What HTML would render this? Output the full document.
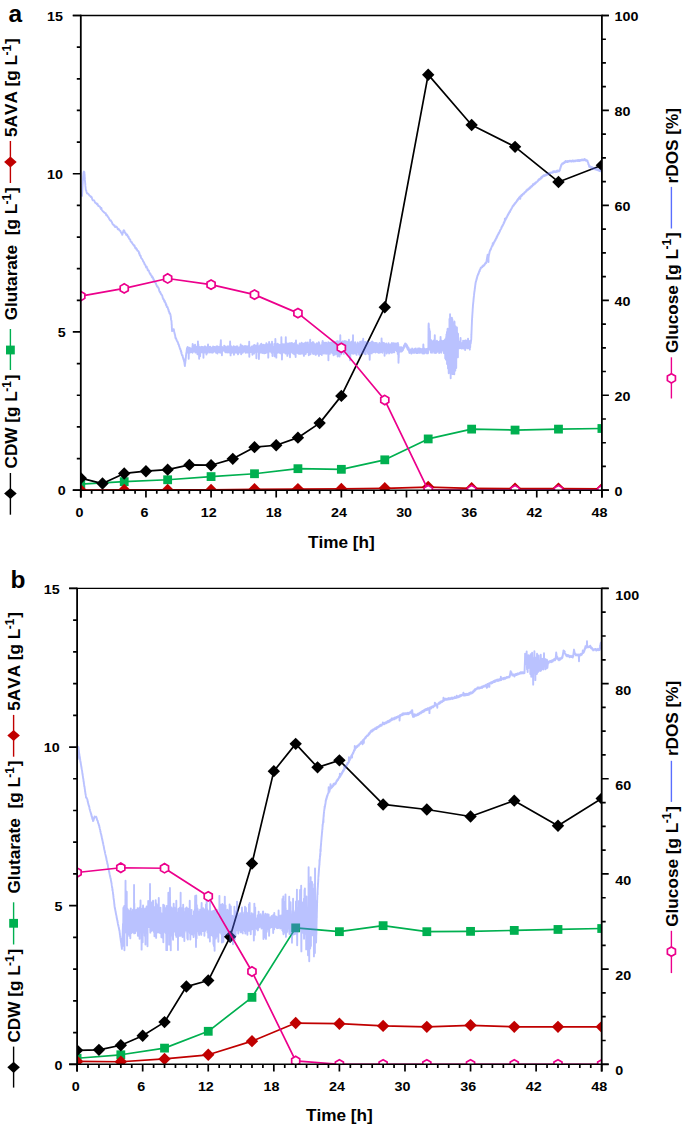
<!DOCTYPE html><html><head><meta charset="utf-8"><style>html,body{margin:0;padding:0;background:#fff;}svg{display:block;}text{font-kerning:none;font-feature-settings:"kern" 0;}</style></head><body>
<svg width="685" height="1128" viewBox="0 0 685 1128">
<rect width="685" height="1128" fill="#fff"/>
<defs>
<clipPath id="ca"><rect x="80.8" y="15.5" width="521.1" height="474.7"/></clipPath>
<clipPath id="cb"><rect x="77.1" y="588.4" width="524.6" height="475.9"/></clipPath>
</defs>
<g clip-path="url(#ca)"><polyline points="80.8,484.19 124.22,481.66 167.65,479.76 211.07,476.59 254.5,473.74 297.93,468.68 341.35,469.31 384.78,459.82 428.2,438.93 471.63,429.12 515.05,430.07 558.48,429.12 601.9,428.49" fill="none" stroke="#00B050" stroke-width="1.7" stroke-linejoin="round"/><rect x="76.4" y="479.79" width="8.8" height="8.8" fill="#00B050"/><rect x="119.82" y="477.26" width="8.8" height="8.8" fill="#00B050"/><rect x="163.25" y="475.36" width="8.8" height="8.8" fill="#00B050"/><rect x="206.67" y="472.19" width="8.8" height="8.8" fill="#00B050"/><rect x="250.1" y="469.34" width="8.8" height="8.8" fill="#00B050"/><rect x="293.53" y="464.28" width="8.8" height="8.8" fill="#00B050"/><rect x="336.95" y="464.91" width="8.8" height="8.8" fill="#00B050"/><rect x="380.38" y="455.42" width="8.8" height="8.8" fill="#00B050"/><rect x="423.8" y="434.53" width="8.8" height="8.8" fill="#00B050"/><rect x="467.23" y="424.72" width="8.8" height="8.8" fill="#00B050"/><rect x="510.65" y="425.67" width="8.8" height="8.8" fill="#00B050"/><rect x="554.08" y="424.72" width="8.8" height="8.8" fill="#00B050"/><rect x="597.5" y="424.09" width="8.8" height="8.8" fill="#00B050"/></g>
<g clip-path="url(#ca)"><polyline points="80.8,490.2 124.22,489.88 167.65,489.88 211.07,489.88 254.5,489.25 297.93,489.09 341.35,488.93 384.78,488.3 428.2,487.04 471.63,488.3 515.05,488.62 558.48,488.62 601.9,488.93" fill="none" stroke="#C00000" stroke-width="1.7" stroke-linejoin="round"/><path d="M80.8 484L87 490.2L80.8 496.4L74.6 490.2Z" fill="#C00000"/><path d="M124.22 483.68L130.42 489.88L124.22 496.08L118.02 489.88Z" fill="#C00000"/><path d="M167.65 483.68L173.85 489.88L167.65 496.08L161.45 489.88Z" fill="#C00000"/><path d="M211.07 483.68L217.27 489.88L211.07 496.08L204.88 489.88Z" fill="#C00000"/><path d="M254.5 483.05L260.7 489.25L254.5 495.45L248.3 489.25Z" fill="#C00000"/><path d="M297.93 482.89L304.12 489.09L297.93 495.29L291.73 489.09Z" fill="#C00000"/><path d="M341.35 482.73L347.55 488.93L341.35 495.13L335.15 488.93Z" fill="#C00000"/><path d="M384.78 482.1L390.98 488.3L384.78 494.5L378.58 488.3Z" fill="#C00000"/><path d="M428.2 480.84L434.4 487.04L428.2 493.24L422 487.04Z" fill="#C00000"/><path d="M471.63 482.1L477.83 488.3L471.63 494.5L465.43 488.3Z" fill="#C00000"/><path d="M515.05 482.42L521.25 488.62L515.05 494.82L508.85 488.62Z" fill="#C00000"/><path d="M558.48 482.42L564.68 488.62L558.48 494.82L552.27 488.62Z" fill="#C00000"/><path d="M601.9 482.73L608.1 488.93L601.9 495.13L595.7 488.93Z" fill="#C00000"/></g>
<g clip-path="url(#ca)"><polyline points="80.8,478.17 102.51,483.55 124.22,473.43 145.94,471.21 167.65,469.63 189.36,464.88 211.07,465.2 232.79,458.87 254.5,447.16 276.21,445.26 297.93,437.67 319.64,423.11 341.35,395.89 384.78,307.28 428.2,74.68 471.63,125 515.05,146.83 558.48,181.96 601.9,165.19" fill="none" stroke="#000" stroke-width="1.7" stroke-linejoin="round"/><path d="M80.8 471.97L87 478.17L80.8 484.37L74.6 478.17Z" fill="#000"/><path d="M102.51 477.35L108.71 483.55L102.51 489.75L96.31 483.55Z" fill="#000"/><path d="M124.22 467.23L130.42 473.43L124.22 479.63L118.02 473.43Z" fill="#000"/><path d="M145.94 465.01L152.14 471.21L145.94 477.41L139.74 471.21Z" fill="#000"/><path d="M167.65 463.43L173.85 469.63L167.65 475.83L161.45 469.63Z" fill="#000"/><path d="M189.36 458.68L195.56 464.88L189.36 471.08L183.16 464.88Z" fill="#000"/><path d="M211.07 459L217.27 465.2L211.07 471.4L204.88 465.2Z" fill="#000"/><path d="M232.79 452.67L238.99 458.87L232.79 465.07L226.59 458.87Z" fill="#000"/><path d="M254.5 440.96L260.7 447.16L254.5 453.36L248.3 447.16Z" fill="#000"/><path d="M276.21 439.06L282.41 445.26L276.21 451.46L270.01 445.26Z" fill="#000"/><path d="M297.93 431.47L304.12 437.67L297.93 443.87L291.73 437.67Z" fill="#000"/><path d="M319.64 416.91L325.84 423.11L319.64 429.31L313.44 423.11Z" fill="#000"/><path d="M341.35 389.69L347.55 395.89L341.35 402.09L335.15 395.89Z" fill="#000"/><path d="M384.78 301.08L390.98 307.28L384.78 313.48L378.58 307.28Z" fill="#000"/><path d="M428.2 68.48L434.4 74.68L428.2 80.88L422 74.68Z" fill="#000"/><path d="M471.63 118.8L477.83 125L471.63 131.2L465.43 125Z" fill="#000"/><path d="M515.05 140.63L521.25 146.83L515.05 153.03L508.85 146.83Z" fill="#000"/><path d="M558.48 175.76L564.68 181.96L558.48 188.16L552.27 181.96Z" fill="#000"/><path d="M601.9 158.99L608.1 165.19L601.9 171.39L595.7 165.19Z" fill="#000"/></g>
<g clip-path="url(#ca)"><g opacity="0.42"><polyline points="82,195.38 82.04,195.86 82.08,194.98 82.12,193.38 82.16,193.06 82.2,192.25 82.24,191.86 82.28,191.36 82.32,189.44 82.36,188.6 82.4,189.24 82.44,187.82 82.48,187.65 82.52,185.62 82.56,185.64 82.6,185.38 82.65,183.81 82.71,184.29 82.76,183.48 82.81,181.27 82.87,180.53 82.92,180.67 82.97,180.61 83.03,178.93 83.08,177.92 83.13,177.53 83.19,176.13 83.24,175.73 83.29,175.36 83.35,174.73 83.4,173.55 83.57,172.74 83.73,171.92 83.9,171.53 84.15,171.94 84.4,172.19 84.46,174.3 84.51,174.55 84.57,175.43 84.63,175.38 84.69,177.48 84.74,177.98 84.8,177.46 84.86,178.53 84.91,179.9 84.97,180.6 85.03,181.69 85.08,181.53 85.14,182.94 85.19,183.38 85.25,183.47 85.31,184.66 85.36,185.88 85.42,186.53 85.47,186.66 85.53,187.51 85.59,187.28 85.64,188.35 85.7,190.01 85.96,190.05 86.22,190.34 86.48,191.68 86.74,192.65 87,193.3 87.65,193.34 88.3,194 88.95,194.66 89.6,195.67 90.04,195.84 90.47,196.22 90.91,196.98 91.35,196.8 91.79,197.42 92.22,199.15 92.66,200.22 93.1,200.16 93.63,200.35 94.16,200.5 94.69,201.59 95.22,202.94 95.75,203.11 96.28,203.25 96.81,204.32 97.34,203.78 97.87,204.79 98.4,206.07 98.89,206.01 99.38,206.39 99.87,206.64 100.36,207.69 100.84,208.97 101.33,207.93 101.82,209.83 102.31,210.47 102.8,211.16 103.29,211.5 103.78,212.2 104.27,212.3 104.76,212.96 105.24,213.32 105.73,213.28 106.22,215.25 106.71,215.33 107.2,215.29 107.59,216.4 107.98,216.95 108.37,217.32 108.76,217.89 109.14,218.81 109.53,219.54 109.92,220.11 110.31,220.44 110.7,220.3 111.18,221.22 111.66,221.71 112.13,222.98 112.61,224.02 113.09,224.5 113.57,225.07 114.04,225.68 114.52,225.31 115,226.88 115.55,227.09 116.1,226.59 116.65,226.98 117.2,227.47 117.75,229.23 118.3,228.87 118.85,229.14 119.4,230.51 119.81,230.64 120.23,230.77 120.64,231.52 121.06,232.75 121.47,232.74 121.89,233.51 122.3,234.86 122.55,233.72 122.8,232.8 123.05,232.36 123.3,230.89 123.55,230.81 123.8,230.17 124.14,230.41 124.48,230.91 124.82,232.9 125.16,232.88 125.5,233.01 125.95,234.23 126.4,235.14 126.85,234.34 127.3,234.88 127.75,235.65 128.2,237.17 128.6,236.86 129,238.42 129.4,239.01 129.8,239.42 130.2,239.51 130.6,241.43 131,241.76 131.4,241.92 131.8,242.06 132.2,243.42 132.6,243.62 133.03,244.49 133.47,244.61 133.9,245.7 134.33,245.28 134.77,246.25 135.2,247.95 135.63,248.35 136.07,247.94 136.5,249.43 136.93,249.06 137.37,250.69 137.8,250.91 138.11,250.99 138.43,251.35 138.74,251.56 139.06,253.68 139.37,252.88 139.69,254.84 140,255.72 140.31,255.69 140.63,255.64 140.94,257.46 141.26,258.27 141.57,258.45 141.89,258.75 142.2,259.16 142.51,259.74 142.83,260.13 143.14,261.56 143.46,261.79 143.77,262.01 144.09,262.49 144.4,264.08 144.77,264.07 145.14,265.03 145.52,265.35 145.89,266.9 146.26,267.56 146.63,266.68 147.01,267.61 147.38,268.44 147.75,270.18 148.12,270.45 148.49,270.31 148.87,270.71 149.24,272.11 149.61,273.01 149.98,273.78 150.36,273.4 150.73,274.93 151.1,275.22 151.44,275.5 151.79,276.98 152.13,276.32 152.47,277.78 152.82,277.32 153.16,278.09 153.51,279.97 153.85,279.41 154.19,280.97 154.54,281.32 154.88,282.35 155.22,282.18 155.57,282.75 155.91,283.3 156.26,284.9 156.6,285.08 156.92,286.33 157.25,286.86 157.57,286.24 157.89,287.6 158.22,287.49 158.54,288.03 158.86,288.75 159.19,290.75 159.51,291.27 159.84,291.99 160.16,291.81 160.48,292.93 160.81,293.87 161.13,293.83 161.45,294.81 161.78,294.88 162.1,295.29 162.39,296.25 162.69,297.95 162.98,298.04 163.28,299.29 163.57,299.14 163.87,299.47 164.16,300.98 164.46,301.69 164.75,300.95 165.05,302.71 165.34,302.37 165.64,303.05 165.93,305 166.23,304.21 166.52,305.19 166.82,307.1 167.11,306.78 167.41,306.9 167.7,307.63 167.97,308.42 168.24,309.93 168.51,309.5 168.78,311.54 169.05,311.29 169.32,312.96 169.59,313.52 169.86,313.13 170.13,313.72 170.4,314.76 170.51,314.83 170.62,316.48 170.73,316.14 170.84,316.8 170.95,319.17 171.05,318.71 171.16,319.93 171.27,320.39 171.38,320.86 171.49,321.15 171.6,323.3 171.64,324.13 171.68,324.87 171.72,324.14 171.77,325.05 171.81,326.47 171.85,327.82 171.89,327.81 171.93,328.79 171.97,329.48 172.02,329.52 172.06,330.74 172.1,331.07 172.67,330.34 173.23,329.42 173.8,329.13 173.96,331.07 174.12,330.91 174.28,332.01 174.44,332.74 174.6,334 174.76,333.81 174.92,334.42 175.08,335.21 175.24,335.94 175.4,337.59 175.66,338.32 175.93,337.97 176.19,338.68 176.46,339.69 176.72,340.4 176.99,341.08 177.25,341.14 177.52,341.41 177.78,342.44 178.05,342.8 178.31,344.27 178.58,344.11 178.84,344.77 179.11,346.37 179.37,346.44 179.64,347.94 179.9,348.09 180.12,349.38 180.34,348.84 180.56,350.1 180.78,351.26 181,350.71 181.22,352.85 181.44,352.2 181.66,353.89 181.88,354.91 182.1,355.3 182.32,355.11 182.54,355.41 182.76,356.77 182.98,358.12 183.2,357.72 183.42,359.41 183.64,358.8 183.86,360.77 184.08,359.94 184.3,361.09 184.4,362.82 184.5,363.38 184.6,364.29 184.7,364.91 184.8,365.49 184.9,366.12 184.98,364.54 185.06,364.26 185.14,363.08 185.21,363.31 185.29,362.51 185.37,361.09 185.45,360.06 185.53,360.87 185.61,359.9 185.69,358.74 185.76,358.01 185.84,357.83 185.92,356.43 186,355.62 186.1,354.83 186.2,353.99 186.3,352.89 186.4,353.25 186.5,352.16 186.6,351.72 186.7,350.16 186.8,349.95 186.9,348.89 187,348.16 187.1,348.1 187.5,352.53 187.62,346.95 187.74,351.78 187.86,350.75 187.98,350.35 188.1,350.2 188.22,349.26 188.34,351.08 188.46,352.49 188.58,349.35 188.7,358.78 188.82,352.23 188.94,352.08 189.06,347.68 189.18,347.68 189.3,349.75 189.42,349.77 189.54,352.77 189.66,349.15 189.78,352.23 189.9,350.27 190.02,351.92 190.14,352.52 190.26,351.17 190.38,348.12 190.5,349.67 190.62,351.53 190.74,349.4 190.86,348.75 190.98,350.04 191.1,350.67 191.22,351.64 191.34,352.03 191.46,351.38 191.58,348.44 191.7,351.74 191.82,349.72 191.94,349.09 192.06,349.6 192.18,350.82 192.3,351.45 192.42,346.59 192.54,352.78 192.66,343.9 192.78,352.27 192.9,347.39 193.02,351.7 193.14,346.91 193.26,351.29 193.38,348.79 193.5,346.67 193.62,345.45 193.74,347.32 193.86,351.13 193.98,346.53 194.1,351.51 194.22,345.74 194.34,349.59 194.46,349.98 194.58,346.8 194.7,349.04 194.82,347.47 194.94,347.09 195.06,344.82 195.18,351.42 195.3,348.57 195.42,348.65 195.54,352.62 195.66,350.91 195.78,350.72 195.9,347.32 196.02,349.35 196.14,352.27 196.26,346.69 196.38,350.99 196.5,346.99 196.62,351.48 196.74,348.76 196.86,348.24 196.98,347.43 197.1,347.49 197.22,347.03 197.34,346.6 197.46,354.19 197.58,349.86 197.7,350.8 197.82,347.8 197.94,341.56 198.06,352.35 198.18,352.3 198.3,344.29 198.42,348.3 198.54,353.05 198.66,348.4 198.78,352.94 198.9,350.5 199.02,352.1 199.14,358.78 199.26,346.94 199.38,347.67 199.5,348.94 199.62,351.23 199.74,347.22 199.86,346.95 199.98,350.52 200.1,356.25 200.22,351.04 200.34,348.71 200.46,351.52 200.58,349.78 200.7,352.51 200.82,352.37 200.94,348.32 201.06,349.54 201.18,349.15 201.3,352.28 201.42,351.64 201.54,348.69 201.66,347.35 201.78,346.84 201.9,352.13 202.02,350.55 202.14,348.31 202.26,350.7 202.38,349.21 202.5,347.12 202.62,352.48 202.74,347.02 202.86,350.98 202.98,352.13 203.1,350.9 203.22,352.77 203.34,350.07 203.46,357.71 203.58,347.55 203.7,349.48 203.82,350.94 203.94,350.91 204.06,352.56 204.18,351.17 204.3,351.27 204.42,347.83 204.54,348.97 204.66,352.65 204.78,346.45 204.9,350.95 205.02,350.55 205.14,346.48 205.26,351.06 205.38,352.19 205.5,347.02 205.62,351.3 205.74,351.15 205.86,347.6 205.98,347.25 206.1,349.16 206.22,350.01 206.34,347.68 206.46,354.55 206.58,350.67 206.7,350.17 206.82,352.3 206.94,352.01 207.06,352.72 207.18,348.59 207.3,352.4 207.42,347.99 207.54,351.72 207.66,346.69 207.78,352.75 207.9,347.35 208.02,344.56 208.14,348.81 208.26,351.96 208.38,350.53 208.5,349.82 208.62,346.83 208.74,348.3 208.86,351.48 208.98,348.87 209.1,346.93 209.22,348.86 209.34,351.83 209.46,350.39 209.58,347.83 209.7,347.82 209.82,352.53 209.94,351.62 210.06,348.68 210.18,346.81 210.3,347.39 210.42,348.2 210.54,352.29 210.66,350.46 210.78,348.42 210.9,347.85 211.02,350.71 211.14,348.61 211.26,347.81 211.38,350.41 211.5,351.65 211.62,352.01 211.74,349.56 211.86,352.47 211.98,351.18 212.1,352.38 212.22,352.66 212.34,350.34 212.46,348.68 212.58,347.42 212.7,348.59 212.82,352.11 212.94,352.54 213.06,346.46 213.18,348.62 213.3,352.04 213.42,349.12 213.54,347.81 213.66,348.81 213.78,350.43 213.91,348.33 214.03,346.88 214.15,347.6 214.27,349.01 214.39,348.5 214.51,347.83 214.63,348.46 214.75,351.28 214.87,347.19 214.99,349.06 215.11,347.12 215.23,351.79 215.35,351.28 215.47,348.83 215.59,348.81 215.71,350.3 215.83,351.73 215.95,350.1 216.07,352.7 216.19,351.75 216.31,348.94 216.43,346.53 216.55,352.77 216.67,352.39 216.79,352.24 216.91,348.23 217.03,346.28 217.15,348.53 217.27,347.19 217.39,346.82 217.51,353.44 217.63,349.39 217.75,347.13 217.87,346.61 217.99,352.26 218.11,349.65 218.23,351.98 218.35,349.45 218.47,346.97 218.59,347.6 218.71,347.62 218.83,350.31 218.95,352.17 219.07,349.54 219.19,347.27 219.31,351.6 219.43,347.58 219.55,348.16 219.67,349.02 219.79,351.46 219.91,349.91 220.03,348.07 220.15,352.71 220.27,350.83 220.39,345.63 220.51,343.92 220.63,351.09 220.75,342.02 220.87,340.19 220.99,347.1 221.11,352.25 221.23,346.78 221.35,351.93 221.47,352.55 221.59,348.32 221.71,351.8 221.83,346.61 221.95,355.28 222.07,346.97 222.19,347.96 222.31,347.58 222.43,349.73 222.55,349.64 222.67,347.49 222.79,350.76 222.91,349.13 223.03,348.45 223.15,347.84 223.27,349.31 223.39,349.27 223.51,348.2 223.63,350.17 223.75,347.62 223.87,350.52 223.99,350.68 224.11,347.51 224.23,345.62 224.35,348.22 224.47,347.83 224.59,348.41 224.71,348.92 224.83,346.24 224.95,347 225.07,350.17 225.19,346.55 225.31,352.23 225.43,349.43 225.55,352.24 225.67,348.11 225.79,352.3 225.91,350.82 226.03,350.06 226.15,349.61 226.27,347.53 226.39,350.56 226.51,350.26 226.63,349.02 226.75,348.72 226.87,348.64 226.99,347.6 227.11,351.58 227.23,352.44 227.35,346.45 227.47,348.78 227.59,346.76 227.71,349.58 227.83,349.99 227.95,351.02 228.07,346.25 228.19,346.95 228.31,348.24 228.43,350.22 228.55,352.41 228.67,349.83 228.79,350.58 228.91,347.01 229.03,350.51 229.15,352.43 229.27,348.36 229.39,350.15 229.51,351.35 229.63,352.45 229.75,351.48 229.87,349.49 229.99,346.23 230.11,341.5 230.23,346.57 230.35,350.17 230.47,348.88 230.59,355.37 230.71,348.04 230.83,346.32 230.95,351.37 231.07,348.76 231.19,346.79 231.31,346.5 231.43,352.99 231.55,351.8 231.67,347.53 231.79,352.77 231.91,348.92 232.03,347.08 232.15,351.01 232.27,352.52 232.39,351.57 232.51,350.08 232.63,351.91 232.75,349.38 232.87,351.8 232.99,347.72 233.11,347.04 233.23,350.29 233.35,349.2 233.47,348.97 233.59,348.41 233.71,346.22 233.83,351.68 233.95,354.74 234.07,350.67 234.19,350.84 234.31,351.76 234.43,350.51 234.55,349.63 234.67,352.47 234.79,348.85 234.91,352.1 235.03,350.44 235.15,346.79 235.27,350.24 235.39,352.55 235.51,348.65 235.63,351.2 235.75,348.46 235.87,348.36 235.99,350.51 236.11,348.76 236.23,352.72 236.35,348.75 236.47,349.87 236.59,350.39 236.71,352.09 236.83,350.53 236.95,346.24 237.07,346.75 237.19,348.44 237.31,350.98 237.43,351.66 237.55,346.51 237.67,348.71 237.79,349 237.91,353.15 238.03,354.3 238.15,352.1 238.27,351.94 238.39,349.89 238.51,350.14 238.63,348.02 238.75,349.84 238.87,349.13 238.99,349.4 239.11,347.6 239.23,352.67 239.35,347.6 239.47,350.89 239.59,349.96 239.71,351.86 239.83,349.44 239.95,348.72 240.07,348.41 240.19,347.29 240.31,352.28 240.43,350.15 240.55,346.84 240.67,344.52 240.79,350.31 240.91,347.8 241.03,346.06 241.15,354.27 241.27,346.75 241.39,347.12 241.51,351.97 241.63,352.53 241.75,346.92 241.87,346.42 241.99,349.53 242.11,345.71 242.23,352.19 242.35,348.02 242.47,351.81 242.59,349.07 242.71,352.68 242.83,348.32 242.95,350.72 243.07,347.2 243.19,347.42 243.31,347.77 243.43,346.38 243.55,351.77 243.67,350.85 243.79,346.79 243.91,351.02 244.03,351.15 244.15,348.23 244.27,346.38 244.39,346.2 244.51,349.29 244.63,348.35 244.75,347.93 244.87,346.91 244.99,345.91 245.11,346.85 245.23,350.8 245.35,351.25 245.47,352.26 245.59,352.75 245.71,350.9 245.83,351.45 245.95,351.93 246.07,347.31 246.19,346.11 246.31,348.83 246.43,349.74 246.55,349.51 246.67,351.85 246.79,352.46 246.91,351.17 247.03,350.25 247.15,350.72 247.27,349.42 247.39,350.15 247.51,352.66 247.63,346.33 247.75,346.73 247.87,350.55 247.99,349.01 248.11,346.16 248.23,345.95 248.35,351.48 248.47,347.5 248.59,346.12 248.71,346.73 248.83,352.38 248.95,352.75 249.07,351.15 249.19,341.68 249.31,356.73 249.43,351.73 249.55,351.77 249.67,349.79 249.79,352.43 249.91,349.74 250.03,351.85 250.15,347.85 250.27,350.37 250.39,351.34 250.51,348.76 250.63,349.56 250.75,347.55 250.87,349.86 250.99,352.06 251.11,349.56 251.23,347.68 251.35,348.33 251.47,347.27 251.59,346.57 251.71,347.03 251.83,351.5 251.95,347.86 252.07,351.08 252.19,348.33 252.31,352.13 252.43,354.69 252.55,347.79 252.67,350.89 252.79,352.12 252.91,349.77 253.03,349.23 253.15,347.58 253.27,345.72 253.39,348.47 253.51,345.89 253.63,346.94 253.75,347.66 253.87,350.28 253.99,353.6 254.11,351.01 254.23,349.21 254.35,344.97 254.47,350.61 254.59,348.59 254.71,345.96 254.83,351.16 254.95,352.18 255.07,349.4 255.19,345.6 255.31,350.53 255.43,349.45 255.55,350.45 255.67,350.59 255.79,351.75 255.91,345.49 256.03,352.66 256.15,349.34 256.27,347.55 256.39,358.26 256.51,346.08 256.63,350.45 256.75,348.43 256.87,352.12 256.99,350.8 257.11,345.46 257.23,347.07 257.35,346.88 257.47,350.51 257.59,343.16 257.71,350.24 257.83,350.6 257.95,346.76 258.07,351.36 258.19,345.95 258.31,346.59 258.43,347.35 258.55,351.61 258.67,350.29 258.79,351.27 258.91,359.05 259.03,353.04 259.15,346.16 259.27,347.34 259.39,348.42 259.51,352.18 259.63,352.7 259.75,349.89 259.87,350.13 259.99,345.63 260.11,345.2 260.23,348.86 260.35,346.04 260.47,345.78 260.59,348.5 260.71,347.03 260.83,352.5 260.95,344.09 261.07,351.39 261.19,351.14 261.31,343.73 261.43,348.3 261.55,348.36 261.67,345.03 261.79,345.04 261.91,352.11 262.03,346.69 262.15,347.13 262.27,352.41 262.39,353.01 262.51,349.78 262.63,349.88 262.75,352.92 262.87,350.38 262.99,351.51 263.11,344.86 263.23,344.72 263.35,346.62 263.47,350.41 263.59,350.6 263.71,353 263.83,352.88 263.95,353.15 264.07,348.89 264.19,349.75 264.31,347.4 264.43,353.19 264.55,348.83 264.67,347.98 264.79,350.77 264.91,344.92 265.03,352.82 265.15,350.57 265.27,349.35 265.39,351.09 265.51,351.35 265.63,352.98 265.75,348.45 265.87,352.83 265.99,346.58 266.11,351.66 266.23,352.23 266.35,343.3 266.47,348.26 266.59,350.42 266.72,350.11 266.84,346.24 266.96,352.53 267.08,351.21 267.2,348.82 267.32,345.11 267.44,349.3 267.56,345.26 267.68,344.36 267.8,346.72 267.92,352.78 268.04,348.66 268.16,348.73 268.28,357.64 268.4,349.93 268.52,346.23 268.64,348.39 268.76,350.25 268.88,346.96 269,350.77 269.12,342.03 269.24,349.78 269.36,347.83 269.48,349.66 269.6,344.79 269.72,349.57 269.84,350.65 269.96,351.62 270.08,349.65 270.2,344.69 270.32,348.63 270.44,350.66 270.56,347.97 270.68,349.03 270.8,346.52 270.92,347.26 271.04,350.42 271.16,351.42 271.28,344.06 271.4,351.08 271.52,352.69 271.64,348.03 271.76,352.24 271.88,351.17 272,341.81 272.12,347.28 272.24,351.76 272.36,349.19 272.48,356.06 272.6,346.78 272.72,351.78 272.84,348.6 272.96,351.31 273.08,349.32 273.2,349.53 273.32,348.03 273.44,347.66 273.56,348.89 273.68,347.64 273.8,350.43 273.92,347.82 274.04,352.02 274.16,352.71 274.28,343.97 274.4,348.97 274.52,352.44 274.64,356.42 274.76,346.6 274.88,344.05 275,346.79 275.12,351.83 275.24,348.69 275.36,339.06 275.48,342.77 275.6,346.42 275.72,350.39 275.84,347.51 275.96,344.12 276.08,350.18 276.2,345 276.32,357.64 276.44,347 276.56,353.07 276.68,349.99 276.8,348.37 276.92,349.79 277.04,348.18 277.16,351.87 277.28,345.63 277.4,352.72 277.52,343.79 277.64,352.72 277.76,349.31 277.88,347.72 278,351.99 278.12,345.2 278.24,348.88 278.36,351.2 278.48,344.48 278.6,348.06 278.72,344.91 278.84,344.61 278.96,351.19 279.08,350.52 279.2,346.27 279.32,347.95 279.44,351.44 279.56,352.85 279.68,346.66 279.8,347.93 279.92,347.1 280.04,352.56 280.16,344.96 280.28,351.78 280.4,352.67 280.52,345.54 280.64,346.82 280.76,346.1 280.88,350.44 281,353.47 281.12,344.04 281.24,350.52 281.36,337.27 281.48,343.96 281.6,345.02 281.72,349.45 281.84,347.58 281.96,359.47 282.08,352.73 282.2,351 282.32,345.81 282.44,345.43 282.56,346.42 282.68,347.77 282.8,344.19 282.92,345.25 283.04,345.79 283.16,350.06 283.28,352.09 283.4,352.58 283.52,346.95 283.64,351.75 283.76,347.89 283.88,346.09 284,344.11 284.12,344.72 284.24,345.64 284.36,351.26 284.48,346.2 284.6,350.15 284.72,350.14 284.84,344.62 284.96,348.64 285.08,353.01 285.2,350.52 285.32,347.08 285.44,353.47 285.56,353.53 285.68,344.07 285.8,337.12 285.92,350.99 286.04,352.01 286.16,349.47 286.28,351.13 286.4,347.98 286.52,347.58 286.64,352.86 286.76,344.65 286.88,345.34 287,343.54 287.12,347.36 287.24,344.89 287.36,355.9 287.48,345.04 287.6,351.34 287.72,345.05 287.84,345.13 287.96,351.45 288.08,348.45 288.2,350.24 288.32,353.61 288.44,346.08 288.56,345.57 288.68,352.28 288.8,343.53 288.92,346.27 289.04,353.15 289.16,349.17 289.28,343.31 289.4,343.18 289.52,345.43 289.64,350.52 289.76,347.99 289.88,349.51 290,357.35 290.12,346.38 290.24,347.81 290.36,349.64 290.48,352.97 290.6,346.28 290.72,343.18 290.84,347.54 290.96,343.44 291.08,345.16 291.2,346.81 291.32,346.69 291.44,344.44 291.56,344.23 291.68,349.05 291.8,342.96 291.92,346.03 292.04,343.22 292.16,343.82 292.28,347.9 292.4,352.57 292.52,351.2 292.64,350.79 292.76,351.37 292.88,353.29 293,343.73 293.12,346.21 293.24,345.13 293.36,348.49 293.48,350.26 293.6,346.82 293.72,348.51 293.84,349.27 293.96,348.84 294.08,345.6 294.2,354.18 294.32,347.07 294.44,353.65 294.56,346.67 294.68,353.5 294.8,343.18 294.92,343.54 295.04,352.82 295.16,350.84 295.28,351.92 295.4,347.31 295.52,353.24 295.64,356.99 295.76,343.1 295.88,342.87 296,340.4 296.12,348.59 296.24,351.46 296.36,351.71 296.48,348.67 296.6,345.16 296.72,348.13 296.84,344.4 296.96,345.52 297.08,352.69 297.2,348.55 297.32,348.31 297.44,352.41 297.56,350.25 297.68,345.52 297.8,347.22 297.92,348.39 298.04,351.32 298.16,350.44 298.28,353.35 298.4,347.63 298.52,345.99 298.64,346.3 298.76,348.8 298.88,346.08 299,353.89 299.12,350.65 299.24,348.84 299.36,344.53 299.48,350.33 299.6,347.21 299.72,343.35 299.84,353.87 299.96,347.88 300.08,348.71 300.2,350.51 300.32,345.64 300.44,353.59 300.56,352.66 300.68,352.82 300.8,350.83 300.92,353.41 301.04,353.65 301.16,344.91 301.28,347.75 301.4,350.41 301.52,353.55 301.64,342.64 301.76,350.04 301.88,351.01 302,352.86 302.12,353.41 302.24,350.8 302.36,352.6 302.48,344.23 302.6,344.35 302.72,352.41 302.84,351.31 302.96,349.74 303.08,343.71 303.2,351 303.32,354.03 303.44,352.1 303.56,350.65 303.68,346.95 303.8,347.38 303.92,355.89 304.04,352.33 304.16,344.5 304.28,347.88 304.4,353.18 304.52,343.27 304.64,346.18 304.76,349.66 304.88,343.41 305,354.2 305.12,349.62 305.24,349.19 305.36,353.2 305.48,347.23 305.6,348.93 305.72,353.9 305.84,342.56 305.96,348.79 306.08,348.39 306.2,347.29 306.32,352.5 306.44,346.94 306.56,351.89 306.68,346.96 306.8,351.98 306.92,348.45 307.04,346.36 307.16,343.31 307.28,342.88 307.4,351.95 307.52,349.15 307.64,347.46 307.76,343.66 307.88,342.33 308,350.94 308.12,344.6 308.24,347.57 308.36,344.52 308.48,351.48 308.6,350.62 308.72,353.74 308.84,355.27 308.96,353.87 309.08,352.06 309.2,351.39 309.32,344.79 309.44,353.85 309.56,347.51 309.68,352.33 309.8,343.88 309.92,349.88 310.04,342.57 310.16,339.69 310.28,349.41 310.4,342.48 310.52,354.26 310.64,347.83 310.76,344.89 310.88,350.74 311,349.57 311.12,350.56 311.24,347.33 311.36,351.43 311.48,351.67 311.6,348.08 311.72,344.25 311.84,346.82 311.96,351.72 312.08,347.09 312.2,342.58 312.32,347.99 312.44,343.92 312.56,342.87 312.68,342.25 312.8,353.62 312.92,345.58 313.04,342.45 313.16,348.42 313.28,347.9 313.4,347.26 313.52,342.53 313.64,352.08 313.76,353.78 313.88,354.02 314,345.8 314.12,343.89 314.24,352.09 314.36,351.28 314.48,352.44 314.6,346.09 314.72,353.11 314.84,345.44 314.96,345.05 315.08,344.24 315.2,351.55 315.32,354.04 315.44,345.92 315.56,350.7 315.68,354.88 315.8,354.84 315.92,352.67 316.04,353.24 316.16,350.27 316.28,353.9 316.4,353.45 316.52,345.84 316.64,346.5 316.76,345.97 316.88,343.12 317,353.31 317.12,343.86 317.24,352.3 317.36,347.74 317.48,348.49 317.6,353.23 317.72,353.69 317.84,347.55 317.96,344.88 318.08,353.07 318.2,352.45 318.32,349.82 318.44,344.95 318.56,351.72 318.68,349.25 318.8,342.11 318.92,355.91 319.04,346.36 319.16,342.93 319.28,353.79 319.41,344.11 319.53,344.54 319.65,348.14 319.77,347.34 319.89,350.95 320.01,346.12 320.13,352.28 320.25,345.92 320.37,354.03 320.49,349.34 320.61,350.49 320.73,345.61 320.85,346.12 320.97,349.04 321.09,349.25 321.21,348.4 321.33,347.59 321.45,347.86 321.57,349.28 321.69,345.99 321.81,355.07 321.93,351.58 322.05,344.37 322.17,352.73 322.29,342.26 322.41,344.08 322.53,353 322.65,340.87 322.77,352.65 322.89,353.15 323.01,344.88 323.13,343.01 323.25,352.54 323.37,343.71 323.49,351.08 323.61,342.42 323.73,346.16 323.85,349.43 323.97,353.66 324.09,344.92 324.21,349.66 324.33,347.76 324.45,345.95 324.57,344.54 324.69,352.46 324.81,343.77 324.93,347.49 325.05,345.09 325.17,344.42 325.29,342.69 325.41,343.74 325.53,346.61 325.65,352.37 325.77,347.91 325.89,346.92 326.01,353.75 326.13,350.55 326.25,342.81 326.37,348.92 326.49,352.12 326.61,353.29 326.73,346.87 326.85,353.58 326.97,351.29 327.09,347.4 327.21,346.73 327.33,347.38 327.45,345.52 327.57,346.77 327.69,344.05 327.81,352.15 327.93,352.55 328.05,348.33 328.17,350.18 328.29,342.23 328.41,360.24 328.53,346.19 328.65,345.94 328.77,353.19 328.89,348.56 329.01,345.9 329.13,351.8 329.25,351.92 329.37,353.43 329.49,345.72 329.61,342.85 329.73,353.6 329.85,353.87 329.97,344.75 330.09,342.77 330.21,351.26 330.33,350.96 330.45,351.13 330.57,348.89 330.69,344.4 330.81,348.06 330.93,352.3 331.05,342.63 331.17,348.52 331.29,349.59 331.41,342.51 331.53,342.98 331.65,349.49 331.77,347.1 331.89,349.68 332.01,352.4 332.13,350.33 332.25,345.08 332.37,345.65 332.49,353.41 332.61,348.7 332.73,346.75 332.85,350.18 332.97,344.09 333.09,341.7 333.21,348.4 333.33,347.88 333.45,347.63 333.57,355.25 333.69,346.91 333.81,346.91 333.93,341.65 334.05,342.34 334.17,349.23 334.29,347.53 334.41,347.47 334.53,352.33 334.65,350.51 334.77,345.99 334.89,349.7 335.01,354.54 335.13,345.1 335.25,351.07 335.37,342.01 335.49,342.57 335.61,344.65 335.73,345.9 335.85,342.63 335.97,351.6 336.09,346.83 336.21,343.4 336.33,352.17 336.45,347.45 336.57,346.42 336.69,344.26 336.81,350.77 336.93,354.29 337.05,341.3 337.17,352.63 337.29,347.07 337.41,341.1 337.53,350.54 337.65,356.6 337.77,344.84 337.89,342.51 338.01,344.47 338.13,354.3 338.25,351.51 338.37,342.1 338.49,348.85 338.61,344.96 338.73,348.34 338.85,349.19 338.97,341.46 339.09,351.36 339.21,347.87 339.33,349.84 339.45,343.05 339.57,356.61 339.69,344.4 339.81,344.99 339.93,343.15 340.05,342.8 340.17,351.16 340.29,335.22 340.41,346.68 340.53,344.19 340.65,351.83 340.77,352.08 340.89,346.24 341.01,353.4 341.13,354.27 341.25,347.79 341.37,342.18 341.49,342.37 341.61,342.71 341.73,348.3 341.85,352 341.97,351.68 342.09,351.91 342.21,352.14 342.33,350.04 342.45,341.4 342.57,347.63 342.69,344.29 342.81,348.54 342.93,341.32 343.05,343.33 343.17,342.43 343.29,351.26 343.41,350.88 343.53,349.36 343.65,352.31 343.77,353.92 343.89,346.62 344.01,349.41 344.13,345.32 344.25,346.72 344.37,342.84 344.49,347.86 344.61,341.65 344.73,342.93 344.85,340.87 344.97,351.66 345.09,341.72 345.21,347.82 345.33,346.64 345.45,347.95 345.57,348.31 345.69,349.12 345.81,342.16 345.93,344.35 346.05,341.5 346.17,348.89 346.29,348.53 346.41,350.82 346.53,349.71 346.65,343.58 346.77,343.76 346.89,349.63 347.01,341.63 347.13,343.45 347.25,354.6 347.37,342.79 347.49,346.14 347.61,343.29 347.73,353.85 347.85,354.59 347.97,342.27 348.09,346.97 348.21,344.49 348.33,349.93 348.45,350.74 348.57,347 348.69,350.68 348.81,353.57 348.93,339.58 349.05,351.04 349.17,351.72 349.29,344.11 349.41,349.42 349.53,348.98 349.65,346.24 349.77,346.05 349.89,354.13 350.01,360.3 350.13,354.85 350.25,359.68 350.37,350.75 350.49,348.74 350.61,344.33 350.73,342.43 350.85,351.4 350.97,351.35 351.09,352.29 351.21,341.83 351.33,349.94 351.45,341.59 351.57,350.45 351.69,343.36 351.81,341.62 351.93,345.65 352.05,346.12 352.17,353.47 352.29,343.39 352.41,345.44 352.53,352.31 352.65,349.55 352.77,351.03 352.89,349.43 353.01,335.32 353.13,344.26 353.25,342.7 353.37,353.56 353.49,343.75 353.61,343.32 353.73,353.73 353.85,347.96 353.97,349.85 354.09,345.72 354.21,353.07 354.33,353.27 354.45,347.2 354.57,342.85 354.69,350.48 354.81,348.61 354.93,348.91 355.05,349.35 355.17,342.11 355.29,344.6 355.41,352.43 355.53,351.21 355.65,346.89 355.77,352.51 355.89,353.53 356.01,346.94 356.13,351.7 356.25,348.24 356.37,348.79 356.49,344.39 356.61,354.9 356.73,351.85 356.85,351.22 356.97,345.27 357.09,344.65 357.21,351.85 357.33,352.49 357.45,347.31 357.57,344.91 357.69,342.44 357.81,344.5 357.93,343.12 358.05,345.62 358.17,345.7 358.29,347.49 358.41,347.98 358.53,348.4 358.65,345.97 358.77,346.91 358.89,346.46 359.01,354.13 359.13,350.97 359.25,350.19 359.37,343.39 359.49,351.95 359.61,346.67 359.73,355.59 359.85,346.13 359.97,348.1 360.09,343.09 360.21,341.61 360.33,342.58 360.45,344.44 360.57,351.62 360.69,342.1 360.81,345.97 360.93,347.51 361.05,346.95 361.17,343.67 361.29,352.44 361.41,351.6 361.53,351.73 361.65,344.83 361.77,344.1 361.89,344.74 362.01,350.65 362.13,341.14 362.25,353.54 362.37,352.04 362.49,342.38 362.61,347.62 362.73,344.09 362.85,347.7 362.97,352.74 363.09,343.87 363.21,338.73 363.33,347.42 363.45,349.6 363.57,342.46 363.69,341.95 363.81,347.1 363.93,344.23 364.05,342.01 364.17,350.37 364.29,351.96 364.41,346.51 364.53,353.83 364.65,346.29 364.77,342.32 364.89,353.08 365.01,353.14 365.13,346.14 365.25,351 365.37,342.38 365.49,353.45 365.61,341.99 365.73,354.25 365.85,343.63 365.97,350.45 366.09,344.95 366.21,350.21 366.33,349.02 366.45,350.99 366.57,346.07 366.69,349.08 366.81,347.63 366.93,344.46 367.05,346.58 367.17,342.18 367.29,348.62 367.41,345.68 367.53,348.23 367.65,344 367.77,342.04 367.89,352.88 368.01,353.32 368.13,346.01 368.25,351.65 368.37,353.99 368.49,347.23 368.61,348.25 368.73,344.95 368.85,345.22 368.97,344.62 369.09,344.14 369.21,343.03 369.33,345.34 369.45,348.54 369.57,350.59 369.69,359.69 369.81,354.61 369.93,352.05 370.05,345.33 370.17,342.84 370.29,346.56 370.41,344.05 370.53,352.17 370.65,343.34 370.77,343.28 370.89,345.3 371.01,345.64 371.13,342.99 371.25,349.25 371.37,347.54 371.49,343.86 371.61,341.66 371.73,353.4 371.85,343.64 371.97,348.16 372.09,343.61 372.22,341.4 372.34,345.71 372.46,345.02 372.58,342.93 372.7,350.2 372.82,352.36 372.94,345.34 373.06,346.97 373.18,342.6 373.3,342.55 373.42,344.58 373.54,352.13 373.66,349.63 373.78,349.28 373.9,350.57 374.02,351.06 374.14,348.65 374.26,351.44 374.38,347.14 374.5,349.99 374.62,345.65 374.74,351.73 374.86,342.99 374.98,346.41 375.1,347.5 375.22,345.73 375.34,350.43 375.46,352.46 375.58,343.05 375.7,342.92 375.82,346.36 375.94,343.82 376.06,343.32 376.18,349.53 376.3,351.79 376.42,348.41 376.54,348.74 376.66,351.1 376.78,343.07 376.9,345.97 377.02,344.15 377.14,351.07 377.26,348.05 377.38,346.84 377.5,352.26 377.62,347.57 377.74,351.58 377.86,349.58 377.98,352.15 378.1,349.42 378.22,351.39 378.34,344.51 378.46,346.39 378.58,349.86 378.7,350.78 378.82,352.88 378.94,350.84 379.06,349.36 379.18,352.22 379.3,346.88 379.42,342.91 379.54,343.6 379.66,344.45 379.78,344.78 379.9,345.39 380.02,343.78 380.14,352.49 380.26,351.77 380.38,343.86 380.5,349.69 380.62,347.13 380.74,349.54 380.86,352.1 380.98,351 381.1,343.57 381.22,346.11 381.34,348.84 381.46,345.78 381.58,338.41 381.7,346.94 381.82,348.82 381.94,347.27 382.06,351.1 382.18,343.1 382.3,349.93 382.42,352.78 382.54,347.68 382.66,342.7 382.78,350.13 382.9,343.36 383.02,350.84 383.14,348.77 383.26,344.54 383.38,344.17 383.5,347.57 383.62,347.12 383.74,347.2 383.86,350.7 383.98,342.83 384.1,344.23 384.22,346.18 384.34,345.06 384.46,345.82 384.58,355.82 384.7,345.6 384.82,350.72 384.94,348.27 385.06,347.83 385.18,346.84 385.3,346.89 385.42,350.66 385.54,350.19 385.66,348.51 385.78,343.97 385.9,347.81 386.02,343.86 386.14,346.93 386.26,343.41 386.38,343.92 386.5,347.74 386.62,353.53 386.74,347.08 386.86,350.8 386.98,352.61 387.1,346.56 387.22,349.67 387.34,347.77 387.46,345.24 387.58,351.32 387.7,345.5 387.82,347.73 387.94,352.32 388.06,345.19 388.18,345.33 388.3,344.74 388.42,352.3 388.54,343.31 388.66,351.03 388.78,346.3 388.9,349.33 389.02,350.44 389.14,353.43 389.26,352.53 389.38,351.73 389.5,352.25 389.62,350.59 389.74,344.81 389.86,347.9 389.98,348.03 390.1,348.62 390.22,350.49 390.34,346.37 390.46,352.39 390.58,345.06 390.7,347.98 390.82,349.23 390.94,344.88 391.06,349.57 391.18,343.99 391.3,351.52 391.42,352.77 391.54,344.66 391.66,347.37 391.78,348.12 391.9,342.97 392.02,343.63 392.14,343.5 392.26,344.08 392.38,349.5 392.5,350.23 392.62,344.68 392.74,352.53 392.86,351.08 392.98,345.92 393.1,343.35 393.22,350.44 393.34,343.36 393.46,345.91 393.58,343.24 393.7,347.69 393.82,345.59 393.94,348.53 394.06,347.34 394.18,348.8 394.3,352.18 394.42,344.14 394.54,348.52 394.66,345.43 394.78,346.76 394.9,343.57 395.02,350.34 395.14,344.38 395.26,350.1 395.38,349.86 395.5,345.4 395.62,348.69 395.74,344.75 395.86,347.03 395.98,344.04 396.1,343.42 396.22,345.45 396.34,346.61 396.46,346.34 396.58,347.47 396.7,344.77 396.82,351.29 396.94,345.27 397.06,346.25 397.18,343.44 397.3,346.99 397.42,351.65 397.54,351.2 397.66,345.08 397.78,353.99 397.9,342.89 398.02,345.86 398.14,344.11 398.26,344.37 398.38,351.33 398.5,362.72 398.63,357.33 398.77,357.5 398.9,346.86 399.02,351.13 399.14,350.82 399.26,350.18 399.38,349.01 399.5,351.14 399.62,349.08 399.74,351.73 399.86,349 399.98,351.07 400.1,350.89 400.22,348.8 400.34,350.31 400.46,347.13 400.58,348.51 400.7,349.7 400.82,348.24 400.94,348.16 401.06,350.12 401.18,350.46 401.3,351.61 401.42,347.56 401.54,348.84 401.66,347.11 401.78,350.97 401.9,348.27 402.02,351.25 402.14,350.89 402.26,349.72 402.38,347.8 402.5,348.17 402.62,349.89 402.74,348.13 402.86,350.33 402.98,349.81 403.1,349.36 403.22,348.38 403.34,349.25 403.47,348.04 403.59,348.41 403.71,347.13 403.83,348.11 403.95,345.61 404.07,346.1 404.19,346.23 404.31,347.14 404.43,344.85 404.55,344.84 404.67,345.76 404.79,344.41 404.91,343.9 405.03,344.15 405.16,343.57 405.28,344.89 405.4,345.53 405.52,343.99 405.64,343.66 405.76,344.36 405.88,345.51 406,345.42 406.12,344.55 406.24,344.07 406.36,346.59 406.48,346.96 406.6,345.77 406.72,345.33 406.84,346.29 406.97,347.79 407.09,345.25 407.21,345.78 407.33,347.79 407.45,348.79 407.57,348.99 407.69,347.5 407.81,347.43 407.93,347.7 408.05,347.09 408.17,350.02 408.29,348.1 408.41,348.79 408.53,349.36 408.66,348.05 408.78,349.72 408.9,349.17 409.02,350.34 409.14,351.84 409.26,349.63 409.38,351.44 409.5,352.95 409.62,352.04 409.74,351.16 409.86,349.98 409.98,349.62 410.1,351.49 410.22,351.13 410.34,352.06 410.46,351.32 410.58,349.36 410.7,350.23 410.82,351.96 410.94,352.97 411.06,352.54 411.19,350.74 411.31,353.58 411.43,352.19 411.55,351.87 411.67,350.82 411.79,352.09 411.91,350.63 412.03,352.4 412.15,348.51 412.27,348.72 412.39,350.85 412.51,351.74 412.63,349.69 412.75,351.59 412.87,352.53 412.99,351.14 413.11,352.88 413.23,351.69 413.35,351.07 413.47,352.24 413.59,350.68 413.71,352.88 413.83,349.45 413.95,350.23 414.07,350.84 414.19,350.67 414.32,350.33 414.44,350.82 414.56,348.89 414.68,350.21 414.8,352.69 414.92,351.17 415.04,348.68 415.16,349.07 415.28,352.19 415.4,352.28 415.52,348.96 415.64,350.98 415.76,348.47 415.88,352.26 416,349.99 416.12,349.65 416.24,352.67 416.36,350.91 416.48,349.92 416.6,350.09 416.72,351.59 416.84,353.07 416.96,350.11 417.08,352.99 417.2,351.72 417.32,349.28 417.45,350.62 417.57,351.55 417.69,353.02 417.81,350.41 417.93,352.52 418.05,348.52 418.17,351.38 418.29,352.75 418.41,351.29 418.53,351.78 418.65,349.93 418.77,350.99 418.89,351.79 419.01,348.55 419.13,349.17 419.25,351.13 419.37,351.84 419.49,351.57 419.61,352.91 419.73,348.5 419.85,350.09 419.97,350.65 420.09,352.15 420.21,352.07 420.33,349.02 420.45,351.85 420.58,352.59 420.7,348.93 420.82,351.5 420.94,349.86 421.06,351.56 421.18,351.7 421.3,352.1 421.42,350.42 421.54,349.33 421.66,350.25 421.78,350.63 421.9,350.28 422.02,350.01 422.14,352.13 422.26,353.27 422.38,348.75 422.5,350.76 422.62,352.42 422.74,353.43 422.86,350.85 422.98,349.67 423.1,348.59 423.22,348.99 423.34,344.5 423.46,348.82 423.58,349.91 423.71,353.58 423.83,351.74 423.95,348.73 424.07,348.93 424.19,351.93 424.31,351.33 424.43,350.91 424.55,353.31 424.67,348.63 424.79,350.96 424.91,348.88 425.03,352.18 425.15,352.72 425.27,350.2 425.39,349.11 425.51,351.39 425.63,352.51 425.75,350.87 425.87,349.72 425.99,352.33 426.11,349.62 426.23,349.75 426.35,349.57 426.47,349.13 426.59,348.89 426.71,351.64 426.84,353.01 426.96,353.32 427.08,352.35 427.2,349.04 427.32,353.04 427.44,348.68 427.56,350.99 427.68,352.56 427.8,349.9 427.92,352.47 428.04,353.19 428.16,350.02 428.28,348.6 428.4,349.72 428.53,326.03 428.67,323.56 428.8,324.41 428.93,338.27 429.05,333.61 429.18,339.44 429.31,328.78 429.43,331.84 429.56,347.16 429.68,341.62 429.81,333.17 429.94,331.19 430.06,344.21 430.19,345.11 430.32,350.56 430.44,348.87 430.57,339.68 430.69,342.44 430.82,352.57 430.95,339.93 431.07,351.13 431.2,351.65 431.32,345.36 431.44,350.55 431.56,345.1 431.68,340.91 431.8,348.01 431.92,345.17 432.04,352.78 432.16,351.32 432.28,342.08 432.4,352.05 432.52,343.21 432.64,351.67 432.76,350.62 432.88,341.86 433,348.91 433.12,345.26 433.24,343 433.36,349.67 433.48,340.88 433.6,344.52 433.72,340.77 433.84,340.51 433.96,340.74 434.08,347.7 434.2,343.03 434.32,352.91 434.44,341.99 434.56,342.08 434.68,349.18 434.8,335.3 434.92,345.75 435.04,346.43 435.16,344.39 435.28,352.57 435.4,351.7 435.52,341.13 435.64,351.46 435.76,350.72 435.88,352.99 436,350.59 436.12,350.77 436.24,348.93 436.36,343.74 436.48,352.43 436.6,350.39 436.72,347.23 436.84,348.13 436.96,340.8 437.08,351.89 437.2,342.73 437.32,349.38 437.44,341.69 437.56,343.24 437.68,350.79 437.8,347.86 437.92,347.79 438.04,348.01 438.16,344.28 438.28,345.87 438.4,341.96 438.52,343.3 438.64,343.6 438.76,347.8 438.88,347.29 439,348.69 439.12,353.04 439.24,347.69 439.36,351.96 439.48,342.33 439.6,342.94 439.72,349.89 439.84,345.04 439.96,344.24 440.08,340.8 440.2,347.21 440.32,341.37 440.44,347.5 440.56,336.85 440.68,345.5 440.8,343.24 440.92,340.8 441.04,341.9 441.16,352.79 441.28,344.76 441.4,341.73 441.52,340.61 441.64,343.88 441.76,343.18 441.88,349.61 442,350.22 442.12,350.7 442.24,341.67 442.36,342.02 442.48,346.23 442.6,350.48 442.72,342.74 442.84,347.5 442.96,348.46 443.08,349.58 443.2,340.92 443.32,341.14 443.44,344.45 443.56,345.42 443.68,344.33 443.8,353.07 443.92,347.03 444.04,342.06 444.16,353.01 444.28,340.53 444.4,353.33 444.52,340.6 444.64,342.46 444.76,352.05 444.88,349.19 445,339.45 445.12,346.54 445.24,358.27 445.36,343.14 445.48,349.28 445.6,340.09 445.72,342.02 445.84,359.61 445.96,348.77 446.08,339.28 446.21,336.72 446.33,358.52 446.45,334.36 446.57,355.35 446.69,340.54 446.81,360.47 446.93,331.97 447.05,364 447.17,354.12 447.29,353.92 447.41,341.38 447.53,328.9 447.65,334.14 447.77,328.69 447.89,349.04 448.01,368.39 448.13,339.99 448.25,360.19 448.38,355.55 448.5,334.59 448.62,364.35 448.74,373.28 448.86,350.45 448.98,345.64 449.1,367.58 449.22,359.5 449.34,362.28 449.46,318.96 449.58,362.24 449.7,362.45 449.82,355.21 449.94,348.93 450.06,314.16 450.18,357.31 450.3,344.37 450.42,366.46 450.54,333.01 450.67,378.23 450.79,325.02 450.91,373.36 451.03,340.74 451.15,326.66 451.27,343.95 451.39,363.05 451.51,372.85 451.63,335.22 451.75,372.8 451.87,317.82 451.99,330.06 452.11,341.79 452.23,351 452.35,319.32 452.47,364.48 452.59,374.14 452.71,364.08 452.83,349.04 452.96,329.29 453.08,336.67 453.2,357.51 453.32,324.58 453.44,371.07 453.56,371.3 453.68,322.89 453.8,346.42 453.92,322.96 454.04,365.07 454.16,344.28 454.28,374.27 454.4,321.49 454.52,322.25 454.64,344.21 454.76,350.28 454.88,329.96 455,356.93 455.12,346.49 455.25,370.67 455.37,344.38 455.49,335.12 455.61,326.49 455.73,366.97 455.85,360.34 455.97,350.56 456.09,330.44 456.21,368.06 456.33,353.64 456.45,345.55 456.57,351.04 456.69,335.06 456.81,343.72 456.93,327.5 457.05,346.51 457.17,332.81 457.29,356.91 457.42,355.9 457.54,353.24 457.66,333.56 457.78,351.63 457.9,357.33 458.02,333.69 458.14,347.4 458.26,339.91 458.38,345.08 458.5,348.51 458.62,347.33 458.74,342.39 458.86,346.11 458.98,341.63 459.1,343.84 459.22,342.21 459.34,344.88 459.46,348.29 459.59,341.74 459.71,342.74 459.83,342.37 459.95,341.95 460.07,347.73 460.19,348.11 460.31,341.36 460.43,346.87 460.55,338.02 460.67,347.07 460.79,346.94 460.91,342.78 461.03,344.57 461.15,346.77 461.27,344.63 461.39,342.89 461.51,348.47 461.64,345.86 461.76,343.22 461.88,345.36 462,344.49 462.12,346.53 462.24,346.21 462.36,343.48 462.48,345.66 462.6,343.44 462.72,343.5 462.84,342.76 462.96,348.36 463.08,340.74 463.2,341.87 463.32,348.48 463.44,342.52 463.56,345.55 463.69,347.83 463.81,342.02 463.93,343.86 464.05,341.04 464.17,342.64 464.29,342.99 464.41,344.69 464.53,347.76 464.65,341.15 464.77,345.92 464.89,347.81 465.01,346.3 465.13,349.98 465.25,340.47 465.37,343.03 465.49,340.87 465.61,346.21 465.74,344.98 465.86,340.4 465.98,344.46 466.1,343.41 466.22,345.76 466.34,341.56 466.46,340.59 466.58,343.94 466.7,347.84 466.82,343.74 466.94,347.99 467.06,341.41 467.18,346.09 467.3,348.41 467.42,345.17 467.54,346.03 467.66,345.62 467.79,344.12 467.91,346.34 468.03,338.69 468.15,340.81 468.27,345.82 468.39,341.54 468.51,346.55 468.63,342.85 468.75,344.93 468.87,342.64 468.99,348.25 469.11,347.31 469.23,345.5 469.35,347.37 469.47,348.56 469.59,343.34 469.71,346.99 469.84,349.6 469.96,340.85 470.08,342.22 470.2,347.19 470.32,342.59 470.44,341.74 470.56,343.32 470.68,343.7 471.2,339.69 471.21,339.64 471.22,339.75 471.22,338.82 471.23,338.91 471.24,339.59 471.25,339.2 471.26,338.77 471.26,338.56 471.27,338.23 471.28,338.21 471.29,338.11 471.3,337.36 471.3,337.84 471.31,337.46 471.32,337.26 471.33,336.67 471.34,336.53 471.34,336.85 471.35,335.76 471.36,336.56 471.37,335.95 471.38,335.61 471.38,335.22 471.39,335.3 471.4,335.22 471.41,335.23 471.42,334.81 471.42,334.83 471.43,334.69 471.44,334.26 471.45,334.2 471.46,333.34 471.46,333.82 471.47,332.71 471.48,332.89 471.49,332.55 471.5,333.05 471.5,332.54 471.51,332.46 471.52,332.46 471.53,331.81 471.54,331.37 471.54,331.52 471.55,330.84 471.56,331.13 471.57,330.25 471.58,330.38 471.58,330.88 471.59,330.15 471.6,330.17 471.61,329.87 471.62,330.13 471.62,329.32 471.63,328.89 471.64,329.57 471.65,328.86 471.66,328.5 471.66,327.82 471.67,328.36 471.68,328.15 471.69,328.02 471.7,327.85 471.7,326.83 471.71,327.41 471.72,326.7 471.73,326.91 471.74,326.44 471.74,326.24 471.75,325.96 471.76,326.33 471.77,325.88 471.78,325.37 471.78,325.76 471.79,324.82 471.8,325.24 471.81,324.59 471.82,325 471.82,324.83 471.83,324 471.84,324.46 471.85,323.47 471.86,323.64 471.86,323.77 471.87,322.82 471.88,323.37 471.89,323.17 471.9,322.16 471.9,322.75 471.91,322.02 471.92,321.9 471.93,322.3 471.94,321.01 471.94,321.86 471.95,321.12 471.96,321.51 471.97,321.09 471.98,320.8 471.98,320.15 471.99,319.87 472,320.11 472.01,320.17 472.03,320.08 472.04,319.91 472.05,319.68 472.07,318.42 472.08,318.41 472.09,318.8 472.11,318.3 472.12,318.33 472.13,317.7 472.15,317.77 472.16,317.42 472.17,317.44 472.19,316.81 472.2,317.51 472.21,317.85 472.23,316.33 472.24,316.43 472.25,316.17 472.27,315.4 472.28,315.35 472.29,315.08 472.31,315.83 472.32,315.2 472.33,314.78 472.35,314.98 472.36,314.43 472.37,314.19 472.39,314.27 472.4,313.86 472.41,313.41 472.43,313.73 472.44,313.26 472.45,313.35 472.47,312.85 472.48,313.04 472.49,312.83 472.51,312.09 472.52,312.43 472.53,311.91 472.55,312.26 472.56,311.45 472.57,311.75 472.59,311.16 472.6,311.38 472.61,311.26 472.63,310.8 472.64,310.48 472.65,309.38 472.67,309.87 472.68,309.88 472.69,309.45 472.71,309.21 472.72,308.63 472.73,308.98 472.75,308.54 472.76,308.11 472.77,308.48 472.79,307.89 472.8,307.52 472.81,307.86 472.83,307.22 472.84,308 472.85,307.14 472.87,307.53 472.88,306.92 472.89,306.67 472.91,306.25 472.92,306.72 472.93,306.56 472.95,305.88 472.96,306.11 472.97,304.99 472.99,305.67 473,305 473.02,305.04 473.04,304.7 473.06,303.96 473.08,303.77 473.1,304.51 473.12,303.84 473.14,303.79 473.17,303.5 473.19,303.76 473.21,302.75 473.23,303.15 473.25,302.66 473.27,302.36 473.29,302.08 473.31,302.22 473.33,301.87 473.35,301.75 473.37,301.96 473.39,301.7 473.41,301.42 473.43,301.26 473.46,300.74 473.48,299.84 473.5,299.86 473.52,300.29 473.54,299.9 473.56,299 473.58,298.96 473.6,298.77 473.62,299.31 473.64,298.46 473.66,297.99 473.68,298.62 473.7,297.58 473.72,297.8 473.74,297.91 473.77,297.52 473.79,297.12 473.81,296.62 473.83,296.86 473.85,296.43 473.87,296.77 473.89,296.17 473.91,296.32 473.93,296.46 473.95,295.25 473.97,295.33 473.99,295.35 474.01,295.13 474.03,294.67 474.06,295 474.08,294.79 474.1,294.15 474.12,294.05 474.14,293.98 474.16,293.88 474.18,293.41 474.2,292.92 474.23,293.44 474.25,292.42 474.28,292.76 474.31,292.36 474.34,292.02 474.36,291.65 474.39,291.61 474.42,291.7 474.45,292.02 474.47,291.65 474.5,291.08 474.53,290.46 474.56,290.89 474.58,290.96 474.61,290.51 474.64,290.27 474.67,290.45 474.69,289.79 474.72,289.82 474.75,288.87 474.78,289.5 474.8,288.61 474.83,288.59 474.86,288.83 474.89,288.74 474.91,288.05 474.94,288.1 474.97,287.85 475,287.07 475.02,286.77 475.05,286.72 475.08,286.99 475.11,286.97 475.13,286.81 475.16,286.77 475.19,285.77 475.22,285.41 475.24,285.13 475.27,284.85 475.3,285.23 475.33,284.44 475.35,284.61 475.38,284.85 475.41,284.82 475.44,283.65 475.46,284.6 475.49,283.45 475.52,283.25 475.55,283.07 475.57,283.55 475.6,283.41 475.65,282.68 475.7,282.09 475.75,282.07 475.81,281.65 475.86,282.26 475.91,281.78 475.96,281.35 476.01,281.38 476.06,281.13 476.11,281.42 476.16,280.7 476.22,280.71 476.27,279.9 476.32,280.28 476.37,279.65 476.42,279.82 476.47,280.1 476.52,279.28 476.58,279.56 476.63,278.56 476.68,279.4 476.73,278.41 476.78,278.15 476.83,277.87 476.88,278.25 476.94,277.69 476.99,278.28 477.04,278.11 477.09,277.43 477.14,276.97 477.19,276.75 477.24,276.7 477.29,276.72 477.35,276.6 477.4,276.19 477.45,275.62 477.5,275.6 477.58,275.92 477.66,275.4 477.74,275.43 477.82,275.35 477.9,274.73 477.98,274.29 478.06,274.49 478.14,274.34 478.22,273.99 478.3,274.36 478.39,274.26 478.47,273.17 478.55,273.28 478.63,273.41 478.71,273.37 478.79,273.1 478.87,272.84 478.95,271.87 479.03,272.53 479.11,271.55 479.19,272.05 479.27,271.79 479.35,270.95 479.43,270.75 479.51,271.55 479.59,270.3 479.67,271.28 479.75,270.62 479.83,269.85 479.91,269.85 480,269.56 480.08,269.89 480.16,269.28 480.24,269.08 480.32,269.13 480.4,269.16 480.48,268.89 480.56,268.28 480.64,268.87 480.72,267.72 480.8,267.74 480.95,267.46 481.1,267.48 481.25,267.81 481.4,267.84 481.55,267.19 481.7,267.17 481.85,267.49 482,267.32 482.15,266.85 482.3,266.93 482.45,266.33 482.6,265.85 482.75,266.5 482.9,266.26 483.05,265.59 483.2,266.38 483.35,265.56 483.5,265.16 483.64,265.87 483.78,265.66 483.92,265.2 484.06,264.96 484.2,265.31 484.34,265.17 484.48,264.81 484.62,264.94 484.76,263.95 484.9,263.67 485.04,264.17 485.18,263.78 485.32,263.06 485.46,263.2 485.6,263.14 485.74,263.48 485.88,262.56 486.02,262.78 486.16,262.33 486.3,262.84 486.33,262.98 486.37,262.05 486.4,261.77 486.44,261.83 486.47,261.43 486.51,261.14 486.54,261.66 486.57,260.76 486.61,261.17 486.64,260.16 486.68,260.44 486.71,259.66 486.74,260.32 486.78,260.38 486.81,260.18 486.85,259.02 486.88,259.12 486.92,258.46 486.95,258.31 486.98,258.3 487.02,258.3 487.05,257.65 487.09,258.15 487.12,258.3 487.16,257.3 487.19,257.71 487.22,257.21 487.26,257.06 487.29,256.4 487.33,256.77 487.36,256.89 487.39,256.4 487.43,256.38 487.46,255.7 487.5,255.2 487.53,255.62 487.57,255.26 487.6,254.82 487.64,255.56 487.67,255.95 487.71,255.38 487.74,255.69 487.78,256.39 487.81,256.33 487.85,256.49 487.88,256.59 487.92,257.05 487.95,256.52 487.99,257.05 488.02,257.87 488.06,257.77 488.09,258.3 488.12,257.86 488.16,257.98 488.19,258.94 488.23,258.38 488.26,258.54 488.3,258.7 488.34,258.3 488.37,258.25 488.41,258.44 488.44,258.62 488.48,261.99 488.51,258.05 488.55,258.2 488.58,257.17 488.62,256.83 488.65,256.63 488.69,257.08 488.72,256.59 488.76,255.85 488.79,255.85 488.83,255.81 488.86,255.4 488.9,255.67 488.93,255.11 488.97,255.17 489,254.49 489.04,254.39 489.07,254.52 489.11,254.59 489.14,253.67 489.18,253.64 489.21,253.35 489.25,254.15 489.28,253.89 489.32,253.57 489.35,253.51 489.39,252.77 489.42,252.45 489.46,252.44 489.49,252.6 489.53,252.39 489.56,251.66 489.6,252.25 489.69,251.92 489.77,251.45 489.86,251.28 489.94,251.05 490.03,250.32 490.11,250.67 490.2,250.64 490.29,250.17 490.37,249.82 490.46,249.51 490.54,249.73 490.63,249.58 490.71,249.61 490.8,248.91 490.89,248.72 490.97,248.49 491.06,248.67 491.14,248.95 491.23,247.87 491.31,247.71 491.4,247.6 491.49,247.23 491.57,247.45 491.66,246.7 491.74,247.12 491.83,246.62 491.91,246.54 492,245.99 492.09,245.79 492.19,245.68 492.28,245.82 492.38,245.19 492.47,245.44 492.56,245.9 492.66,244.76 492.75,243.09 492.84,244.44 492.94,244.47 493.03,243.94 493.12,244.83 493.22,244.43 493.31,244.37 493.41,243.71 493.5,243.14 493.59,243.27 493.69,243.71 493.78,242.68 493.88,242.99 493.97,242.13 494.06,241.92 494.16,241.95 494.25,242.02 494.34,241.89 494.44,241.98 494.53,241.12 494.62,241.65 494.72,241.17 494.81,241.65 494.91,240.29 495,240.61 495.09,240.91 495.18,240.25 495.27,240.62 495.36,239.86 495.45,239.98 495.54,240.15 495.63,239.54 495.72,238.95 495.81,239.52 495.9,238.65 495.99,238.93 496.08,238.2 496.17,238.86 496.26,238.24 496.35,237.85 496.44,238.33 496.53,237.95 496.62,236.96 496.71,237.08 496.8,237.57 496.89,237.33 496.98,236.31 497.07,236.47 497.16,236.04 497.25,236.23 497.34,236.48 497.43,235.34 497.52,235.56 497.61,235.22 497.7,235.57 497.8,234.69 497.89,234.91 497.98,234.5 498.07,234.28 498.16,234.58 498.25,234.57 498.34,234.14 498.43,234.06 498.52,233.2 498.61,233.98 498.7,233.47 498.79,233.67 498.88,232.68 498.97,233.42 499.06,233.25 499.15,232.09 499.24,232.11 499.33,232.22 499.42,231.98 499.51,231.74 499.6,232.02 499.69,231.4 499.78,231.62 499.87,230.56 499.96,230.94 500.05,231.16 500.14,230.56 500.23,230.74 500.32,229.91 500.41,230.19 500.5,229.62 500.59,229.7 500.68,229.68 500.77,229.12 500.86,229.14 500.95,229.17 501.03,228.59 501.12,228.42 501.21,227.88 501.3,228.15 501.39,228 501.48,227.33 501.57,228.14 501.66,227.47 501.75,226.75 501.84,226.86 501.92,226.45 502.01,226.7 502.1,226.26 502.19,225.99 502.28,226.2 502.37,225.67 502.46,226.17 502.55,226.12 502.64,225.7 502.73,224.95 502.82,225.67 502.9,225.23 502.99,224.94 503.08,224.57 503.17,224.82 503.26,224.2 503.35,223.93 503.44,223.54 503.53,223.75 503.62,222.93 503.71,223.46 503.79,223.42 503.88,223.47 503.97,223.02 504.06,222.02 504.15,222.68 504.24,221.85 504.33,222.6 504.42,221.83 504.51,221.24 504.6,221.68 504.68,220.89 504.77,221.27 504.86,218.72 504.95,220.78 505.04,220.64 505.13,220.33 505.22,220.61 505.31,220.25 505.4,219.26 505.49,219.95 505.58,219.33 505.66,218.97 505.75,219.17 505.84,219.22 505.93,218.7 506.02,218 506.11,218 506.2,218.1 506.29,217.58 506.38,217.56 506.47,217.57 506.55,217.17 506.64,217.34 506.73,217.73 506.82,217.44 506.91,216.88 507,216.96 507.1,216.37 507.2,215.99 507.3,216.6 507.4,215.92 507.5,215.75 507.6,215.58 507.7,214.86 507.8,215.56 507.9,215.35 508,214.28 508.1,214.14 508.2,214.48 508.3,214.14 508.4,214.53 508.5,214.31 508.6,213.57 508.7,213.51 508.8,212.99 508.9,212.96 509,212.97 509.1,213.19 509.2,212.35 509.3,212.34 509.4,212.41 509.5,212.06 509.6,211.55 509.7,211.67 509.8,211.62 509.9,212.05 510,211.33 510.1,211.52 510.2,210.65 510.3,210.54 510.4,210.55 510.5,210.74 510.6,210.5 510.7,209.58 510.8,209.81 510.9,209.96 511,209.54 511.1,209.33 511.2,209.1 511.3,208.91 511.4,208.77 511.5,208.59 511.6,208.12 511.7,208.69 511.8,208.1 511.9,208.15 512,207.82 512.1,207.75 512.2,207.47 512.3,207.4 512.4,206.58 512.5,207.2 512.6,206.32 512.72,206.51 512.84,206.01 512.96,205.97 513.08,206.21 513.2,205.89 513.32,205.41 513.44,205.81 513.56,205.65 513.68,204.77 513.8,205.28 513.92,205.07 514.04,204.39 514.16,204.33 514.29,204.94 514.41,204.16 514.53,203.7 514.65,204.36 514.77,203.52 514.89,203.11 515.01,203.92 515.13,202.95 515.25,203.32 515.37,202.86 515.49,202.7 515.61,202.37 515.73,202.9 515.85,202.1 515.97,202.11 516.09,202.47 516.21,201.85 516.33,201.57 516.45,201.49 516.57,201.68 516.69,201.59 516.81,201.39 516.93,200.48 517.05,200.55 517.17,200.28 517.29,200.78 517.41,199.76 517.54,200.19 517.66,199.89 517.78,200.39 517.9,199.03 518.02,199.31 518.14,199.04 518.26,198.78 518.38,198.95 518.5,199.09 518.62,198.45 518.74,198.53 518.86,197.81 518.98,197.84 519.1,198.19 519.24,198.14 519.39,197.49 519.53,196.98 519.67,197.23 519.82,197.43 519.96,196.75 520.1,197.01 520.25,198.81 520.39,197.18 520.53,196.08 520.68,195.95 520.82,196.7 520.97,196.36 521.11,195.67 521.25,195.33 521.4,196.26 521.54,195.84 521.68,195.6 521.83,195.55 521.97,194.8 522.11,195.6 522.26,195 522.4,195.17 522.54,194.64 522.69,194.03 522.83,194.69 522.97,193.92 523.12,193.64 523.26,193.83 523.4,193.79 523.55,193.4 523.69,193.8 523.83,193.09 523.98,193.71 524.12,193.17 524.27,193.46 524.41,192.43 524.55,192.45 524.7,192.33 524.84,192.53 524.98,192.4 525.13,192.21 525.27,191.95 525.41,192.18 525.56,191.98 525.7,191.92 525.85,191.35 526,191.49 526.15,190.82 526.3,191.04 526.45,190.24 526.6,190.34 526.75,190.52 526.9,190.19 527.05,190.68 527.2,189.57 527.35,190.03 527.5,190.25 527.65,189.53 527.8,189.74 527.95,189.94 528.1,189.19 528.25,189.31 528.4,189.15 528.55,188.39 528.7,188.43 528.85,189.13 529,188.27 529.15,188.61 529.3,188.62 529.45,188.78 529.6,187.79 529.75,188.35 529.9,187.88 530.05,187.56 530.2,186.99 530.35,187.79 530.5,187.49 530.65,187.69 530.8,186.75 530.95,186.47 531.1,186.23 531.25,186.46 531.4,186.77 531.55,186.74 531.7,185.91 531.85,185.97 532,186.38 532.15,186.31 532.3,185.49 532.45,185.82 532.6,185.24 532.75,185.4 532.9,184.19 533.05,184.63 533.2,184.83 533.35,185.19 533.5,185.04 533.65,184.06 533.8,184.73 533.95,184.51 534.1,183.71 534.25,183.59 534.4,183.89 534.55,183.5 534.7,184.02 534.86,183.26 535.01,183.19 535.16,183.16 535.31,183.58 535.46,183.18 535.61,182.37 535.77,182.99 535.92,182.13 536.07,182.37 536.22,182.31 536.37,182.25 536.52,182.52 536.68,181.89 536.83,181.86 536.98,181.97 537.13,181.76 537.28,181.38 537.43,181.29 537.59,181.04 537.74,181.4 537.89,180.71 538.04,180.48 538.19,180.07 538.34,180.67 538.5,179.72 538.65,179.5 538.8,179.94 538.95,179.72 539.1,179.83 539.26,179.93 539.41,179.9 539.56,178.78 539.71,178.64 539.86,179.35 540.01,178.94 540.17,178.86 540.32,178.93 540.47,178.58 540.62,178.14 540.77,178.81 540.92,177.49 541.08,177.63 541.23,177.47 541.38,178.01 541.53,178.13 541.68,177.91 541.83,176.94 541.99,177.06 542.14,176.48 542.29,176.97 542.44,177.16 542.59,176.56 542.74,176.32 542.9,176.37 543.05,175.92 543.2,175.83 543.39,175.49 543.57,176.09 543.76,175.69 543.95,175.39 544.14,175.14 544.32,175.97 544.51,175.98 544.7,175.54 544.89,175.63 545.07,175.22 545.26,174.74 545.45,175.11 545.63,175.64 545.82,175.29 546.01,174.59 546.2,175.39 546.38,174.31 546.57,175.15 546.76,174.49 546.94,174.06 547.13,174.35 547.32,173.87 547.51,173.73 547.69,173.89 547.88,174.51 548.07,174.02 548.26,173.72 548.44,173.43 548.63,173.93 548.82,174.27 549,173.14 549.19,173.01 549.38,173.75 549.57,173.58 549.75,173.73 549.94,173.13 550.13,172.77 550.31,172.75 550.5,172.81 550.69,173.01 550.88,172.46 551.06,173.02 551.25,172.92 551.44,172.5 551.63,172.69 551.81,172.51 552,172.62 552.2,172.38 552.4,172.27 552.6,172.76 552.8,172.6 553,172.42 553.2,171.21 553.4,172.03 553.6,171.94 553.8,172.29 554,171.71 554.2,171.76 554.4,171.36 554.6,171.96 554.8,171.3 555,171.59 555.2,171.93 555.4,172.24 555.6,171.68 555.8,171.53 556,171.61 556.2,171.11 556.4,170.84 556.6,171.95 556.8,171.08 557,171.75 557.2,170.69 557.4,171.06 557.6,171.58 557.8,170.52 558,170.91 558.2,170.95 558.4,171.37 558.6,171.1 558.8,170.96 559,171.33 559.2,171.07 559.4,170.17 559.6,170.16 559.66,170.24 559.72,169.71 559.77,170.37 559.83,170.37 559.89,169.13 559.95,169.31 560.01,169.3 560.07,168.99 560.12,168.88 560.18,168.81 560.24,168.24 560.3,168.35 560.36,168.59 560.42,167.38 560.48,167.54 560.53,167.02 560.59,166.86 560.65,167.36 560.71,166.84 560.77,167.18 560.83,167.13 560.88,166.46 560.94,166.68 561,165.5 561.08,165.63 561.16,166.17 561.24,165.2 561.32,164.99 561.4,164.53 561.48,164.35 561.56,164.36 561.64,164.65 561.72,164.86 561.8,164.44 561.97,164.23 562.15,163.5 562.32,163.54 562.49,163.32 562.67,163.13 562.84,163.1 563.02,163.06 563.19,163.77 563.36,163.1 563.54,163.03 563.71,163.31 563.88,162.52 564.06,162.83 564.23,163 564.41,162.3 564.58,162.48 564.75,162.5 564.93,161.56 565.1,161.52 565.3,161.33 565.51,160.94 565.71,162.29 565.92,161.72 566.12,161.33 566.33,161.56 566.53,161.36 566.73,161.45 566.94,161.13 567.14,162.03 567.35,161.29 567.55,161.08 567.75,160.94 567.96,161.92 568.16,161.21 568.37,160.93 568.57,161.6 568.77,161.41 568.98,161.47 569.18,161.26 569.39,161.44 569.59,160.73 569.8,161.08 570,160.93 570.2,160.89 570.4,161 570.6,160.65 570.8,160.81 571,161.03 571.2,161.67 571.4,161.43 571.6,160.89 571.8,160.79 572,160.72 572.2,161.35 572.4,160.97 572.6,161.16 572.8,160.44 573,160.96 573.2,161.54 573.4,160.79 573.6,160.88 573.8,160.8 574,161.03 574.2,161.23 574.4,160.66 574.6,160.83 574.8,160.62 575,160.78 575.2,161.38 575.4,160.43 575.6,160.47 575.8,160.98 576,160.79 576.2,160.97 576.4,160.63 576.6,160.45 576.8,160.86 577,160.69 577.2,160.27 577.4,161.01 577.6,160.23 577.8,160.6 578,160.37 578.2,160.18 578.4,160.62 578.6,160.58 578.8,161.02 579,159.98 579.2,160.21 579.4,160.83 579.6,160.69 579.8,160.9 580,160.51 580.2,160.71 580.4,160.02 580.6,160.28 580.8,160.02 581,160.59 581.2,160.19 581.4,159.76 581.6,159.65 581.8,160.23 582,159.68 582.2,159.98 582.4,159.52 582.6,159.89 582.8,160.24 583,159.86 583.2,159.86 583.4,159.58 583.6,159.39 583.8,160.24 584,159.84 584.2,160.04 584.4,159.03 584.6,159.88 584.8,160 584.99,159.92 585.19,160.28 585.38,159.62 585.57,160.6 585.76,159.79 585.96,160.81 586.15,160.68 586.34,160.16 586.54,160.29 586.73,160.64 586.92,160.27 587.11,161.05 587.31,160.36 587.5,160.71 587.56,161.49 587.63,161.69 587.69,161.45 587.75,162.21 587.81,162.37 587.88,162.49 587.94,162.29 588,162.35 588.07,162.49 588.13,162.69 588.19,162.67 588.26,163.37 588.32,164.08 588.38,163.45 588.44,164.46 588.51,164.33 588.57,163.74 588.63,164.33 588.7,164.61 588.76,164.69 588.82,164.82 588.89,165.27 588.95,165.34 589.01,165.56 589.07,166.32 589.14,166.47 589.2,166.74 589.38,166.42 589.57,165.97 589.75,166.99 589.94,166.65 590.12,166.26 590.31,167.41 590.49,167.02 590.68,167.16 590.86,166.75 591.05,167.66 591.23,167.11 591.42,167.69 591.6,167.71 591.78,169.4 591.97,167.02 592.15,167.44 592.34,168.02 592.52,167.93 592.71,167.73 592.89,167.92 593.08,168.28 593.26,167.78 593.45,168.55 593.63,168.33 593.82,168.17 594,168.55 594.19,168.09 594.38,168.49 594.57,169.03 594.76,168.43 594.95,169.42 595.14,169.01 595.33,169.32 595.52,169.45 595.72,169.51 595.91,168.35 596.1,169.79 596.29,169.48 596.48,169.49 596.67,169.21 596.86,169.17 597.05,169 597.24,170.04 597.43,169.87 597.62,170.17 597.81,170.23 598,169.39 598.19,170.25 598.38,170.31 598.58,169.6 598.77,170.31 598.96,169.78 599.15,170.65 599.34,170.98 599.53,170.02 599.72,170.29 599.91,171.04 600.1,170.36 600.31,170.61 600.52,170.94 600.73,170.73 600.94,170.5 601.16,171.41 601.37,171.31 601.58,170.88 601.79,171.34 602,171" fill="none" stroke="#5A6EFF" stroke-width="1.9" stroke-linejoin="round" stroke-linejoin="miter"/></g></g>
<g clip-path="url(#ca)"><polyline points="80.8,296.05 124.22,288.45 167.65,278.48 211.07,284.65 254.5,294.62 297.93,313.14 341.35,347.79 384.78,400.01 428.2,490.2 471.63,490.2 515.05,490.2 558.48,490.2 601.9,490.2" fill="none" stroke="#EC008C" stroke-width="1.7" stroke-linejoin="round"/><polygon points="80.8,291.4 76.77,293.72 76.77,298.37 80.8,300.7 84.83,298.37 84.83,293.72" fill="#fff" stroke="#EC008C" stroke-width="1.7"/><polygon points="124.22,283.8 120.2,286.13 120.2,290.78 124.22,293.1 128.25,290.78 128.25,286.13" fill="#fff" stroke="#EC008C" stroke-width="1.7"/><polygon points="167.65,273.83 163.62,276.16 163.62,280.81 167.65,283.13 171.68,280.81 171.68,276.16" fill="#fff" stroke="#EC008C" stroke-width="1.7"/><polygon points="211.07,280 207.05,282.33 207.05,286.98 211.07,289.3 215.1,286.98 215.1,282.33" fill="#fff" stroke="#EC008C" stroke-width="1.7"/><polygon points="254.5,289.97 250.47,292.3 250.47,296.95 254.5,299.27 258.53,296.95 258.53,292.3" fill="#fff" stroke="#EC008C" stroke-width="1.7"/><polygon points="297.93,308.49 293.9,310.81 293.9,315.46 297.93,317.79 301.95,315.46 301.95,310.81" fill="#fff" stroke="#EC008C" stroke-width="1.7"/><polygon points="341.35,343.14 337.32,345.46 337.32,350.11 341.35,352.44 345.38,350.11 345.38,345.46" fill="#fff" stroke="#EC008C" stroke-width="1.7"/><polygon points="384.78,395.36 380.75,397.68 380.75,402.33 384.78,404.66 388.8,402.33 388.8,397.68" fill="#fff" stroke="#EC008C" stroke-width="1.7"/><polygon points="428.2,485.55 424.17,487.88 424.17,492.52 428.2,494.85 432.23,492.52 432.23,487.88" fill="#fff" stroke="#EC008C" stroke-width="1.7"/><polygon points="471.63,485.55 467.6,487.88 467.6,492.52 471.63,494.85 475.65,492.52 475.65,487.88" fill="#fff" stroke="#EC008C" stroke-width="1.7"/><polygon points="515.05,485.55 511.02,487.88 511.02,492.52 515.05,494.85 519.08,492.52 519.08,487.88" fill="#fff" stroke="#EC008C" stroke-width="1.7"/><polygon points="558.48,485.55 554.45,487.88 554.45,492.52 558.48,494.85 562.5,492.52 562.5,487.88" fill="#fff" stroke="#EC008C" stroke-width="1.7"/><polygon points="601.9,485.55 597.87,487.88 597.87,492.52 601.9,494.85 605.93,492.52 605.93,487.88" fill="#fff" stroke="#EC008C" stroke-width="1.7"/></g>
<line x1="72.8" y1="15.5" x2="608.9" y2="15.5" stroke="#000" stroke-width="1.4"/>
<line x1="72.8" y1="490.2" x2="608.9" y2="490.2" stroke="#000" stroke-width="1.4"/>
<line x1="80.8" y1="14.8" x2="80.8" y2="497.5" stroke="#000" stroke-width="1.8"/>
<line x1="601.9" y1="14.8" x2="601.9" y2="497.5" stroke="#000" stroke-width="1.8"/>
<path d="M72.8 490.2H80.8M76.8 458.55H80.8M76.8 426.91H80.8M76.8 395.26H80.8M76.8 363.61H80.8M72.8 331.97H80.8M76.8 300.32H80.8M76.8 268.67H80.8M76.8 237.03H80.8M76.8 205.38H80.8M72.8 173.73H80.8M76.8 142.09H80.8M76.8 110.44H80.8M76.8 78.79H80.8M76.8 47.15H80.8M72.8 15.5H80.8M601.9 490.2H608.9M601.9 466.46H605.9M601.9 442.73H605.9M601.9 419H605.9M601.9 395.26H608.9M601.9 371.52H605.9M601.9 347.79H605.9M601.9 324.05H605.9M601.9 300.32H608.9M601.9 276.58H605.9M601.9 252.85H605.9M601.9 229.12H605.9M601.9 205.38H608.9M601.9 181.64H605.9M601.9 157.91H605.9M601.9 134.18H605.9M601.9 110.44H608.9M601.9 86.7H605.9M601.9 62.97H605.9M601.9 39.24H605.9M601.9 15.5H608.9M80.8 490.2V497.5M91.66 490.2V493.8M102.51 490.2V493.8M113.37 490.2V493.8M124.22 490.2V493.8M135.08 490.2V493.8M145.94 490.2V497.5M156.79 490.2V493.8M167.65 490.2V493.8M178.51 490.2V493.8M189.36 490.2V493.8M200.22 490.2V493.8M211.07 490.2V497.5M221.93 490.2V493.8M232.79 490.2V493.8M243.64 490.2V493.8M254.5 490.2V493.8M265.36 490.2V493.8M276.21 490.2V497.5M287.07 490.2V493.8M297.93 490.2V493.8M308.78 490.2V493.8M319.64 490.2V493.8M330.49 490.2V493.8M341.35 490.2V497.5M352.21 490.2V493.8M363.06 490.2V493.8M373.92 490.2V493.8M384.78 490.2V493.8M395.63 490.2V493.8M406.49 490.2V497.5M417.34 490.2V493.8M428.2 490.2V493.8M439.06 490.2V493.8M449.91 490.2V493.8M460.77 490.2V493.8M471.63 490.2V497.5M482.48 490.2V493.8M493.34 490.2V493.8M504.19 490.2V493.8M515.05 490.2V493.8M525.91 490.2V493.8M536.76 490.2V497.5M547.62 490.2V493.8M558.48 490.2V493.8M569.33 490.2V493.8M580.19 490.2V493.8M591.04 490.2V493.8M601.9 490.2V497.5" stroke="#000" stroke-width="1.7" fill="none"/>
<g font-family='"Liberation Sans", sans-serif' font-weight="bold" font-size="13.4" fill="#000">
<text transform="translate(65.7 495.4) scale(1.07 1)" text-anchor="end">0</text>
<text transform="translate(65.7 337.17) scale(1.07 1)" text-anchor="end">5</text>
<text transform="translate(62.9 178.93) scale(1.07 1)" text-anchor="end">10</text>
<text transform="translate(62.9 20.7) scale(1.07 1)" text-anchor="end">15</text>
<text transform="translate(614.5 495.5) scale(1.07 1)">0</text>
<text transform="translate(614.5 400.56) scale(1.07 1)">20</text>
<text transform="translate(614.5 305.62) scale(1.07 1)">40</text>
<text transform="translate(614.5 210.68) scale(1.07 1)">60</text>
<text transform="translate(614.5 115.74) scale(1.07 1)">80</text>
<text transform="translate(614.5 20.8) scale(1.07 1)">100</text>
<text transform="translate(79.4 517.2) scale(1.07 1)" text-anchor="middle">0</text>
<text transform="translate(144.54 517.2) scale(1.07 1)" text-anchor="middle">6</text>
<text transform="translate(208.67 517.2) scale(1.07 1)" text-anchor="middle">12</text>
<text transform="translate(273.81 517.2) scale(1.07 1)" text-anchor="middle">18</text>
<text transform="translate(338.95 517.2) scale(1.07 1)" text-anchor="middle">24</text>
<text transform="translate(404.09 517.2) scale(1.07 1)" text-anchor="middle">30</text>
<text transform="translate(469.23 517.2) scale(1.07 1)" text-anchor="middle">36</text>
<text transform="translate(534.36 517.2) scale(1.07 1)" text-anchor="middle">42</text>
<text transform="translate(599.5 517.2) scale(1.07 1)" text-anchor="middle">48</text>
</g>
<text x="341.35" y="547.8" text-anchor="middle" font-family='"Liberation Sans", sans-serif' font-weight="bold" font-size="17.2">Time [h]</text>
<g clip-path="url(#cb)"><polyline points="77.1,1058.27 120.82,1054.78 164.53,1048.12 208.25,1031.3 251.97,997.36 295.68,927.88 339.4,931.68 383.12,925.65 426.83,931.68 470.55,931.37 514.27,930.41 557.98,929.46 601.7,928.51" fill="none" stroke="#00B050" stroke-width="1.7" stroke-linejoin="round"/><rect x="72.7" y="1053.87" width="8.8" height="8.8" fill="#00B050"/><rect x="116.42" y="1050.38" width="8.8" height="8.8" fill="#00B050"/><rect x="160.13" y="1043.72" width="8.8" height="8.8" fill="#00B050"/><rect x="203.85" y="1026.9" width="8.8" height="8.8" fill="#00B050"/><rect x="247.57" y="992.96" width="8.8" height="8.8" fill="#00B050"/><rect x="291.28" y="923.48" width="8.8" height="8.8" fill="#00B050"/><rect x="335" y="927.28" width="8.8" height="8.8" fill="#00B050"/><rect x="378.72" y="921.25" width="8.8" height="8.8" fill="#00B050"/><rect x="422.43" y="927.28" width="8.8" height="8.8" fill="#00B050"/><rect x="466.15" y="926.97" width="8.8" height="8.8" fill="#00B050"/><rect x="509.87" y="926.01" width="8.8" height="8.8" fill="#00B050"/><rect x="553.58" y="925.06" width="8.8" height="8.8" fill="#00B050"/><rect x="597.3" y="924.11" width="8.8" height="8.8" fill="#00B050"/></g>
<g clip-path="url(#cb)"><polyline points="77.1,1061.44 120.82,1061.76 164.53,1058.91 208.25,1054.78 251.97,1041.14 295.68,1023.06 339.4,1023.69 383.12,1025.91 426.83,1026.86 470.55,1025.28 514.27,1026.86 557.98,1026.86 601.7,1026.86" fill="none" stroke="#C00000" stroke-width="1.7" stroke-linejoin="round"/><path d="M77.1 1055.24L83.3 1061.44L77.1 1067.64L70.9 1061.44Z" fill="#C00000"/><path d="M120.82 1055.56L127.02 1061.76L120.82 1067.96L114.62 1061.76Z" fill="#C00000"/><path d="M164.53 1052.71L170.73 1058.91L164.53 1065.11L158.33 1058.91Z" fill="#C00000"/><path d="M208.25 1048.58L214.45 1054.78L208.25 1060.98L202.05 1054.78Z" fill="#C00000"/><path d="M251.97 1034.94L258.17 1041.14L251.97 1047.34L245.77 1041.14Z" fill="#C00000"/><path d="M295.68 1016.86L301.88 1023.06L295.68 1029.26L289.48 1023.06Z" fill="#C00000"/><path d="M339.4 1017.49L345.6 1023.69L339.4 1029.89L333.2 1023.69Z" fill="#C00000"/><path d="M383.12 1019.71L389.32 1025.91L383.12 1032.11L376.92 1025.91Z" fill="#C00000"/><path d="M426.83 1020.66L433.03 1026.86L426.83 1033.06L420.63 1026.86Z" fill="#C00000"/><path d="M470.55 1019.08L476.75 1025.28L470.55 1031.48L464.35 1025.28Z" fill="#C00000"/><path d="M514.27 1020.66L520.47 1026.86L514.27 1033.06L508.07 1026.86Z" fill="#C00000"/><path d="M557.98 1020.66L564.18 1026.86L557.98 1033.06L551.78 1026.86Z" fill="#C00000"/><path d="M601.7 1020.66L607.9 1026.86L601.7 1033.06L595.5 1026.86Z" fill="#C00000"/></g>
<g clip-path="url(#cb)"><polyline points="77.1,1050.34 98.96,1049.86 120.82,1045.26 142.68,1035.75 164.53,1022.1 186.39,986.57 208.25,980.54 230.11,936.76 251.97,863.47 273.83,771.15 295.68,743.86 317.54,767.34 339.4,760.36 383.12,804.46 426.83,809.53 470.55,816.51 514.27,800.65 557.98,825.72 601.7,798.43" fill="none" stroke="#000" stroke-width="1.7" stroke-linejoin="round"/><path d="M77.1 1044.14L83.3 1050.34L77.1 1056.54L70.9 1050.34Z" fill="#000"/><path d="M98.96 1043.66L105.16 1049.86L98.96 1056.06L92.76 1049.86Z" fill="#000"/><path d="M120.82 1039.06L127.02 1045.26L120.82 1051.46L114.62 1045.26Z" fill="#000"/><path d="M142.68 1029.55L148.88 1035.75L142.68 1041.95L136.48 1035.75Z" fill="#000"/><path d="M164.53 1015.9L170.73 1022.1L164.53 1028.3L158.33 1022.1Z" fill="#000"/><path d="M186.39 980.37L192.59 986.57L186.39 992.77L180.19 986.57Z" fill="#000"/><path d="M208.25 974.34L214.45 980.54L208.25 986.74L202.05 980.54Z" fill="#000"/><path d="M230.11 930.56L236.31 936.76L230.11 942.96L223.91 936.76Z" fill="#000"/><path d="M251.97 857.27L258.17 863.47L251.97 869.67L245.77 863.47Z" fill="#000"/><path d="M273.83 764.95L280.03 771.15L273.83 777.35L267.63 771.15Z" fill="#000"/><path d="M295.68 737.66L301.88 743.86L295.68 750.06L289.48 743.86Z" fill="#000"/><path d="M317.54 761.14L323.74 767.34L317.54 773.54L311.34 767.34Z" fill="#000"/><path d="M339.4 754.16L345.6 760.36L339.4 766.56L333.2 760.36Z" fill="#000"/><path d="M383.12 798.26L389.32 804.46L383.12 810.66L376.92 804.46Z" fill="#000"/><path d="M426.83 803.33L433.03 809.53L426.83 815.73L420.63 809.53Z" fill="#000"/><path d="M470.55 810.31L476.75 816.51L470.55 822.71L464.35 816.51Z" fill="#000"/><path d="M514.27 794.45L520.47 800.65L514.27 806.85L508.07 800.65Z" fill="#000"/><path d="M557.98 819.52L564.18 825.72L557.98 831.92L551.78 825.72Z" fill="#000"/><path d="M601.7 792.23L607.9 798.43L601.7 804.63L595.5 798.43Z" fill="#000"/></g>
<g clip-path="url(#cb)"><g opacity="0.42"><polyline points="77.8,759.68 77.82,759.02 77.84,758.86 77.86,758.06 77.88,757.45 77.9,757.34 77.92,757.46 77.93,756.81 77.95,756.26 77.97,755.1 77.99,754.97 78.01,754.15 78.03,753.51 78.05,752.93 78.07,752.55 78.09,752.9 78.11,752.27 78.13,751.74 78.15,751.22 78.17,749.99 78.18,749.62 78.2,749.49 78.22,749.11 78.24,748.75 78.26,748.27 78.28,746.81 78.3,746.93 78.37,747.53 78.44,747.85 78.51,747.97 78.58,748.85 78.65,748.91 78.72,750.44 78.79,750.88 78.86,751.02 78.93,751.24 79,752.49 79.08,752.6 79.15,753.49 79.23,753.96 79.31,754.07 79.38,754.47 79.46,755.21 79.54,755.52 79.62,755.72 79.69,756.4 79.77,757.53 79.85,757.12 79.92,757.64 80,758.85 80.09,758.95 80.17,759.76 80.26,760.2 80.34,760.55 80.43,761.85 80.51,761.4 80.6,762.17 80.69,762.43 80.77,763.46 80.86,763.54 80.94,764.14 81.03,765.12 81.11,765.12 81.2,765.92 81.29,766.85 81.37,766.39 81.46,766.86 81.54,767.57 81.63,768.72 81.71,769.05 81.8,769.11 81.89,769.73 81.97,770.06 82.06,770.91 82.14,770.92 82.23,772.22 82.31,772.96 82.4,773.55 82.47,773.78 82.55,774.55 82.62,773.92 82.69,774.75 82.76,776.06 82.84,776.33 82.91,776.39 82.98,777.53 83.05,777.64 83.13,778.38 83.2,778.25 83.27,778.63 83.35,779.43 83.42,779.56 83.49,780.36 83.56,781.55 83.64,781.3 83.71,781.41 83.78,781.95 83.85,782.6 83.93,783.84 84,783.84 84.08,784.25 84.15,784.52 84.23,786.08 84.31,785.91 84.38,786.15 84.46,786.47 84.54,786.97 84.62,787.6 84.69,788.71 84.77,788.58 84.85,788.95 84.92,789.99 85,790.2 85.08,791.6 85.15,791.05 85.23,792.04 85.31,792.83 85.38,792.89 85.46,794.09 85.54,793.97 85.62,794.19 85.69,794.89 85.77,794.94 85.85,795.91 85.92,796.2 86,797.47 86.24,797.88 86.48,797.96 86.72,797.88 86.96,798.63 87.2,799.09 87.33,799.55 87.47,800.09 87.6,801.36 87.73,800.99 87.87,801.39 88,802.94 88.13,803.01 88.27,804.03 88.4,803.83 88.53,804.93 88.67,805.14 88.8,805.81 88.93,806.26 89.07,806.46 89.2,806.48 89.33,807.13 89.47,808.43 89.6,808.97 89.73,809.5 89.87,809.3 90,810.19 90.14,810.86 90.28,811.17 90.42,811.88 90.56,812.03 90.7,812.69 90.85,813.22 90.99,813.22 91.13,814.51 91.27,815.05 91.41,814.49 91.55,816.07 91.69,816.55 91.83,816.7 91.97,816.45 92.11,817.98 92.25,817.55 92.4,819.06 92.54,819.2 92.68,818.97 92.82,819.6 92.96,820.66 93.1,821.08 93.29,820.8 93.47,820.51 93.66,819.16 93.85,818.4 94.04,819.01 94.22,817.42 94.41,817.95 94.6,816.54 95.07,817.11 95.53,816.81 96,816.65 96.16,816.76 96.33,817.65 96.49,817.34 96.65,818.41 96.82,818.5 96.98,819.67 97.14,820.03 97.31,820.17 97.47,820.73 97.63,820.63 97.79,821.14 97.96,822.31 98.12,822.69 98.28,823.64 98.45,823.83 98.61,823.77 98.77,824.54 98.94,825.52 99.1,825.73 99.21,825.6 99.33,827.09 99.44,827.56 99.56,827.16 99.67,828.2 99.79,828.5 99.9,829.48 100.01,829.4 100.13,829.79 100.24,830.59 100.36,831.65 100.47,831.1 100.59,831.61 100.7,832.71 100.81,833.52 100.93,833.56 101.04,833.96 101.16,834.96 101.27,835.35 101.39,834.99 101.5,836.46 101.6,836.13 101.71,836.75 101.81,837.88 101.92,837.87 102.02,838.81 102.13,838.55 102.23,839.89 102.33,839.54 102.44,840 102.54,840.91 102.65,841.21 102.75,841.95 102.86,842.87 102.96,843.13 103.07,842.78 103.17,843.64 103.27,844.41 103.38,844.83 103.48,845.59 103.59,845.81 103.69,845.81 103.8,846.5 103.9,847.72 104.01,847.62 104.11,848.6 104.22,849.36 104.32,849.42 104.43,849.97 104.54,850.38 104.64,850.51 104.75,851.72 104.85,851.68 104.96,852.71 105.06,852.47 105.17,853.64 105.28,854.03 105.38,854.31 105.49,854.6 105.59,854.73 105.7,855.98 105.81,855.98 105.91,856.83 106.02,856.68 106.12,857.11 106.23,857.68 106.34,858.97 106.44,858.7 106.55,860.06 106.65,859.92 106.76,860.65 106.86,860.87 106.97,861.69 107.08,861.55 107.18,862.41 107.29,863.54 107.39,863.12 107.5,864.19 107.61,864.29 107.71,864.75 107.82,864.91 107.92,865.4 108.03,867.01 108.14,867.36 108.24,867.82 108.35,868.32 108.45,868.99 108.56,868.53 108.66,869.54 108.77,869.92 108.88,870.51 108.98,871.44 109.09,871.72 109.19,872.47 109.3,871.94 109.41,873.08 109.51,873.6 109.62,874.18 109.72,874.52 109.83,875.27 109.94,875.13 110.04,876.37 110.15,876.24 110.25,876.97 110.36,877.82 110.46,878.08 110.57,878.1 110.68,878.5 110.78,879.11 110.89,879.96 110.99,880.9 111.1,881.28 111.18,881.19 111.26,881.7 111.34,882.71 111.42,882.57 111.5,883.24 111.57,883.27 111.65,883.98 111.73,884.91 111.81,885.61 111.89,886.02 111.97,886.23 112.05,887.44 112.13,887.56 112.21,887.5 112.29,887.91 112.37,889.5 112.45,890.03 112.53,890.45 112.6,890.58 112.68,890.74 112.76,890.98 112.84,891.69 112.92,892.16 113,893.51 113.06,893.97 113.12,894.34 113.18,894.09 113.24,894.7 113.3,895.28 113.36,896.56 113.42,896.12 113.49,897.38 113.55,897.75 113.61,898.09 113.67,899.09 113.73,898.76 113.79,899.58 113.85,899.64 113.91,900.07 113.97,900.5 114.03,901.34 114.09,901.61 114.15,902.04 114.21,903.66 114.28,903.32 114.34,904.55 114.4,904.82 114.46,905.36 114.52,905.78 114.58,906.64 114.64,907.05 114.7,907.36 114.8,907.67 114.89,908.32 114.99,908.86 115.08,909.15 115.18,909.58 115.28,909.66 115.37,910.98 115.47,911.05 115.56,911.04 115.66,911.66 115.75,913 115.85,912.76 115.95,913.42 116.04,914.26 116.14,914.97 116.23,914.83 116.33,915.39 116.42,915.93 116.52,915.95 116.62,917.47 116.71,916.94 116.81,918.56 116.9,918.09 117,918.59 117.1,919.92 117.21,920.39 117.31,920.18 117.42,921.06 117.52,921.47 117.62,922.26 117.73,922.12 117.83,923.39 117.94,924.1 118.04,924.25 118.15,925.01 118.25,925.52 118.35,925.36 118.46,926.42 118.56,926.9 118.67,927.1 118.77,927.03 118.88,928.14 118.98,928.99 119.08,928.77 119.19,929.68 119.29,930.48 119.4,930.62 119.5,930.44 119.57,931.66 119.64,931.71 119.7,932.93 119.77,933.19 119.84,933.27 119.91,934.47 119.98,934.65 120.05,934.81 120.11,935.9 120.18,936.47 120.25,936.97 120.32,937.46 120.39,937.69 120.45,938.24 120.52,938.63 120.59,939.03 120.66,940.08 120.73,939.82 120.8,940 120.86,941.26 120.93,941.5 121,942.05 121.07,942.62 121.14,942.7 121.21,943.14 121.28,943.49 121.35,944.84 121.42,945.49 121.48,945.74 121.55,945.54 121.62,947.07 121.69,947.39 121.76,947.51 121.83,947.4 121.9,948.91 121.93,948.15 121.95,947.65 121.98,946.42 122,946.78 122.03,945.44 122.06,945.47 122.08,944.57 122.11,944.33 122.13,944.47 122.16,943.8 122.19,943.38 122.21,942.26 122.24,941.87 122.26,941.63 122.29,940.44 122.31,940.39 122.34,940.57 122.37,939.8 122.39,939.44 122.42,938.26 122.44,938.23 122.47,937.85 122.5,937.25 122.52,936.42 122.55,935.61 122.57,934.92 122.6,935 123,923.74 123.12,928.3 123.24,926.84 123.36,908.07 123.48,932.21 123.6,945.88 123.72,907.23 123.84,913.04 123.96,931.51 124.08,911.53 124.2,910.99 124.32,905.92 124.44,950.2 124.56,930.36 124.68,932.72 124.8,925.23 124.92,932.18 125.04,932.86 125.16,915.23 125.28,911.73 125.4,909.07 125.52,880.8 125.64,916.73 125.76,925.74 125.88,919.83 126,914.12 126.12,932.42 126.24,918.04 126.36,918.42 126.48,929.58 126.6,926.05 126.72,891.77 126.84,932.24 126.96,916.74 127.08,945.56 127.2,908.35 127.32,909.79 127.44,923.51 127.56,916.36 127.68,921.78 127.8,915.76 127.92,909.46 128.04,925.59 128.16,933.99 128.28,926.95 128.4,914.01 128.52,911.25 128.64,924.26 128.76,916.23 128.88,933.32 129,910.92 129.12,918.34 129.24,935.92 129.36,919.39 129.48,929.93 129.6,919.4 129.72,926.69 129.84,915.12 129.96,911.3 130.08,933.53 130.2,923.99 130.32,938.19 130.44,921.91 130.56,909.11 130.68,916.84 130.8,908.36 130.92,922.22 131.04,929.51 131.16,933.36 131.28,932.72 131.4,912.18 131.52,919.99 131.64,916.07 131.76,915.1 131.88,925.26 132,914.71 132.12,932.23 132.24,931.83 132.36,930.37 132.48,917.1 132.6,911.23 132.72,912.73 132.84,930.03 132.97,909.58 133.09,918.5 133.21,932.22 133.33,932.22 133.45,922.11 133.57,914.65 133.69,912.67 133.81,923.99 133.93,927.55 134.05,885 134.17,933.38 134.29,903.57 134.41,922 134.53,916.79 134.65,909.43 134.77,926.48 134.89,916.79 135.01,930.13 135.13,925.72 135.25,933 135.37,915.5 135.49,921.08 135.61,915.29 135.73,910.96 135.85,922.44 135.97,919.89 136.09,917.66 136.21,912.82 136.33,909.96 136.45,925.03 136.57,916.17 136.69,921.81 136.81,930.71 136.93,918.9 137.05,920.6 137.17,926.28 137.29,930.15 137.41,923.26 137.53,915.52 137.65,908.1 137.77,915.71 137.89,935.68 138.01,908.65 138.13,917.95 138.25,922.39 138.37,935.87 138.49,911.69 138.61,915.34 138.73,920.14 138.85,923.55 138.97,910.73 139.09,915.55 139.21,916.49 139.33,921.61 139.45,917.15 139.57,938.86 139.69,907.54 139.81,928.18 139.93,922.83 140.05,924.32 140.17,931.7 140.29,917.98 140.41,912.83 140.53,900.52 140.65,919.07 140.77,928.26 140.89,911.42 141.01,922.15 141.13,916.38 141.25,923.12 141.37,909.46 141.49,929.3 141.61,949.66 141.73,934.02 141.85,908.96 141.97,913.46 142.09,932.81 142.21,911.23 142.33,931.91 142.45,923.8 142.57,911.94 142.69,942.29 142.81,915.07 142.93,910.81 143.05,905.42 143.17,923.54 143.29,932.47 143.41,909.17 143.53,911.69 143.65,921.06 143.77,922.35 143.89,914.66 144.01,914.42 144.13,921.36 144.25,913.9 144.37,927.17 144.49,926.55 144.61,909.97 144.73,935.76 144.85,930.88 144.97,916.26 145.09,908.51 145.21,909.15 145.33,932.87 145.45,944.45 145.57,911.43 145.69,917.1 145.81,916.54 145.93,916.95 146.05,911.35 146.17,924.86 146.29,919.2 146.41,921.42 146.53,922.89 146.65,906.52 146.77,912.93 146.89,932.51 147.01,916.97 147.13,915.7 147.25,932.11 147.37,919.97 147.49,946.37 147.61,920.18 147.73,910.69 147.85,927.59 147.97,908.66 148.09,916.88 148.21,901.07 148.33,920.25 148.45,910.91 148.57,915.48 148.69,927.05 148.81,901.39 148.93,924.11 149.05,926.46 149.17,912.68 149.29,909.58 149.41,920.17 149.53,912.45 149.65,908.98 149.77,927 149.89,920.02 150.01,884 150.13,908.71 150.25,929.93 150.37,932.64 150.49,914.09 150.61,910.27 150.73,925.87 150.85,920.97 150.97,909.11 151.09,919.62 151.21,930.95 151.33,912.99 151.45,924.76 151.57,914.03 151.69,902.39 151.81,930.48 151.93,908.32 152.05,920.71 152.17,917.81 152.29,927.03 152.41,915.99 152.53,929.69 152.65,910.93 152.77,910.19 152.9,929.52 153.02,900.72 153.14,928.98 153.26,925.48 153.38,920.9 153.5,926.47 153.62,931.2 153.74,909.8 153.86,917.93 153.98,907.91 154.1,932.73 154.22,908.66 154.34,926.06 154.46,936.18 154.58,929.35 154.7,907.03 154.82,921.06 154.94,908.82 155.06,907.61 155.18,911.36 155.3,930.63 155.42,924.09 155.54,919.26 155.66,900.15 155.78,910.45 155.9,912.46 156.02,919.72 156.14,937.89 156.26,913.97 156.38,903.39 156.5,933.55 156.62,910.69 156.74,907.76 156.86,923.19 156.98,931.24 157.1,913.66 157.22,913.28 157.34,917.39 157.46,914.35 157.58,914.53 157.7,930.16 157.82,924.3 157.94,911.76 158.06,904.95 158.18,927.88 158.3,932.3 158.42,927.92 158.54,920.4 158.66,910.4 158.78,897.93 158.9,908.59 159.02,924.11 159.14,921.24 159.26,926.24 159.38,928.8 159.5,932.69 159.62,909.63 159.74,919.02 159.86,908.55 159.98,913.48 160.1,908.74 160.22,924.15 160.34,932.87 160.46,907.58 160.58,927.92 160.7,933.3 160.82,926.19 160.94,927.54 161.06,913.55 161.18,931.7 161.3,933.78 161.42,937.3 161.54,927.87 161.66,913.52 161.78,916.54 161.9,930.32 162.02,926.23 162.14,936.65 162.26,915.13 162.38,931.75 162.5,924.78 162.62,937.71 162.74,919.3 162.86,931.96 162.98,915.49 163.1,933.6 163.22,904.67 163.34,942.32 163.46,909.71 163.58,930.12 163.7,916.5 163.82,925.13 163.94,914.14 164.06,930.29 164.18,910.76 164.3,905.35 164.42,928.18 164.54,919.76 164.66,928.43 164.78,931.71 164.9,923.44 165.02,931.1 165.14,929.62 165.26,916.68 165.38,931.65 165.5,928.33 165.62,932.98 165.74,908.28 165.86,933.53 165.98,908.22 166.1,917.18 166.22,921.1 166.34,950.14 166.46,927.97 166.58,917.22 166.7,932.06 166.82,906.05 166.94,917.05 167.06,950.16 167.18,915.32 167.3,912.01 167.42,922.77 167.54,912.92 167.66,930.75 167.78,908.14 167.9,928.39 168.02,908.61 168.14,920.28 168.26,906.89 168.38,892.58 168.5,923.98 168.62,905.2 168.74,928.74 168.86,923.86 168.98,925.23 169.1,944.64 169.22,929.94 169.34,894.86 169.46,912.12 169.58,919.35 169.7,934.46 169.82,919.34 169.94,888 170.06,899.7 170.18,910.25 170.3,909.17 170.42,912.17 170.54,927.96 170.66,916.61 170.78,950.23 170.9,909.05 171.02,919.56 171.14,928.14 171.26,928.71 171.38,921.93 171.5,907.57 171.62,918.79 171.74,932.18 171.86,919.96 171.98,933.73 172.1,935.52 172.22,920.96 172.34,908.48 172.46,919.32 172.58,924.38 172.7,909.75 172.83,909.28 172.95,938.15 173.07,939.72 173.19,915.55 173.31,923.97 173.43,918.26 173.55,923.88 173.67,903.77 173.79,918.55 173.91,916.19 174.03,930.2 174.15,917.56 174.27,923.24 174.39,907.56 174.51,931.67 174.63,917.3 174.75,921.08 174.87,911.59 174.99,908.97 175.11,912.7 175.23,926.85 175.35,931.43 175.47,930.4 175.59,923.26 175.71,934.99 175.83,930.08 175.95,935.48 176.07,927.37 176.19,924.49 176.31,900.72 176.43,936.91 176.55,922.19 176.67,930.5 176.79,926.29 176.91,919.05 177.03,920.32 177.15,931.56 177.27,925.72 177.39,918.41 177.51,933.27 177.63,924.51 177.75,912.33 177.87,925.26 177.99,950 178.11,913.57 178.23,912.86 178.35,933.07 178.47,908.83 178.59,923.25 178.71,933.49 178.83,914.72 178.95,922.97 179.07,916.67 179.19,913.57 179.31,930.73 179.43,921.25 179.55,910.68 179.67,907.75 179.79,925.09 179.91,935.94 180.03,917.25 180.15,911.05 180.27,931.71 180.39,916.14 180.51,934.79 180.63,892.82 180.75,929.3 180.87,935.27 180.99,919.56 181.11,922.72 181.23,926.43 181.35,935.49 181.47,907.91 181.59,934.5 181.71,919.99 181.83,922.99 181.95,919.74 182.07,922.04 182.19,918.53 182.31,932.71 182.43,929.87 182.55,937.06 182.67,923.06 182.79,925.24 182.91,912.85 183.03,920.53 183.15,904.81 183.27,933.56 183.39,920.23 183.51,915.07 183.63,927.47 183.75,920.73 183.87,929.66 183.99,916.35 184.11,925.06 184.23,922.82 184.35,941.01 184.47,921.4 184.59,932.77 184.71,917.31 184.83,912.01 184.95,919.45 185.07,911.89 185.19,928.5 185.31,908.54 185.43,916.76 185.55,925.98 185.67,930.64 185.79,917.5 185.91,921.86 186.03,924.75 186.15,912.74 186.27,908.56 186.39,928.9 186.51,909.68 186.63,907.43 186.75,913.05 186.87,926.12 186.99,911.25 187.11,931.34 187.23,932.84 187.35,938.38 187.47,916.65 187.59,918.4 187.71,928.56 187.83,939.5 187.95,908.64 188.07,920.81 188.19,913.58 188.31,932.05 188.43,920.97 188.55,910.55 188.67,927.04 188.79,920.86 188.91,924.54 189.03,931.07 189.15,925.79 189.27,921.85 189.39,926.98 189.51,922.7 189.63,913.14 189.75,900.77 189.87,918.87 189.99,933.77 190.11,926.8 190.23,919.24 190.35,939.48 190.47,913.93 190.59,930.75 190.71,911.05 190.83,919.78 190.95,930.38 191.07,923.43 191.19,928.04 191.31,913.98 191.43,927.54 191.55,909.85 191.67,934.24 191.79,925.36 191.91,920.07 192.03,925.21 192.15,923.01 192.27,933.68 192.39,927.16 192.51,930.53 192.63,927.83 192.76,921.54 192.88,934.75 193,918.42 193.12,915.65 193.24,932.06 193.36,934.26 193.48,919.05 193.6,937.17 193.72,936.57 193.84,926.24 193.96,911.17 194.08,919.44 194.2,931.3 194.32,916.86 194.44,911.95 194.56,910.87 194.68,932.88 194.8,909.77 194.92,921.1 195.04,912.69 195.16,895.93 195.28,930.66 195.4,910.63 195.52,919.63 195.64,925.24 195.76,934.81 195.88,935.74 196,947 196.12,926.84 196.24,895.51 196.36,916.9 196.48,932.21 196.6,938.33 196.72,913.92 196.84,905.27 196.96,931.94 197.08,918.38 197.2,924.33 197.32,920.52 197.44,908.33 197.56,910.9 197.68,916.27 197.8,909.66 197.92,913.03 198.04,927.07 198.16,931.29 198.28,925.12 198.4,913.45 198.52,917.21 198.64,911.71 198.76,918.56 198.88,933.67 199,919.08 199.12,935.1 199.24,928.52 199.36,920.87 199.48,913.37 199.6,933.39 199.72,915.54 199.84,920.34 199.96,920.8 200.08,909.74 200.2,926.2 200.32,922 200.44,922.11 200.56,929.37 200.68,917.78 200.8,913.14 200.92,910.07 201.04,916.08 201.16,910.09 201.28,934.92 201.4,914.72 201.52,908.23 201.64,902.89 201.76,929.22 201.88,924.29 202,918.17 202.12,919.74 202.24,917.01 202.36,915.3 202.48,930.97 202.6,921.31 202.72,910.45 202.84,928.82 202.96,914.74 203.08,911.57 203.2,908.28 203.32,911.16 203.44,918.69 203.56,921.8 203.68,928.53 203.8,917.51 203.92,917.38 204.04,931.43 204.16,916.82 204.28,909.36 204.4,935.78 204.52,915.32 204.64,926.01 204.76,931.09 204.88,928.96 205,924.96 205.12,931 205.24,914.97 205.36,917.17 205.48,924.74 205.6,930.04 205.72,926.81 205.84,923.99 205.96,904.33 206.08,924.98 206.2,917.37 206.32,921.48 206.44,926.01 206.56,920.87 206.68,894.63 206.8,914 206.92,914.47 207.04,916.51 207.16,916.35 207.28,909.23 207.4,915.28 207.52,932.51 207.64,916.04 207.76,921.93 207.88,926.63 208,921.73 208.12,929.31 208.24,937.64 208.36,927.09 208.48,925.34 208.6,926.73 208.72,927.7 208.84,927.61 208.96,925.3 209.08,911.06 209.2,915.34 209.32,922.98 209.44,929.2 209.56,933.68 209.68,924.1 209.8,917.86 209.92,941.57 210.04,900 210.16,931.65 210.28,922.07 210.4,927.52 210.52,930.19 210.64,911.26 210.76,933.02 210.88,928.99 211,929.35 211.12,926.73 211.24,931.8 211.36,934.49 211.48,922.29 211.6,935.3 211.72,934.97 211.84,923.71 211.96,934.53 212.08,926.81 212.2,911.43 212.32,933.22 212.44,920.31 212.57,920.88 212.69,929.93 212.81,917.08 212.93,933.07 213.05,937 213.17,923.33 213.29,910.92 213.41,943.97 213.53,923.63 213.65,917.9 213.77,910.95 213.89,946.05 214.01,923.21 214.13,937.46 214.25,921.7 214.37,932.92 214.49,934.94 214.61,950.86 214.73,910.1 214.85,928.63 214.97,912.44 215.09,911.83 215.21,912.73 215.33,926.19 215.45,919.82 215.57,926.98 215.69,923.16 215.81,938.46 215.93,934.26 216.05,924.18 216.17,932.9 216.29,915.76 216.41,916.43 216.53,925.56 216.65,923.88 216.77,920.97 216.89,909.77 217.01,920.81 217.13,925.04 217.25,936.47 217.37,921.32 217.49,932.78 217.61,929.84 217.73,933.96 217.85,922.28 217.97,917.63 218.09,918.28 218.21,931.19 218.33,941.73 218.45,919.51 218.57,923.22 218.69,919.53 218.81,931.52 218.93,920.53 219.05,920.78 219.17,915.76 219.29,928.09 219.41,895.86 219.53,920.97 219.65,932.48 219.77,913.14 219.89,919.55 220.01,924.39 220.13,918.18 220.25,914.25 220.37,931.26 220.49,918.52 220.61,932.65 220.73,929.25 220.85,912.55 220.97,904.78 221.09,922.92 221.21,927.34 221.33,933.96 221.45,930.11 221.57,925.89 221.69,930.06 221.81,915.26 221.93,942.5 222.05,929.59 222.17,931.94 222.29,933.87 222.41,903.93 222.53,929.19 222.65,934.87 222.77,927.82 222.89,920.32 223.01,925.52 223.13,935.2 223.25,921.8 223.37,941.72 223.49,922.23 223.61,926.79 223.73,905.12 223.85,934.75 223.97,931.67 224.09,922.88 224.21,922.26 224.33,929.38 224.45,913.68 224.57,923.63 224.69,924.15 224.81,896.61 224.93,912.34 225.05,926.09 225.17,909.87 225.29,929.35 225.41,927.1 225.53,905.43 225.65,934.8 225.77,928.6 225.89,924.92 226.01,916.41 226.13,925.56 226.25,925.47 226.37,926.6 226.49,920.72 226.61,927.33 226.73,911.79 226.85,919.54 226.97,926.67 227.09,930.5 227.21,919.35 227.33,927.19 227.45,909.68 227.57,930.22 227.69,933.25 227.81,926.79 227.93,934.52 228.05,910.6 228.17,931.13 228.29,915.56 228.41,922.83 228.53,919.22 228.65,919.76 228.77,915.62 228.89,931.82 229.01,917.36 229.13,932.3 229.25,916.3 229.37,933.46 229.49,914.67 229.61,904.44 229.73,929.41 229.85,922.65 229.97,913.05 230.09,915.27 230.21,912.24 230.33,941.21 230.45,908.22 230.57,916.74 230.69,911.92 230.81,906.39 230.93,922.08 231.05,919.66 231.17,921.92 231.29,933.79 231.41,915.41 231.53,927.94 231.65,922.15 231.77,917.61 231.89,916.06 232.01,923.74 232.13,931.58 232.25,932.04 232.37,935.12 232.5,916.02 232.62,923.61 232.74,919.84 232.86,927.68 232.98,944.18 233.1,929.33 233.22,931.71 233.34,934.96 233.46,930.52 233.58,932.12 233.7,932.09 233.82,931.09 233.94,923.54 234.06,928.27 234.18,931.02 234.3,935.2 234.42,906.75 234.54,927.7 234.66,918.78 234.78,939.69 234.9,921.74 235.02,932.09 235.14,924.71 235.26,926.12 235.38,932.11 235.5,933.22 235.62,935.52 235.74,919.77 235.86,916.08 235.98,928.42 236.1,911.19 236.22,925.1 236.34,929.61 236.46,930.54 236.58,927.41 236.7,920.9 236.82,920.25 236.94,921.18 237.06,901.63 237.18,919.75 237.3,922.59 237.42,915.46 237.54,929.32 237.66,914.9 237.78,913.76 237.9,925.94 238.02,926.35 238.14,924.93 238.26,933.56 238.38,923.3 238.5,916.24 238.62,929.35 238.74,918.95 238.86,925.11 238.98,918.32 239.1,920.54 239.22,930.12 239.34,923.2 239.46,925.81 239.58,917.3 239.7,915.25 239.82,917.57 239.94,921.42 240.06,915.89 240.18,913.14 240.3,927.17 240.42,916.29 240.54,931.98 240.66,926.49 240.78,932.26 240.9,930.19 241.02,915.07 241.14,926.41 241.26,914.22 241.38,930.69 241.5,913.76 241.62,931.92 241.74,926.55 241.86,924.91 241.98,907.42 242.1,912.21 242.22,914.18 242.34,929.39 242.46,930.67 242.58,925.79 242.7,933.41 242.82,912.54 242.94,928.92 243.06,930.33 243.18,923.94 243.3,923.25 243.42,914.34 243.54,924.19 243.66,922.09 243.78,921.02 243.9,919.42 244.02,928.95 244.14,916.59 244.26,914.23 244.38,924.85 244.5,928.59 244.62,917.83 244.74,919.54 244.86,931.13 244.98,906.82 245.1,920.11 245.22,918.43 245.34,933.59 245.46,917.38 245.58,928.65 245.7,918.59 245.82,915.41 245.94,908.02 246.06,922.3 246.18,911.73 246.3,926.88 246.42,928.88 246.54,925.62 246.66,925.81 246.78,919.27 246.9,919.75 247.02,913.77 247.14,918.68 247.26,928.77 247.38,934.71 247.5,920.95 247.62,918.16 247.74,920.28 247.86,927.61 247.98,928.79 248.1,919.96 248.22,912.59 248.34,927.76 248.46,915.68 248.58,927.6 248.7,920.04 248.82,918.44 248.94,904.56 249.06,930.71 249.18,916.77 249.3,916.31 249.42,923.26 249.54,921.87 249.66,902.97 249.78,929.85 249.9,915.83 250.02,927.89 250.14,918.65 250.26,928.8 250.38,920.73 250.5,928.52 250.62,923.6 250.74,934.31 250.86,921.8 250.98,928.55 251.1,925.81 251.22,916.9 251.34,918.07 251.46,929.56 251.58,927.28 251.7,913.12 251.82,916.38 251.94,925.31 252.06,920.62 252.18,924.12 252.3,922.51 252.43,921.33 252.55,925.48 252.67,916.12 252.79,925.23 252.91,928.59 253.03,929.49 253.15,920.93 253.27,921.4 253.39,921.21 253.51,914.05 253.63,925.27 253.75,931.46 253.87,940.46 253.99,928.79 254.11,914.7 254.23,922.06 254.35,903.61 254.47,914.91 254.59,933.87 254.71,919.5 254.83,934.89 254.95,927.45 255.07,920.53 255.19,907.47 255.31,927.75 255.43,920.87 255.55,927.65 255.67,918.19 255.79,923.86 255.91,918.12 256.03,918.62 256.15,923.58 256.27,926.54 256.39,926.73 256.51,924.14 256.63,928.2 256.75,921.6 256.87,923.46 256.99,929.29 257.11,924.89 257.23,922.11 257.35,918.9 257.47,927.34 257.59,924.39 257.71,915.15 257.83,924.05 257.95,930.36 258.07,916.79 258.19,926.36 258.31,919.27 258.43,928.07 258.55,918.08 258.67,911.59 258.79,922.8 258.91,926.38 259.03,927.29 259.15,915.29 259.27,915.09 259.39,921.71 259.51,926.84 259.63,924.81 259.75,925.27 259.87,917.94 259.99,921.61 260.11,917.65 260.23,921.62 260.35,926.89 260.47,923.22 260.59,918.27 260.71,914.18 260.83,925.81 260.95,916.7 261.07,924.59 261.19,918.53 261.31,918.31 261.43,922.64 261.55,928.54 261.67,925.58 261.79,928.21 261.91,916.01 262.03,924.52 262.15,915.92 262.27,916.23 262.39,923.5 262.51,922.25 262.63,925.33 262.75,922.91 262.87,911.64 262.99,928.61 263.11,911.34 263.23,916.36 263.35,927.24 263.47,939.11 263.59,926.9 263.71,924.96 263.83,924.86 263.95,928.42 264.07,919.13 264.19,921.51 264.31,915.77 264.43,921.62 264.55,917.82 264.67,918.82 264.79,925.4 264.91,927.23 265.03,916.39 265.15,937.38 265.27,916.63 265.39,913.76 265.51,920.17 265.63,914.15 265.75,923.13 265.87,924.11 265.99,938.89 266.11,915.98 266.23,929.06 266.35,916.58 266.47,917.68 266.59,918.45 266.71,915.92 266.83,931.71 266.95,923.15 267.07,914.91 267.19,914.1 267.31,927.08 267.43,925.11 267.55,918.63 267.67,921.1 267.79,922.6 267.91,924.59 268.03,923.48 268.15,922.29 268.27,925.69 268.39,929.26 268.51,923.27 268.63,914.57 268.75,920.7 268.87,925.18 268.99,922.59 269.11,935.75 269.23,927.36 269.35,923.9 269.47,919.31 269.59,917.66 269.71,922.16 269.83,928.24 269.95,918.29 270.07,923.63 270.19,926.86 270.31,919.14 270.43,918.18 270.55,921.7 270.67,917.17 270.79,922.98 270.91,925.82 271.03,922.86 271.15,919.82 271.27,927.19 271.39,923.59 271.51,916.25 271.63,925.82 271.75,920.95 271.87,916.07 271.99,924.32 272.11,921.33 272.23,926.18 272.36,917.94 272.48,926.82 272.6,922.6 272.72,919.58 272.84,919.22 272.96,920.88 273.08,927.92 273.2,932.99 273.32,922.82 273.44,914.64 273.56,914.82 273.68,922.47 273.8,919.85 273.92,919.92 274.04,926.83 274.16,929.23 274.28,913.04 274.4,920.69 274.52,923 274.64,921.27 274.76,924.85 274.88,919.98 275,918.25 275.12,919.6 275.24,916.24 275.36,921.6 275.48,916.98 275.6,925.98 275.72,916.81 275.84,925.43 275.96,916.45 276.08,927.29 276.2,916.73 276.32,926.07 276.44,924.51 276.56,926.29 276.68,924.93 276.8,925.67 276.92,920.65 277.04,928.27 277.16,922.08 277.28,926.76 277.4,917.32 277.52,917.36 277.64,922.87 277.76,923.83 277.88,927.69 278,927.77 278.12,920.08 278.24,928.04 278.36,925.75 278.48,919.65 278.6,910.57 278.72,916.72 278.84,915.06 278.96,920.1 279.08,923.8 279.2,915.81 279.32,916.67 279.44,925.67 279.56,924.38 279.68,925.12 279.8,922.99 279.92,922.67 280.04,918.94 280.16,928.51 280.28,926.74 280.4,921.58 280.52,921.77 280.64,918.17 280.76,927.97 280.88,918.45 281,915.53 281.12,926.21 281.24,918.31 281.36,917.16 281.48,924.17 281.6,918.68 281.72,923.65 281.84,923.33 281.96,916.11 282.08,928.03 282.2,917.99 282.32,930.2 282.44,899 282.56,912.77 282.68,903.16 282.81,916.38 282.93,924.89 283.05,931.84 283.17,905.27 283.29,896.56 283.41,933.94 283.53,934.13 283.65,929.72 283.77,932.03 283.89,915.34 284.02,933.05 284.14,918.24 284.26,901.97 284.38,907 284.5,919.2 284.62,926.52 284.74,931.8 284.86,915.89 284.98,925.93 285.1,913.23 285.22,924.12 285.34,931.06 285.47,894.4 285.59,917.85 285.71,907.89 285.83,924.99 285.95,936.87 286.07,913.28 286.19,921.46 286.31,930.7 286.43,913.81 286.55,923.76 286.67,932.57 286.79,911.25 286.91,913.53 287.03,911.9 287.16,924.16 287.28,931.73 287.4,926.84 287.52,922.57 287.64,910.66 287.76,925.84 287.88,920.37 288,918.88 288.12,928.49 288.24,915.4 288.36,920.74 288.48,911.99 288.6,915.65 288.72,928.01 288.84,923.93 288.97,922.36 289.09,917.91 289.21,896.81 289.33,923.11 289.45,934 289.57,929.79 289.69,911.75 289.81,921.84 289.93,923.35 290.05,914.35 290.17,923.2 290.29,926.01 290.41,912.32 290.53,902.32 290.66,907.28 290.78,929.69 290.9,910.74 291.02,914.68 291.14,923.42 291.26,933.23 291.38,932.44 291.5,927.42 291.62,921.75 291.74,931.72 291.86,932.08 291.98,942.78 292.1,933.91 292.22,922.19 292.34,914.22 292.47,934.64 292.59,927 292.71,932.58 292.83,917.42 292.95,915.83 293.07,898.75 293.19,916.53 293.31,920.16 293.43,924.19 293.55,910.54 293.67,934.49 293.79,921.88 293.91,927.25 294.03,912.75 294.16,928.74 294.28,915.36 294.4,918.72 294.52,918.84 294.64,934.07 294.76,931.53 294.88,925.36 295,926.72 295.12,912.32 295.24,928.07 295.36,921.38 295.48,932.73 295.6,933.85 295.72,931.06 295.84,922.9 295.96,901.43 296.08,915.94 296.21,932.01 296.33,905.57 296.45,932.96 296.57,932.12 296.69,911.48 296.81,912.87 296.93,889.82 297.05,931.58 297.17,945.23 297.29,931.2 297.41,933.04 297.53,908.21 297.65,907.57 297.77,910.52 297.89,928.76 298.01,916.88 298.13,918.3 298.25,926.96 298.38,931.21 298.5,925.48 298.62,913.04 298.74,924.76 298.86,914.18 298.98,900.9 299.1,915.14 299.22,927.37 299.34,905.98 299.46,914.4 299.58,911.97 299.7,919.67 299.82,918.68 299.94,905.4 300.06,889.95 300.18,925.71 300.3,921.96 300.42,910.36 300.54,905.09 300.67,929.73 300.79,923.3 300.91,913.79 301.03,914.61 301.15,885.7 301.27,941.15 301.39,951.4 301.51,908.77 301.63,930.05 301.75,932.42 301.87,930.11 301.99,921.94 302.11,927.36 302.23,924.06 302.35,921.93 302.47,927.07 302.59,916.28 302.71,913.09 302.83,902.38 302.96,910.74 303.08,905.6 303.2,928.54 303.32,933.07 303.44,923.79 303.56,912.34 303.68,904.78 303.8,918.16 303.92,898.82 304.04,938.79 304.16,931.9 304.28,930.45 304.4,909.05 304.52,890 304.64,913.59 304.76,918.64 304.88,888.37 305,924.29 305.12,931.35 305.25,919.86 305.37,907.28 305.49,933.68 305.61,912.22 305.73,925.82 305.85,901.32 305.97,930.68 306.09,919.37 306.21,949.41 306.33,910.87 306.45,896.49 306.57,922.47 306.69,911.27 306.81,922.05 306.93,929.48 307.05,908.66 307.17,908.48 307.29,913.38 307.42,918.82 307.54,924.72 307.66,913.69 307.78,909.26 307.9,927.13 308.02,955.3 308.14,926.41 308.26,933.34 308.38,910.5 308.5,901.45 308.62,867.3 308.74,921.26 308.86,924.27 308.98,927.66 309.1,903.89 309.23,961.2 309.35,913.14 309.47,937.59 309.59,883.67 309.71,930.85 309.83,917.91 309.95,901.48 310.07,928.93 310.19,948.61 310.31,928.9 310.44,911.27 310.56,943.2 310.68,877.1 310.8,901.33 310.92,946.01 311.04,899.46 311.16,901.26 311.28,887.37 311.4,920.75 311.52,931.89 311.65,934.48 311.77,931.4 311.89,921.1 312.01,882 312.13,933.38 312.25,904.84 312.37,926.37 312.49,935.26 312.61,928.95 312.73,935.28 312.85,904.28 312.98,905.28 313.1,934.04 313.22,914.86 313.34,922.15 313.46,924 313.58,902.05 313.7,897.67 313.82,888.35 313.94,956.42 314.06,925.85 314.19,926.84 314.31,884.29 314.43,941.26 314.55,891.71 314.67,909.31 314.79,903.1 314.91,952.94 315.03,868.4 315.15,922.25 315.27,930.01 315.4,931.6 315.52,900.89 315.64,924.63 315.76,922.92 315.88,912.59 316.1,942.47 316.11,941.78 316.11,940.8 316.12,941.35 316.12,941 316.13,940.64 316.13,941.17 316.14,940.66 316.14,939.91 316.15,940.69 316.15,940.49 316.16,940.35 316.16,938.95 316.17,939.89 316.17,938.55 316.18,939.22 316.18,939.52 316.19,938.12 316.19,938.18 316.2,938.86 316.2,938.23 316.21,938.29 316.21,936.85 316.22,937.56 316.22,937.34 316.23,937.61 316.23,936.19 316.24,936.3 316.25,936.37 316.25,935.74 316.26,935.49 316.26,935.53 316.27,935.79 316.27,935.2 316.28,934.6 316.28,934.29 316.29,935.19 316.29,935.37 316.3,935.17 316.3,934.47 316.31,933.92 316.31,934.27 316.32,933.55 316.32,933.25 316.33,933.59 316.33,932.98 316.34,932.28 316.34,932 316.35,932.18 316.35,932.12 316.36,931.61 316.36,932.41 316.37,931.23 316.37,931.37 316.38,931 316.39,931.49 316.39,931.05 316.4,931.28 316.4,930.56 316.41,930.04 316.41,930.47 316.42,934.27 316.42,929.09 316.43,929.51 316.43,928.99 316.44,929 316.44,929.47 316.45,929.16 316.45,927.97 316.46,928.94 316.46,927.59 316.47,927.06 316.47,927.94 316.48,927.36 316.48,926.51 316.49,927.08 316.49,927.48 316.5,926.81 316.5,926.94 316.51,926.2 316.51,926.22 316.52,925.3 316.53,925.57 316.53,925.49 316.54,925.33 316.54,924.67 316.55,924.58 316.55,924.6 316.56,924.04 316.56,924.11 316.57,924.34 316.57,923.97 316.58,923.99 316.58,923.14 316.59,923.92 316.59,923.4 316.6,922.69 316.6,922.05 316.61,922.24 316.61,922.59 316.62,921.4 316.62,922.57 316.63,921.93 316.63,921.78 316.64,921.76 316.64,921.71 316.65,921.14 316.65,920.91 316.66,921.19 316.67,919.41 316.67,919.82 316.68,920.37 316.68,918.82 316.69,919.45 316.69,918.62 316.7,919.07 316.7,918.44 316.71,918.04 316.71,917.81 316.72,917.42 316.72,917.29 316.73,917.86 316.73,917.75 316.74,916.96 316.74,917.62 316.75,917.72 316.75,916.12 316.76,915.89 316.76,916.3 316.77,916.52 316.77,916.29 316.78,916.35 316.78,915.48 316.79,915.01 316.79,915.71 316.8,915.06 316.81,917.65 316.81,913.95 316.82,913.65 316.82,913.59 316.83,913.24 316.83,914.52 316.84,914.13 316.84,910.96 316.85,913.14 316.85,913.28 316.86,912.37 316.86,912.67 316.87,912.66 316.87,912.09 316.88,912.53 316.88,911.41 316.89,910.85 316.89,910.77 316.9,910.57 316.91,910.2 316.91,910.24 316.92,910.58 316.92,910.83 316.93,910.67 316.93,910.23 316.94,910.23 316.94,911.52 316.95,908.81 316.95,909.77 316.96,908.21 316.96,908.13 316.97,909.03 316.97,907.74 316.98,907.6 316.98,908.54 316.99,908.53 316.99,908.04 317,907.18 317.01,907.75 317.01,907.59 317.02,907.28 317.02,906.01 317.03,906.56 317.03,905.65 317.04,905.38 317.04,906.25 317.05,906.37 317.05,904.8 317.06,904.65 317.06,905.67 317.07,904.29 317.07,905.18 317.08,904.33 317.08,904.38 317.09,904.49 317.09,904.17 317.1,903.8 317.11,901.19 317.11,903.41 317.12,902.22 317.12,902.16 317.13,902.34 317.13,902.97 317.14,902.61 317.14,902.42 317.15,902.26 317.15,902.22 317.16,902.18 317.16,901.83 317.17,900.4 317.17,900.42 317.18,900.44 317.18,900.47 317.19,899.67 317.19,900.48 317.2,899.47 317.21,899.24 317.21,900.01 317.22,899.2 317.22,899.78 317.23,898.84 317.23,898.69 317.24,898.95 317.24,898.77 317.25,897.51 317.25,897.44 317.26,898.37 317.26,897.73 317.27,896.4 317.27,897.52 317.28,896.56 317.28,896.82 317.29,897.02 317.29,895.6 317.3,896.75 317.31,896.43 317.32,895.5 317.34,896.17 317.35,895.46 317.36,895.04 317.37,895.02 317.38,895.06 317.4,893.75 317.41,894.06 317.42,894.7 317.43,893.81 317.44,894.37 317.46,893.66 317.47,893.09 317.48,893.3 317.49,892.1 317.5,892.35 317.52,892.73 317.53,891.52 317.54,892.48 317.55,891.41 317.56,892.03 317.58,891.84 317.59,891.01 317.6,890.67 317.61,894.52 317.62,890.02 317.64,890.24 317.65,889.51 317.66,889.48 317.67,889.16 317.68,889.15 317.7,889.27 317.71,889.38 317.72,888.72 317.73,888.31 317.74,887.98 317.76,887.82 317.77,887.96 317.78,888.24 317.79,887.95 317.8,888.26 317.82,887.25 317.83,887.32 317.84,887.23 317.85,886.58 317.86,886.2 317.88,886.2 317.89,886.54 317.9,886.65 317.91,885.94 317.92,885.74 317.94,884.77 317.95,884.66 317.96,885.28 317.97,884.52 317.98,883.1 318,884.37 318.01,884.42 318.02,884.76 318.03,883.56 318.04,884.26 318.06,882.71 318.07,882.58 318.08,883.24 318.09,882.86 318.1,882.77 318.12,882.9 318.13,882.65 318.14,882.71 318.15,881.67 318.16,882.16 318.18,880.63 318.19,880.41 318.2,880.25 318.21,880.9 318.22,881.3 318.24,879.93 318.25,879.58 318.26,879.56 318.27,879.67 318.28,879.39 318.3,879.81 318.31,878.85 318.32,879.51 318.33,878.8 318.34,879.36 318.36,879.07 318.37,878.42 318.38,878.66 318.39,877.12 318.4,877.88 318.42,876.91 318.43,876.56 318.44,876.97 318.45,877.07 318.46,877.03 318.48,875.61 318.49,876.27 318.5,876.16 318.52,875.17 318.53,875.14 318.55,875.26 318.56,875.45 318.58,875 318.59,875.39 318.61,875.24 318.62,874.67 318.64,874.52 318.65,873.68 318.67,873.05 318.68,873.11 318.7,873.29 318.71,873.44 318.73,873.36 318.74,872.57 318.76,872.26 318.77,873.15 318.79,872.45 318.8,872 318.82,871.01 318.83,871.66 318.85,870.62 318.86,870.89 318.88,871.54 318.89,870.62 318.91,870.02 318.92,871.18 318.94,869.83 318.95,869.41 318.97,869.14 318.98,869.76 319,869.53 319.01,868.79 319.03,868.53 319.04,869.57 319.06,868.37 319.07,867.92 319.09,868.61 319.1,868.1 319.12,867.09 319.13,868.16 319.15,867.44 319.16,866.67 319.18,866.77 319.19,867.25 319.21,866 319.22,866.32 319.24,866.7 319.25,865.8 319.27,865.83 319.28,866.28 319.3,865.12 319.31,865.01 319.33,865.15 319.34,865.39 319.36,865.29 319.37,864.41 319.39,864.22 319.4,864.18 319.42,863.16 319.43,864.23 319.45,863.68 319.46,859.9 319.48,864.95 319.49,863.13 319.51,862.78 319.52,863.11 319.54,861.63 319.55,862.71 319.57,862.41 319.58,862.03 319.6,861.89 319.62,861.59 319.63,860.67 319.65,860.43 319.67,859.97 319.68,860.61 319.7,860.96 319.72,859.68 319.73,860.01 319.75,860.36 319.77,859.53 319.78,858.82 319.8,859.01 319.82,859.35 319.83,858.93 319.85,859.06 319.87,857.41 319.88,857.22 319.9,857.3 319.92,857.23 319.93,858.09 319.95,856.55 319.97,857.21 319.98,856.5 320,855.9 320.02,856.16 320.03,856.73 320.05,856.63 320.07,855.96 320.08,854.86 320.1,856.04 320.12,855.13 320.13,855.41 320.15,855.13 320.17,855.31 320.18,853.58 320.2,854.83 320.22,854.18 320.23,854.16 320.25,853.92 320.27,853.89 320.28,853.69 320.3,852.35 320.32,852.16 320.33,851.96 320.35,855.38 320.37,851.64 320.38,849.46 320.4,852.27 320.42,851.2 320.43,850.96 320.45,851.21 320.47,850.41 320.48,851.54 320.5,850.15 320.52,850.39 320.53,850.86 320.55,849.37 320.57,849.19 320.58,849.11 320.6,850.1 320.62,849.37 320.63,848.88 320.65,848.46 320.67,848.02 320.68,847.8 320.7,848.89 320.72,851.19 320.73,848.02 320.75,846.8 320.77,846.74 320.78,846.36 320.8,847.03 320.82,847.23 320.83,846.34 320.85,845.63 320.87,845.49 320.88,845.49 320.9,845.73 320.92,846.32 320.93,845.36 320.95,845.33 320.97,845.47 320.98,845.34 321,843.77 321.02,844.64 321.03,844.46 321.05,844.3 321.07,843.35 321.08,844.16 321.1,842.9 321.12,843.71 321.13,842.48 321.15,842.81 321.17,842.57 321.18,841.73 321.2,842.32 321.22,841.99 321.23,841.65 321.25,842.16 321.27,840.55 321.28,840.55 321.3,841.14 321.32,840.94 321.33,841.07 321.35,839.97 321.37,840 321.38,840.01 321.4,839.44 321.42,839.16 321.43,839.72 321.45,839.77 321.47,838.59 321.48,838.32 321.5,838.25 321.52,837.54 321.53,838.43 321.55,838.1 321.57,837.68 321.58,838.05 321.6,837.23 321.62,836.89 321.63,836.45 321.65,835.95 321.67,836.68 321.68,836.61 321.7,836.1 321.72,836.5 321.73,836.48 321.75,834.95 321.77,834.82 321.78,834.95 321.8,835.26 321.82,835.26 321.83,834.96 321.85,834.55 321.87,834.33 321.88,834.58 321.9,834.25 321.92,832.84 321.94,833.9 321.96,832.98 321.98,832.52 322,832.71 322.02,832.45 322.04,832.26 322.06,832.2 322.08,832.51 322.1,831.99 322.12,831.03 322.14,830.97 322.16,831.36 322.18,830.38 322.2,831.5 322.22,830.87 322.24,830.66 322.26,830.88 322.28,829.57 322.3,829.11 322.32,829.79 322.34,829.14 322.36,829.09 322.38,829.61 322.4,828.95 322.42,828.79 322.44,829.04 322.46,827.41 322.47,828.64 322.49,827.63 322.51,827.93 322.53,826.6 322.55,824.64 322.57,826.57 322.59,827.49 322.61,826.04 322.63,826.61 322.65,826.38 322.67,825.15 322.69,824.97 322.71,825.11 322.73,825.21 322.75,824.41 322.77,824.77 322.79,824.83 322.81,823.91 322.83,823.99 322.85,824.34 322.87,824.1 322.89,823.31 322.91,824.21 322.93,823.41 322.95,823.8 322.97,822.95 322.99,823.19 323.01,822.89 323.03,822.78 323.05,821.64 323.07,821.55 323.09,820.98 323.11,821.43 323.13,821.9 323.15,820.57 323.17,820.92 323.19,820.49 323.21,821.18 323.23,819.68 323.25,820.47 323.27,820.67 323.29,819.87 323.31,820.27 323.33,818.97 323.35,818.9 323.37,819.38 323.39,819.03 323.41,819.12 323.43,817.75 323.45,817.58 323.47,822.22 323.49,817.99 323.51,817.3 323.53,817.8 323.55,816.93 323.57,817.31 323.59,816.3 323.61,815.9 323.62,817.09 323.64,816.56 323.66,815.26 323.68,815 323.7,815.08 323.72,814.59 323.74,814.65 323.76,814.93 323.78,816.18 323.8,814.12 323.82,814.28 323.84,813.52 323.86,814.27 323.88,813.27 323.9,813.39 323.92,813.75 323.94,813.59 323.96,812.21 323.98,812.07 324,812.45 324.02,812.09 324.04,812.38 324.06,812.58 324.08,811.59 324.1,811.88 324.12,811.07 324.14,811.36 324.16,811.45 324.18,810.37 324.2,811.05 324.23,810.63 324.27,810.02 324.3,809.54 324.34,809.68 324.37,808.89 324.4,809.11 324.44,808.51 324.47,808.26 324.51,809.03 324.54,808.84 324.57,806.64 324.61,806.44 324.64,808.35 324.68,807.08 324.71,807.17 324.74,807.33 324.78,807.25 324.81,807.21 324.85,806.99 324.88,806.97 324.91,806.83 324.95,806.56 324.98,805.75 325.02,806 325.05,806.14 325.08,805.76 325.12,804.58 325.15,805.4 325.18,804.57 325.22,804.2 325.25,804.84 325.29,804.66 325.32,804.52 325.35,804.12 325.39,804.31 325.42,803.93 325.46,803.21 325.49,803.3 325.52,803.54 325.56,802.55 325.59,802.42 325.63,802.99 325.66,800.76 325.69,801.52 325.73,801.28 325.76,801.6 325.8,801.55 325.83,800.67 325.86,801.21 325.9,800.71 325.93,799.68 325.97,799.99 326,800.45 326.06,799.01 326.12,799.2 326.18,799.05 326.24,799.03 326.3,799.48 326.36,799.19 326.43,799.29 326.49,799.07 326.55,797.58 326.61,798.1 326.67,797.06 326.73,798.08 326.79,798.01 326.85,797.65 326.91,797.34 326.97,796.13 327.03,795.99 327.09,795.91 327.15,796.72 327.21,796.8 327.27,795.22 327.34,795.41 327.4,795.22 327.46,795.3 327.52,795.31 327.58,794.78 327.64,795.47 327.7,794.99 327.79,794.05 327.87,794.22 327.96,793.64 328.04,793.62 328.13,793.57 328.21,793.66 328.3,793.58 328.38,792.63 328.47,793.09 328.55,792.02 328.64,787.31 328.72,792.55 328.81,791.79 328.89,792 328.98,791.41 329.06,791.34 329.15,792.09 329.23,791.92 329.32,791.07 329.4,791.69 329.49,791.24 329.57,790.32 329.66,789.71 329.74,790.54 329.83,789.26 329.91,789.03 330,788.92 330.12,788.64 330.24,788.69 330.36,789.1 330.48,784.13 330.61,788.19 330.73,787.86 330.85,788.05 330.97,788.15 331.09,788.33 331.21,787.51 331.33,787.69 331.45,786.9 331.57,786.85 331.69,786.91 331.82,787.64 331.94,786.8 332.06,786.41 332.18,787.13 332.3,787.11 332.44,785.71 332.58,786.38 332.73,785.24 332.87,785.73 333.01,785.85 333.15,786.23 333.29,785.86 333.43,785.53 333.57,783.65 333.72,784.39 333.86,784.34 334,784.68 334.14,784.53 334.28,784.42 334.43,784.69 334.57,784.16 334.71,783.42 334.85,784.27 334.99,784.4 335.13,783.87 335.27,782.85 335.42,783.61 335.56,782.86 335.7,783.23 335.81,783.54 335.91,782.88 336.02,783.22 336.13,782.38 336.24,782.14 336.34,781.21 336.45,781.05 336.56,781.26 336.67,781.09 336.77,781.5 336.88,780.92 336.99,781.34 337.1,780.2 337.2,779.9 337.31,780.69 337.42,779.92 337.53,779.44 337.63,779.67 337.74,780.16 337.85,779.24 337.96,779.57 338.06,780 338.17,778.98 338.28,778.6 338.39,778.4 338.49,778.85 338.6,778.23 338.71,778.27 338.81,778.45 338.92,778.31 339.03,777.11 339.14,776.83 339.24,777.09 339.35,776.71 339.46,777.18 339.57,777.03 339.67,776.76 339.78,775.77 339.89,773.65 340,775.45 340.1,776.81 340.21,775.34 340.32,775.88 340.43,775.82 340.53,776.1 340.64,774.54 340.75,774.8 340.86,775.35 340.96,774.04 341.07,775.09 341.18,774.07 341.29,773.79 341.39,774.66 341.5,774.47 341.6,773.51 341.71,773.17 341.81,772.96 341.91,773.82 342.01,772.26 342.12,773.49 342.22,772.95 342.32,772.05 342.43,772.34 342.53,772.5 342.63,772.06 342.74,772.15 342.84,771.26 342.94,770.58 343.04,771.82 343.15,771.24 343.25,770.6 343.35,770.01 343.46,770.07 343.56,770.2 343.66,770.68 343.77,770.75 343.87,770.21 343.97,769.91 344.07,769.33 344.18,769.12 344.28,766.41 344.38,768.5 344.49,768.5 344.59,768.75 344.69,768.8 344.8,767.59 344.9,767.6 345,767.44 345.1,767.64 345.21,768.05 345.31,768.1 345.41,767.93 345.52,766.64 345.62,767.08 345.72,765.91 345.83,766.23 345.93,766.99 346.03,766.46 346.13,766.26 346.24,766.51 346.34,764.89 346.44,765.43 346.55,766.06 346.65,765.78 346.75,764.31 346.86,764.77 346.96,764.89 347.06,764.29 347.16,763.97 347.27,763.44 347.37,763.29 347.47,763 347.58,764.17 347.68,763.89 347.78,763.27 347.89,762.92 347.99,763.23 348.09,762.59 348.19,762.68 348.3,762.38 348.4,762.9 348.49,762.35 348.58,761.78 348.67,761.87 348.76,762.28 348.85,761.5 348.94,757.08 349.03,761.35 349.12,760.62 349.21,761.07 349.3,760.06 349.39,759.6 349.48,760.18 349.56,759.67 349.65,759.6 349.74,760.17 349.83,759.78 349.92,759.55 350.01,758.91 350.1,759.42 350.19,758.48 350.28,759.07 350.37,757.86 350.46,757.85 350.55,758.07 350.64,757.72 350.73,757.12 350.82,758.02 350.91,757.58 351,757.08 351.09,757.12 351.18,757.25 351.27,755.81 351.36,755.76 351.45,756.38 351.54,755.46 351.63,756.06 351.72,756.16 351.81,755.72 351.89,754.93 351.98,754.65 352.07,757.56 352.16,754.65 352.25,754.16 352.34,754.93 352.43,754.42 352.52,753.99 352.61,753.91 352.7,754.26 352.79,753.85 352.88,753.08 352.97,753.82 353.06,752.39 353.15,752.68 353.24,753.3 353.33,752.29 353.42,752.1 353.51,752.49 353.6,752.29 353.69,751.84 353.78,751 353.87,750.86 353.96,750.47 354.05,750.86 354.14,751.12 354.22,750.57 354.31,749.63 354.4,749.82 354.49,749.91 354.58,749.63 354.67,750.2 354.76,745.98 354.85,749.85 354.94,749.02 355.03,748.98 355.12,748.46 355.21,748.4 355.3,748.61 355.44,747.65 355.59,748.48 355.73,747.24 355.88,748.25 356.02,747.85 356.16,746.92 356.31,747.13 356.45,747.26 356.59,746.55 356.74,747.41 356.88,747.12 357.02,745.99 357.17,746.21 357.31,746.93 357.46,746.66 357.6,745.99 357.74,745.56 357.89,745.75 358.03,745.63 358.18,745.29 358.32,745.24 358.46,745.31 358.61,745.71 358.75,745.65 358.89,745.09 359.04,744.97 359.18,744.14 359.32,744.16 359.47,744.01 359.61,744.25 359.76,744.37 359.9,744.21 360.04,743.46 360.19,743.77 360.33,743.2 360.48,743.93 360.62,742.78 360.76,742.21 360.91,742.89 361.05,742.28 361.19,743.06 361.34,742.66 361.48,743.01 361.62,742.47 361.77,742.58 361.91,741.46 362.06,741.39 362.2,741.7 362.33,741.16 362.47,741.11 362.6,744.31 362.74,740.79 362.87,740.98 363.01,739.91 363.14,740.11 363.28,740.34 363.41,740.61 363.55,740.57 363.68,739.48 363.82,742.92 363.95,739.51 364.09,739.06 364.22,739.29 364.36,739.2 364.49,738.94 364.63,738.51 364.76,738.84 364.9,737.95 365.03,738.36 365.17,738.56 365.3,737.8 365.43,738.21 365.57,737.05 365.7,738 365.84,737.22 365.97,737.53 366.11,737.43 366.24,736.62 366.38,736.24 366.51,736.29 366.65,736.36 366.78,736.05 366.92,736.02 367.05,735.41 367.19,735.49 367.32,736.01 367.46,735.41 367.59,735.94 367.73,735.84 367.86,735.12 368,734.88 368.13,735.46 368.27,735.2 368.4,734.44 368.53,733.9 368.67,734.76 368.8,734.66 368.94,733.21 369.07,734.56 369.21,733.61 369.34,733.82 369.48,733.11 369.61,733.58 369.75,732.48 369.88,733.44 370.02,732.75 370.15,732.64 370.29,731.93 370.42,732.17 370.56,732.16 370.69,731.22 370.83,731.17 370.96,730.94 371.1,731.41 371.23,731.49 371.37,730.52 371.5,731.56 371.67,731.68 371.84,730.57 372.01,731.38 372.18,731.37 372.35,731.3 372.52,730.58 372.69,729.93 372.86,730.81 373.03,729.58 373.2,729.29 373.37,729.85 373.54,729.75 373.71,729.98 373.89,729.16 374.06,729.19 374.23,729.41 374.4,729.55 374.57,729.24 374.74,728.74 374.91,728.33 375.08,729.01 375.25,728.48 375.42,728.27 375.59,728.82 375.76,728.19 375.93,729.12 376.1,728.52 376.27,727.41 376.44,728.06 376.61,728.71 376.78,728.58 376.95,727.58 377.12,726.86 377.29,727.45 377.46,727.11 377.63,727.33 377.8,727.1 377.97,727.55 378.14,727.44 378.31,726.78 378.49,726.77 378.66,726.1 378.83,726.42 379,725.93 379.17,726.09 379.34,726.23 379.51,726.69 379.68,725.6 379.85,725.16 380.02,726.35 380.19,725.73 380.36,725.79 380.53,724.74 380.7,725.23 380.88,725.71 381.06,725.84 381.24,725.67 381.42,725.58 381.6,725.64 381.78,724.34 381.96,725.09 382.14,724.3 382.32,724.23 382.5,723.83 382.68,723.75 382.86,722.36 383.04,723.51 383.22,724.3 383.4,723.75 383.57,723.61 383.75,723.25 383.93,723.68 384.11,723.58 384.29,722.97 384.47,724.22 384.65,723.73 384.83,722.59 385.01,722.79 385.19,723.4 385.37,722.78 385.55,722.8 385.73,722.54 385.91,722.21 386.09,723.3 386.27,723.09 386.45,722.5 386.63,722.86 386.81,722.44 386.99,722.16 387.17,721.51 387.35,721.49 387.53,721.24 387.71,722.63 387.89,721.02 388.07,721.45 388.25,721.75 388.43,722.19 388.61,721.98 388.79,721.33 388.97,721.56 389.15,720.55 389.32,721.13 389.5,721.73 389.68,720.14 389.86,721.5 390.04,721.07 390.22,720.56 390.4,719.77 390.58,720.43 390.76,719.63 390.94,720.31 391.12,719.78 391.3,720.45 391.48,719.64 391.66,719.94 391.84,719.8 392.02,718.3 392.2,719.45 392.38,719.05 392.56,719.39 392.74,719.73 392.92,719.18 393.1,719.15 393.28,719.41 393.46,719.39 393.64,718.83 393.82,718.57 394,717.91 394.18,718.4 394.36,717.93 394.54,719.2 394.72,718.18 394.9,717.46 395.07,717.85 395.25,717.67 395.43,718.42 395.61,717.63 395.79,717.47 395.97,718.49 396.15,717.79 396.33,717.16 396.51,716.93 396.69,717.89 396.87,717.91 397.05,717.4 397.23,716.63 397.41,716.81 397.59,716.39 397.77,716.59 397.95,716.46 398.13,717.01 398.31,716.29 398.49,717.1 398.67,716.99 398.85,716.18 399.03,716.11 399.21,716.08 399.39,715.86 399.57,720.52 399.75,717.23 399.93,715.31 400.11,715.29 400.29,714.79 400.47,715.76 400.65,715.99 400.82,715.51 401,714.96 401.18,714.92 401.36,715.03 401.54,714.6 401.72,715 401.9,714.98 402.08,715.12 402.26,713.73 402.44,714.2 402.62,715.05 402.8,713.72 402.98,714.24 403.16,713.29 403.34,714.49 403.52,714.55 403.7,714.47 403.9,713.99 404.11,714.3 404.31,713.5 404.51,714.24 404.72,714.2 404.92,713.29 405.12,713.34 405.33,714.17 405.53,713.51 405.73,713.99 405.94,713.76 406.14,713.19 406.34,713.59 406.55,713.69 406.75,714.21 406.95,713.84 407.15,714.01 407.36,712.87 407.56,714.09 407.76,714.16 407.97,712.7 408.17,713.77 408.37,714.22 408.58,714.1 408.78,712.84 408.98,713.87 409.19,713.34 409.39,712.78 409.59,712.56 409.8,712.84 410,712.62 410.12,713.06 410.24,712.51 410.37,712.83 410.49,711.96 410.61,712.04 410.73,712.45 410.86,712.66 410.98,712.11 411.1,711.73 411.22,711.89 411.34,712.19 411.47,711.01 411.59,710.45 411.71,711.32 411.83,711.13 411.96,710.53 412.08,710.67 412.2,711.15 412.22,710.85 412.25,710.09 412.27,714.66 412.29,711.38 412.32,710.84 412.34,711.85 412.36,712.43 412.39,711.75 412.41,712.73 412.43,712.29 412.46,712.34 412.48,712.9 412.5,712.62 412.53,712.66 412.55,714.07 412.57,714.31 412.6,713.47 412.62,714.72 412.64,713.62 412.67,715.13 412.69,714.65 412.71,714.82 412.74,715.52 412.76,715.68 412.78,714.9 412.81,715.86 412.83,715.13 412.85,715.69 412.88,715.96 412.9,716.52 413.08,716.91 413.27,715.8 413.45,716.05 413.64,715.95 413.82,716.75 414.01,716.8 414.19,714.09 414.38,716.57 414.56,715.69 414.74,715.46 414.93,715.59 415.11,715.94 415.3,715.88 415.48,715.03 415.67,714.56 415.85,714.7 416.03,715.73 416.22,715.15 416.4,715.28 416.59,715.44 416.77,715.25 416.96,715.32 417.14,715.27 417.32,714.75 417.51,713.99 417.69,713.81 417.88,713.8 418.06,714.59 418.25,714.97 418.43,713.37 418.62,713.97 418.8,713.69 418.97,713.67 419.14,714.3 419.31,713.86 419.48,714.24 419.65,713.75 419.82,712.62 419.99,713.18 420.16,712.48 420.34,712.48 420.51,712.23 420.68,712.71 420.85,712.69 421.02,713.24 421.19,712.26 421.36,712.78 421.53,712.33 421.7,711.5 421.87,712.34 422.04,712.36 422.21,711.37 422.38,710.99 422.55,712.32 422.72,710.87 422.89,711.61 423.06,710.66 423.24,710.85 423.41,711.8 423.58,711.8 423.75,711.62 423.92,710.57 424.09,710.32 424.26,709.96 424.43,711.22 424.6,710.66 424.79,710.73 424.97,709.46 425.16,709.8 425.35,709.34 425.54,709.81 425.72,709.24 425.91,709.22 426.1,710.24 426.28,708.96 426.47,709.12 426.66,709.37 426.85,709.39 427.03,709.97 427.22,709.06 427.41,708.49 427.59,708.96 427.78,708.32 427.97,709.57 428.16,708.39 428.34,708.62 428.53,708.43 428.72,709.2 428.91,708.37 429.09,708.49 429.28,709.24 429.47,713.16 429.65,707.86 429.84,707.68 430.03,708.55 430.22,707.32 430.4,708.05 430.59,708.66 430.78,707.32 430.96,708.05 431.15,707.7 431.34,708.42 431.53,707.04 431.71,706.78 431.9,706.62 432.07,707.33 432.25,706.56 432.42,706.3 432.6,707.22 432.77,706.89 432.94,707.1 433.12,706.81 433.29,707.37 433.46,706.45 433.64,706.64 433.81,705.93 433.99,706.41 434.16,705.46 434.33,706.22 434.51,705.15 434.68,705.83 434.85,702.6 435.03,705.56 435.2,704.91 435.38,705.55 435.55,705.47 435.72,705.12 435.9,703.76 436.07,704.18 436.25,705.63 436.42,705.2 436.59,704.82 436.77,705.26 436.94,704.78 437.11,705.11 437.29,707.7 437.46,704.7 437.64,704.49 437.81,704.29 437.98,704.28 438.16,703.77 438.33,703.32 438.5,703.14 438.68,703.11 438.85,703.6 439.03,702.89 439.2,702.39 439.37,703.77 439.54,702.53 439.71,702.71 439.88,702.68 440.05,703.25 440.22,702.99 440.39,702.26 440.56,701.59 440.74,702.37 440.91,702.01 441.08,701.93 441.25,701.44 441.42,702.06 441.59,702.26 441.76,701.7 441.93,702.13 442.1,701.88 442.27,701.17 442.44,700.64 442.61,701.51 442.78,701.24 442.95,700.51 443.12,700.23 443.29,700.99 443.46,697.75 443.64,701.05 443.81,700.78 443.98,700.8 444.15,700.23 444.32,699.94 444.49,699.76 444.66,700.18 444.83,699.21 445,699.06 445.2,698.61 445.4,699.32 445.6,699.82 445.8,699.49 446,699.04 446.2,699.01 446.4,698.74 446.6,699.26 446.8,699.87 447,699.68 447.2,699.42 447.4,698.79 447.6,698.87 447.8,699.62 448,698.37 448.2,699.54 448.4,698.73 448.6,698.09 448.8,698.05 449,699.17 449.2,699.39 449.4,699.29 449.6,698.95 449.8,698.59 450,699.39 450.2,698.51 450.4,699.21 450.6,699 450.8,698.89 451,698.21 451.2,697.64 451.4,698.36 451.6,697.81 451.8,698.69 452,697.74 452.2,699 452.4,697.87 452.6,697.69 452.8,698.17 453,698.31 453.2,698.6 453.4,697.66 453.6,697.71 453.8,698.57 453.99,697.81 454.18,698.23 454.37,697.59 454.57,697.08 454.76,696.88 454.95,697.16 455.14,697.53 455.33,698.03 455.52,698.1 455.71,697.65 455.9,697.95 456.1,698.01 456.29,697.03 456.48,696.49 456.67,695.74 456.86,697.33 457.05,697.1 457.24,696.52 457.43,697.31 457.63,697.43 457.82,696.99 458.01,697.35 458.2,696.2 458.39,696.94 458.58,696.9 458.77,696.97 458.97,697.01 459.16,696.52 459.35,696.09 459.54,695.71 459.73,696.74 459.92,695.3 460.11,695.33 460.3,695.88 460.5,695.66 460.69,696.29 460.88,695.91 461.07,695.52 461.26,694.8 461.45,695.7 461.64,695.43 461.83,694.94 462.03,695.48 462.22,694.76 462.41,694.46 462.6,695.05 462.8,694.47 463,694.73 463.2,694.28 463.4,692.59 463.6,695.37 463.8,695.61 464,694.21 464.2,695.35 464.4,695.51 464.6,694.8 464.8,694.08 465,695.49 465.2,694.17 465.4,694.2 465.6,694.8 465.8,694.03 466,695.31 466.2,694.25 466.4,694.85 466.6,694.66 466.8,694.42 467,693.83 467.2,695.14 467.4,694.23 467.6,694.97 467.8,694.6 468,695.12 468.2,693.69 468.4,694.13 468.58,693.64 468.77,694.23 468.95,693.26 469.13,694.38 469.32,693.06 469.5,694.46 469.68,693.75 469.87,693.54 470.05,693.88 470.23,693.31 470.42,692.5 470.6,692.46 470.78,692.8 470.97,692.51 471.15,693.52 471.33,693.11 471.52,693.46 471.7,692.58 471.88,692.17 472.07,692.44 472.25,693.11 472.43,692.02 472.62,692.66 472.8,691.54 472.94,691.75 473.09,691.44 473.23,691.2 473.38,692.27 473.52,691.94 473.66,690.45 473.81,690.42 473.95,690.97 474.1,690.13 474.24,690.71 474.38,690.4 474.53,691.08 474.67,690.5 474.82,689.38 474.96,689.22 475.1,689.74 475.25,690.23 475.39,690.21 475.54,690.03 475.68,689.44 475.82,689.1 475.97,689.19 476.11,688.62 476.26,689.07 476.4,689.08 476.6,689.07 476.8,688.85 477,688.15 477.2,688.72 477.4,688.85 477.6,687.46 477.8,688.43 478,687.96 478.2,687.38 478.4,688.54 478.6,688.55 478.8,687.64 479,687.54 479.2,687.95 479.4,688.54 479.6,688.55 479.8,687.79 480,687.56 480.2,687.82 480.4,688.1 480.6,687.58 480.8,688.05 481,687.24 481.2,687.25 481.4,686.79 481.6,686.8 481.8,686.78 482,687.42 482.2,687.9 482.4,686.54 482.6,687 482.8,686.5 483,687.06 483.18,686.27 483.36,686.87 483.54,686.6 483.73,686.05 483.91,685.77 484.09,686.14 484.27,685.65 484.45,685.81 484.63,686.07 484.81,686.62 484.99,685.71 485.18,685.62 485.36,686.04 485.54,686.12 485.72,684.85 485.9,686.22 486.08,684.79 486.26,685.02 486.44,685.68 486.62,685.83 486.81,687.86 486.99,685.27 487.17,684.37 487.35,687.25 487.53,683.98 487.71,684.38 487.89,683.88 488.07,684.35 488.26,684.73 488.44,684.71 488.62,684.82 488.8,683.41 488.98,683.57 489.17,683.84 489.35,686.83 489.54,684.01 489.72,683.88 489.91,682.86 490.09,683.15 490.27,682.77 490.46,683.33 490.64,683.33 490.83,682.76 491.01,683.08 491.2,682.29 491.38,683.32 491.57,683.47 491.75,682.09 491.93,683.1 492.12,681.88 492.3,682.99 492.49,682.99 492.67,681.78 492.86,682.27 493.04,681.43 493.23,682.02 493.41,681.94 493.59,682.03 493.78,681.07 493.96,681.26 494.15,681.97 494.33,682.11 494.52,680.8 494.7,681.06 494.89,680.78 495.08,681.04 495.28,680.4 495.47,680.24 495.66,681.67 495.85,680.33 496.04,680.14 496.24,680.32 496.43,680.03 496.62,679.88 496.81,680.31 497.01,680.52 497.2,679.65 497.39,680.43 497.58,680.21 497.77,681.01 497.97,679.45 498.16,679.64 498.35,679.92 498.54,680.71 498.73,680.47 498.93,679.55 499.12,679.84 499.31,679.47 499.5,679.47 499.69,680.02 499.89,680.4 500.08,678.9 500.27,678.74 500.46,678.8 500.66,679.98 500.85,676.76 501.04,678.89 501.23,679.85 501.42,679.94 501.62,678.65 501.81,678.68 502,679.27 502.2,679.19 502.39,678.79 502.59,678.19 502.78,678.26 502.98,678.63 503.17,678.1 503.37,677.93 503.56,678.84 503.76,679.28 503.95,678.77 504.15,678.71 504.34,678.67 504.54,677.75 504.73,678.36 504.93,678.78 505.12,678.25 505.32,678.75 505.51,678.17 505.71,677.88 505.9,677.74 506.1,678.19 506.29,677.93 506.48,677.08 506.67,677.43 506.86,677.51 507.05,677.56 507.24,677.62 507.43,677.1 507.62,677.5 507.81,677.63 507.99,677.17 508.18,676.9 508.37,676.73 508.56,676.92 508.75,677.07 508.94,676.75 509.13,677.14 509.32,676.53 509.51,677.21 509.7,676.01 509.74,676.69 509.78,676.5 509.82,676.4 509.86,675.49 509.9,674.76 509.94,674.74 509.98,675.81 510.02,674.7 510.06,675.33 510.1,673.8 510.14,674.3 510.18,673.63 510.22,673.66 510.26,674.01 510.3,672.79 510.34,673.42 510.38,673.81 510.42,673.46 510.46,672.08 510.5,672.3 510.54,672.79 510.58,672.25 510.62,671.15 510.66,671.15 510.7,672.08 510.78,671.72 510.87,672.62 510.95,672.37 511.04,672.88 511.12,672.66 511.21,672.62 511.29,672.95 511.37,672.19 511.46,672.65 511.54,673.66 511.63,673.24 511.71,673.51 511.79,673.72 511.88,674.72 511.96,674.55 512.05,674.49 512.13,674.33 512.22,675.4 512.3,674.69 512.5,674.36 512.7,675.66 512.9,674.31 513.1,674.91 513.3,675.53 513.5,674.66 513.7,674.85 513.9,674.73 514.1,674.96 514.3,675.15 514.5,676.53 514.7,675.74 514.9,675.79 515.1,674.27 515.3,675.04 515.49,675.01 515.68,674.25 515.87,674.18 516.06,674.36 516.24,674.77 516.43,674.95 516.62,673.95 516.81,675.09 517,673.64 517.19,674.49 517.38,673.82 517.57,673.47 517.76,673.58 517.94,673.26 518.13,674.24 518.32,674.33 518.51,673.39 518.7,673.44 518.89,674.13 519.08,673.37 519.27,673.63 519.46,673.51 519.64,673.78 519.83,672.8 520.02,673.4 520.21,672.39 520.4,673.31 520.61,672.1 520.81,673.59 521.01,673.52 521.22,672.49 521.42,672.35 521.63,672.59 521.84,673.24 522.04,672.33 522.25,672.64 522.45,672.29 522.65,672.46 522.86,673.32 523.06,672.18 523.27,672.83 523.48,673.08 523.68,672.63 523.88,673.24 524.09,673.02 524.29,672.77 524.5,672.9 525,659.21 525.12,653.59 525.24,655.7 525.36,655.39 525.48,655.8 525.6,660.74 525.72,656.52 525.84,663.76 525.96,663.11 526.08,653.61 526.2,656.76 526.32,659.25 526.44,657.3 526.56,664.45 526.68,651.54 526.8,662.35 526.93,666.96 527.05,669.47 527.17,658.4 527.29,667.35 527.41,659.31 527.53,660.07 527.65,672.07 527.77,660.1 527.89,661.55 528.01,655.4 528.13,668.32 528.25,660.27 528.37,663.2 528.49,655.45 528.61,659.2 528.73,655.49 528.85,660.07 528.97,667.05 529.09,667.8 529.21,660.98 529.33,661.21 529.45,663.9 529.57,660.07 529.69,662.24 529.81,664.2 529.93,662.47 530.05,657.45 530.17,665.49 530.29,674.03 530.41,662.36 530.53,656.63 530.66,654.15 530.78,655.19 530.9,662.45 531.02,674.09 531.14,665.5 531.26,676.78 531.38,663.24 531.5,663.45 531.62,675.31 531.74,657.72 531.86,657.62 531.98,666.53 532.1,652.78 532.22,658.74 532.34,662.89 532.46,658.32 532.58,676.44 532.7,665.95 532.82,658.06 532.94,661.53 533.06,677.43 533.18,684.67 533.3,673.94 533.42,661.4 533.54,659.44 533.66,666.93 533.78,662.74 533.9,672.52 534.02,673.28 534.14,672.52 534.26,660.56 534.39,651.32 534.51,665.41 534.63,668.01 534.75,671.97 534.87,662.87 534.99,657.58 535.11,665.16 535.23,665.37 535.35,680.15 535.47,657.63 535.59,673.42 535.71,670.3 535.83,659.39 535.95,662.28 536.07,674.27 536.19,663.51 536.31,669.51 536.43,658.36 536.55,672.71 536.67,658.69 536.79,673.93 536.91,662.38 537.03,653.76 537.15,672.84 537.27,671.65 537.39,659.77 537.51,661.21 537.63,666.37 537.75,663.38 537.87,671.94 537.99,663.99 538.11,671.69 538.24,671.84 538.36,665.13 538.48,656.32 538.6,655.43 538.72,664.01 538.84,665.37 538.96,664.68 539.08,669.07 539.2,665.29 539.32,660.57 539.44,664.33 539.56,668.4 539.68,663.19 539.8,664.16 539.92,667.12 540.04,664.53 540.16,670.99 540.28,669.91 540.4,660.26 540.52,670.85 540.64,658.44 540.76,654.73 540.88,659.67 541,658.36 541.12,670.51 541.24,662.04 541.36,658.72 541.48,667.56 541.6,669.5 541.72,666.38 541.84,666.9 541.97,662.66 542.09,662.02 542.21,662.17 542.33,663.44 542.45,662.45 542.57,661.29 542.69,658.92 542.81,660.47 542.93,658.64 543.05,669.17 543.17,667.23 543.29,668.37 543.41,669.51 543.53,664.45 543.65,663.93 543.77,661.35 543.89,660.25 544.01,653.29 544.13,659.17 544.25,659.03 544.37,663.48 544.49,664.59 544.61,661.43 544.73,664.29 544.85,659.77 544.97,659.19 545.09,662.01 545.21,666.71 545.33,664 545.45,669.2 545.57,659.16 545.7,668.74 545.82,661.51 545.94,665.53 546.06,665.49 546.18,667.66 546.3,662.22 546.42,661.52 546.54,667.45 546.66,660.79 546.78,668.23 546.9,659.8 547.02,667.23 547.14,660.27 547.26,663.02 547.38,667.83 548,662.21 548.19,661.95 548.38,661.81 548.57,663.38 548.76,662.66 548.94,662.25 549.13,661.7 549.32,661.44 549.51,661.24 549.7,661.87 549.89,661.74 550.08,661.45 550.27,661.02 550.46,661.52 550.64,661.37 550.83,661.58 551.02,662.24 551.21,660.8 551.4,662.17 551.59,660.74 551.78,661.36 551.97,661.83 552.16,660.81 552.34,660.34 552.53,660.2 552.72,661.21 552.91,661.39 553.1,660.16 553.26,660.62 553.43,659.67 553.59,660.32 553.75,659.67 553.91,659.17 554.08,659.49 554.24,659.56 554.4,660.35 554.56,659.33 554.73,659.68 554.89,658.72 555.05,660.42 555.21,658.4 555.38,658.38 555.54,658.63 555.7,658.76 555.72,657.67 555.74,657.49 555.75,657.75 555.77,657.81 555.79,658.46 555.81,656.53 555.83,657 555.84,657.44 555.86,658.96 555.88,657.28 555.9,657.24 555.91,657.08 555.93,655.42 555.95,655.69 555.97,655.79 555.99,655.35 556,654.52 556.02,654.91 556.04,654.69 556.06,654.99 556.08,654.21 556.09,653.71 556.11,653.9 556.13,654.21 556.15,653.8 556.16,653.16 556.18,652.47 556.2,653.46 556.23,653.57 556.26,652.91 556.29,654.04 556.32,652.91 556.35,654.74 556.38,654.97 556.41,653.9 556.44,654.69 556.47,654.56 556.5,655.63 556.53,655.43 556.56,655.91 556.59,656.22 556.62,655.57 556.65,656.62 556.68,655.82 556.71,657.02 556.74,657.38 556.77,657.38 556.8,656.75 556.92,657.14 557.05,657.93 557.17,656.71 557.3,657.24 557.42,657.12 557.55,657.57 557.67,658.69 557.8,657.9 557.92,658.3 558.05,659.46 558.17,659.23 558.3,659.51 558.42,659.71 558.55,659.78 558.67,659.24 558.8,660.1 558.97,660.26 559.15,658.75 559.32,659.63 559.5,659.13 559.67,659.83 559.85,658.27 560.02,659.56 560.2,658.48 560.38,659.46 560.55,658.88 560.72,659.09 560.9,658.8 561.07,657.97 561.25,657.94 561.42,658.14 561.6,658.4 561.77,657.29 561.95,657.6 562.12,658.21 562.3,657.1 562.34,656.82 562.37,656.5 562.41,657.11 562.44,657.4 562.48,656.3 562.52,656.84 562.55,656.33 562.59,656.92 562.62,655.16 562.66,655.46 562.7,655.9 562.73,655.93 562.77,655.24 562.81,655.62 562.84,655.36 562.88,654.79 562.91,654.23 562.95,654.67 562.99,653.51 563.02,653.61 563.06,654.07 563.09,654.11 563.13,653.85 563.17,652.36 563.2,653.15 563.24,652.74 563.27,652.08 563.31,651.85 563.35,651.61 563.38,651.9 563.42,651.83 563.46,650.72 563.49,650.42 563.53,650.76 563.56,651.53 563.6,651.4 563.71,650.87 563.83,651.75 563.94,651.87 564.05,651.21 564.16,650.96 564.27,651.35 564.39,652.37 564.5,652.23 564.6,651.54 564.7,653.07 564.8,651.71 564.9,652.49 565,653.03 565.1,653.37 565.2,653.8 565.3,653.62 565.4,654.27 565.5,654.49 565.6,654.26 565.7,654.49 565.8,654.54 565.9,654.33 566,654.68 566.1,654.74 566.2,655.51 566.3,654.68 566.4,654.76 566.6,656.03 566.8,655.87 567,656.37 567.2,655.05 567.4,656.2 567.6,655.53 567.8,656.35 568,656.13 568.2,655.17 568.4,655.8 568.6,656.02 568.8,655.33 569,655.57 569.2,656.32 569.4,656.81 569.6,657.21 569.8,655.9 570,656.98 570.21,656.91 570.41,656.8 570.62,656.2 570.83,656.11 571.03,655.88 571.24,657.03 571.45,656.51 571.65,656.28 571.86,656.91 572.07,656.21 572.27,657.11 572.48,657.31 572.69,657.43 572.89,656.78 573.1,656.47 573.13,655.85 573.15,656.41 573.18,656.53 573.2,656.66 573.23,656.01 573.25,655.54 573.28,655.93 573.31,654.59 573.33,654.5 573.36,654.98 573.38,654.94 573.41,653.98 573.43,655.09 573.46,653.53 573.49,654.41 573.51,653.42 573.54,652.71 573.56,653.84 573.59,652.9 573.61,652.78 573.64,653.29 573.67,651.86 573.69,653 573.72,652 573.74,651.77 573.77,651.8 573.79,652.3 573.82,651.29 573.85,651.24 573.87,650.5 573.9,650.26 573.92,649.78 573.95,650.73 573.97,650.85 574,649.76 574.04,650.47 574.08,650.27 574.11,650.74 574.15,650.61 574.19,650.71 574.23,651.55 574.26,650.51 574.3,651.42 574.34,652.35 574.38,651.92 574.41,652.22 574.45,651.63 574.49,652.93 574.52,652.34 574.56,653.12 574.6,652.6 574.71,653.27 574.83,653.7 574.94,653.9 575.06,653.8 575.17,654.13 575.29,653.5 575.4,653.57 575.51,654.4 575.63,654.98 575.74,655.27 575.86,654.69 575.97,655.17 576.09,655.47 576.2,655.26 576.4,654.75 576.6,655.4 576.8,654.67 577,654.5 577.2,655.22 577.4,655.31 577.6,655.41 577.8,655.15 578,655.01 578.2,654.36 578.4,654.99 578.6,655.16 578.8,655.77 579,661.2 579.2,654.69 579.4,654.91 579.6,655.51 579.8,654.47 580,655.54 580.2,655.47 580.4,655.34 580.6,654.04 580.8,655.41 581,654.49 581.15,653.69 581.3,654.3 581.44,654.57 581.59,654.87 581.74,654 581.89,653.82 582.03,653.84 582.18,653.82 582.33,653.64 582.48,653.35 582.62,653.06 582.77,650.43 582.92,652.23 583.07,653.15 583.21,652.39 583.36,652.85 583.51,652.76 583.66,651.38 583.8,651.07 583.95,650.8 584.1,651.97 584.16,651.3 584.21,650.31 584.27,650.65 584.33,650.77 584.38,650.2 584.44,650.79 584.5,650.49 584.55,650.28 584.61,648.87 584.67,649.74 584.72,649.44 584.78,649.23 584.83,648.31 584.89,648.79 584.95,648.3 585,649.2 585.06,649.03 585.12,648.36 585.17,647.54 585.23,647.79 585.29,647.43 585.34,647.74 585.4,646.25 585.6,647.11 585.8,647.62 586,646.95 586.2,646.02 586.4,646.72 586.6,647.69 586.8,647 587,641.13 587.2,647.42 587.4,647.03 587.6,646.87 587.8,646.73 588,646.56 588.2,646.74 588.4,646.55 588.6,647.18 588.8,646.7 589,647.22 589.2,646.79 589.4,646.64 589.6,647.06 589.8,646.06 590,646.37 590.2,646.59 590.33,645.77 590.46,646.66 590.59,647.58 590.72,647.09 590.85,647.4 590.98,648.26 591.1,646.97 591.23,648.31 591.36,648.16 591.49,647.55 591.62,647.48 591.75,647.98 591.88,648.48 592.01,647.94 592.14,648.87 592.27,649.24 592.4,649.42 592.52,649.66 592.65,649.15 592.78,649.18 592.91,650.07 593.04,649.1 593.17,650.41 593.3,649.32 593.5,650.12 593.7,649.65 593.9,650.28 594.1,649.73 594.3,649.4 594.5,649.26 594.7,649.46 594.9,649.18 595.1,649.61 595.3,649.52 595.5,649.02 595.7,649.03 595.9,649.93 596.1,650.43 596.3,650 596.5,650.57 596.7,650.12 596.9,650.25 597.1,649.3 597.3,649.39 597.5,649.64 597.7,649.67 597.9,648.8 598.1,648.73 598.3,650.22 598.5,650.15 598.7,649.78 598.9,649.9 599.1,649.74 599.3,649.91 599.5,649.68 599.7,649.92 599.9,648.99 599.93,648.01 599.95,648.13 599.98,648.83 600,645.41 600.03,648.19 600.05,647.7 600.08,647.52 600.11,647.89 600.13,647.04 600.16,648.12 600.18,646.22 600.21,645.99 600.24,647 600.26,646.59 600.29,646.92 600.31,645.47 600.34,645.75 600.36,646.4 600.39,645.22 600.42,645.9 600.44,645.37 600.47,643.93 600.49,643.92 600.52,644.87 600.55,643.82 600.57,643.63 600.6,644.51 600.62,643.45 600.65,643.11 600.67,644.04 600.7,642.95 600.92,643.42 601.13,642.57 601.35,643.75 601.57,643.59 601.78,642.72 602,643" fill="none" stroke="#5A6EFF" stroke-width="1.9" stroke-linejoin="round" stroke-linejoin="miter"/></g></g>
<g clip-path="url(#cb)"><polyline points="77.1,872.51 120.82,867.75 164.53,868.23 208.25,896.31 251.97,971.5 295.68,1060.97 339.4,1064.3 383.12,1064.3 426.83,1064.3 470.55,1064.3 514.27,1064.3 557.98,1064.3 601.7,1064.3" fill="none" stroke="#EC008C" stroke-width="1.7" stroke-linejoin="round"/><polygon points="77.1,867.86 73.07,870.19 73.07,874.84 77.1,877.16 81.13,874.84 81.13,870.19" fill="#fff" stroke="#EC008C" stroke-width="1.7"/><polygon points="120.82,863.1 116.79,865.43 116.79,870.08 120.82,872.4 124.84,870.08 124.84,865.43" fill="#fff" stroke="#EC008C" stroke-width="1.7"/><polygon points="164.53,863.58 160.51,865.9 160.51,870.55 164.53,872.88 168.56,870.55 168.56,865.9" fill="#fff" stroke="#EC008C" stroke-width="1.7"/><polygon points="208.25,891.66 204.22,893.98 204.22,898.63 208.25,900.96 212.28,898.63 212.28,893.98" fill="#fff" stroke="#EC008C" stroke-width="1.7"/><polygon points="251.97,966.85 247.94,969.17 247.94,973.82 251.97,976.15 255.99,973.82 255.99,969.17" fill="#fff" stroke="#EC008C" stroke-width="1.7"/><polygon points="295.68,1056.32 291.66,1058.64 291.66,1063.29 295.68,1065.62 299.71,1063.29 299.71,1058.64" fill="#fff" stroke="#EC008C" stroke-width="1.7"/><polygon points="339.4,1059.65 335.37,1061.97 335.37,1066.62 339.4,1068.95 343.43,1066.62 343.43,1061.97" fill="#fff" stroke="#EC008C" stroke-width="1.7"/><polygon points="383.12,1059.65 379.09,1061.97 379.09,1066.62 383.12,1068.95 387.14,1066.62 387.14,1061.97" fill="#fff" stroke="#EC008C" stroke-width="1.7"/><polygon points="426.83,1059.65 422.81,1061.97 422.81,1066.62 426.83,1068.95 430.86,1066.62 430.86,1061.97" fill="#fff" stroke="#EC008C" stroke-width="1.7"/><polygon points="470.55,1059.65 466.52,1061.97 466.52,1066.62 470.55,1068.95 474.58,1066.62 474.58,1061.97" fill="#fff" stroke="#EC008C" stroke-width="1.7"/><polygon points="514.27,1059.65 510.24,1061.97 510.24,1066.62 514.27,1068.95 518.29,1066.62 518.29,1061.97" fill="#fff" stroke="#EC008C" stroke-width="1.7"/><polygon points="557.98,1059.65 553.96,1061.97 553.96,1066.62 557.98,1068.95 562.01,1066.62 562.01,1061.97" fill="#fff" stroke="#EC008C" stroke-width="1.7"/><polygon points="601.7,1059.65 597.67,1061.97 597.67,1066.62 601.7,1068.95 605.73,1066.62 605.73,1061.97" fill="#fff" stroke="#EC008C" stroke-width="1.7"/></g>
<line x1="69.1" y1="588.4" x2="608.7" y2="588.4" stroke="#000" stroke-width="1.4"/>
<line x1="69.1" y1="1064.3" x2="608.7" y2="1064.3" stroke="#000" stroke-width="1.4"/>
<line x1="77.1" y1="587.7" x2="77.1" y2="1071.6" stroke="#000" stroke-width="1.8"/>
<line x1="601.7" y1="587.7" x2="601.7" y2="1071.6" stroke="#000" stroke-width="1.8"/>
<path d="M69.1 1064.3H77.1M73.1 1032.57H77.1M73.1 1000.85H77.1M73.1 969.12H77.1M73.1 937.39H77.1M69.1 905.67H77.1M73.1 873.94H77.1M73.1 842.21H77.1M73.1 810.49H77.1M73.1 778.76H77.1M69.1 747.03H77.1M73.1 715.31H77.1M73.1 683.58H77.1M73.1 651.85H77.1M73.1 620.13H77.1M69.1 588.4H77.1M601.7 1064.3H608.7M601.7 1040.5H605.7M601.7 1016.71H605.7M601.7 992.91H605.7M601.7 969.12H608.7M601.7 945.32H605.7M601.7 921.53H605.7M601.7 897.73H605.7M601.7 873.94H608.7M601.7 850.14H605.7M601.7 826.35H605.7M601.7 802.55H605.7M601.7 778.76H608.7M601.7 754.96H605.7M601.7 731.17H605.7M601.7 707.38H605.7M601.7 683.58H608.7M601.7 659.78H605.7M601.7 635.99H605.7M601.7 612.19H605.7M601.7 588.4H608.7M77.1 1064.3V1071.6M88.03 1064.3V1067.9M98.96 1064.3V1067.9M109.89 1064.3V1067.9M120.82 1064.3V1067.9M131.75 1064.3V1067.9M142.68 1064.3V1071.6M153.6 1064.3V1067.9M164.53 1064.3V1067.9M175.46 1064.3V1067.9M186.39 1064.3V1067.9M197.32 1064.3V1067.9M208.25 1064.3V1071.6M219.18 1064.3V1067.9M230.11 1064.3V1067.9M241.04 1064.3V1067.9M251.97 1064.3V1067.9M262.9 1064.3V1067.9M273.83 1064.3V1071.6M284.75 1064.3V1067.9M295.68 1064.3V1067.9M306.61 1064.3V1067.9M317.54 1064.3V1067.9M328.47 1064.3V1067.9M339.4 1064.3V1071.6M350.33 1064.3V1067.9M361.26 1064.3V1067.9M372.19 1064.3V1067.9M383.12 1064.3V1067.9M394.05 1064.3V1067.9M404.98 1064.3V1071.6M415.9 1064.3V1067.9M426.83 1064.3V1067.9M437.76 1064.3V1067.9M448.69 1064.3V1067.9M459.62 1064.3V1067.9M470.55 1064.3V1071.6M481.48 1064.3V1067.9M492.41 1064.3V1067.9M503.34 1064.3V1067.9M514.27 1064.3V1067.9M525.2 1064.3V1067.9M536.12 1064.3V1071.6M547.05 1064.3V1067.9M557.98 1064.3V1067.9M568.91 1064.3V1067.9M579.84 1064.3V1067.9M590.77 1064.3V1067.9M601.7 1064.3V1071.6" stroke="#000" stroke-width="1.7" fill="none"/>
<g font-family='"Liberation Sans", sans-serif' font-weight="bold" font-size="13.4" fill="#000">
<text transform="translate(62.5 1069.5) scale(1.07 1)" text-anchor="end">0</text>
<text transform="translate(62.5 910.87) scale(1.07 1)" text-anchor="end">5</text>
<text transform="translate(59.7 752.23) scale(1.07 1)" text-anchor="end">10</text>
<text transform="translate(59.7 593.6) scale(1.07 1)" text-anchor="end">15</text>
<text transform="translate(615.2 1075.4) scale(1.07 1)">0</text>
<text transform="translate(615.2 980.22) scale(1.07 1)">20</text>
<text transform="translate(615.2 885.04) scale(1.07 1)">40</text>
<text transform="translate(615.2 789.86) scale(1.07 1)">60</text>
<text transform="translate(615.2 694.68) scale(1.07 1)">80</text>
<text transform="translate(615.2 599.5) scale(1.07 1)">100</text>
<text transform="translate(75.7 1091) scale(1.07 1)" text-anchor="middle">0</text>
<text transform="translate(141.28 1091) scale(1.07 1)" text-anchor="middle">6</text>
<text transform="translate(205.85 1091) scale(1.07 1)" text-anchor="middle">12</text>
<text transform="translate(271.43 1091) scale(1.07 1)" text-anchor="middle">18</text>
<text transform="translate(337 1091) scale(1.07 1)" text-anchor="middle">24</text>
<text transform="translate(402.58 1091) scale(1.07 1)" text-anchor="middle">30</text>
<text transform="translate(468.15 1091) scale(1.07 1)" text-anchor="middle">36</text>
<text transform="translate(533.73 1091) scale(1.07 1)" text-anchor="middle">42</text>
<text transform="translate(599.3 1091) scale(1.07 1)" text-anchor="middle">48</text>
</g>
<text x="339.4" y="1121.3" text-anchor="middle" font-family='"Liberation Sans", sans-serif' font-weight="bold" font-size="17.2">Time [h]</text>
<text x="8.5" y="22" font-family='"Liberation Sans", sans-serif' font-weight="bold" font-size="24.5">a</text>
<text x="10.5" y="588.4" font-family='"Liberation Sans", sans-serif' font-weight="bold" font-size="24.5">b</text>
<line x1="10.4" y1="514.7" x2="10.4" y2="473" stroke="#000" stroke-width="1.4"/>
<path d="M10.4 487.9L16.7 493.5L10.4 499.1L4.1 493.5Z" fill="#000"/>
<text transform="translate(17 468.5) rotate(-90)" font-family='"Liberation Sans", sans-serif' font-weight="bold" font-size="17.2">CDW [g L<tspan dx="-0.6" dy="-6.5" font-size="12">-1</tspan><tspan dx="0.8" dy="6.5">]</tspan></text>
<line x1="10.4" y1="370" x2="10.4" y2="329" stroke="#00B050" stroke-width="1.4"/>
<rect x="6" y="345.6" width="8.8" height="8.8" fill="#00B050"/>
<text transform="translate(17 320.3) rotate(-90)" font-family='"Liberation Sans", sans-serif' font-weight="bold" font-size="17.2">Glutarate&#160; [g L<tspan dx="-0.6" dy="-6.5" font-size="12">-1</tspan><tspan dx="0.8" dy="6.5">]</tspan></text>
<line x1="10.4" y1="183" x2="10.4" y2="141" stroke="#C00000" stroke-width="1.4"/>
<path d="M10.4 156.4L16.7 162L10.4 167.6L4.1 162Z" fill="#C00000"/>
<text transform="translate(17 137) rotate(-90)" font-family='"Liberation Sans", sans-serif' font-weight="bold" font-size="17.2">5AVA [g L<tspan dx="-0.6" dy="-6.5" font-size="12">-1</tspan><tspan dx="0.8" dy="6.5">]</tspan></text>
<line x1="671.4" y1="398.5" x2="671.4" y2="357.3" stroke="#EC008C" stroke-width="1.4"/>
<polygon points="671.4,373.65 667.37,375.98 667.37,380.62 671.4,382.95 675.43,380.62 675.43,375.98" fill="#fff" stroke="#EC008C" stroke-width="1.7"/>
<text transform="translate(677.6 353) rotate(-90)" font-family='"Liberation Sans", sans-serif' font-weight="bold" font-size="17.2">Glucose [g L<tspan dx="-0.6" dy="-6.5" font-size="12">-1</tspan><tspan dx="0.8" dy="6.5">]</tspan></text>
<line x1="671.4" y1="228.5" x2="671.4" y2="186.9" stroke="#5A6EFF" stroke-width="1.4"/>
<text transform="translate(677.6 183.4) rotate(-90)" font-family='"Liberation Sans", sans-serif' font-weight="bold" font-size="17.2">rDOS [%]</text>
<line x1="13.6" y1="1087.6" x2="13.6" y2="1046.6" stroke="#000" stroke-width="1.4"/>
<path d="M13.6 1061.7L19.9 1067.3L13.6 1072.9L7.3 1067.3Z" fill="#000"/>
<text transform="translate(20.2 1042.6) rotate(-90)" font-family='"Liberation Sans", sans-serif' font-weight="bold" font-size="17.2">CDW [g L<tspan dx="-0.6" dy="-6.5" font-size="12">-1</tspan><tspan dx="0.8" dy="6.5">]</tspan></text>
<line x1="13.6" y1="944.5" x2="13.6" y2="902.3" stroke="#00B050" stroke-width="1.4"/>
<rect x="9.2" y="918.9" width="8.8" height="8.8" fill="#00B050"/>
<text transform="translate(20.2 893.6) rotate(-90)" font-family='"Liberation Sans", sans-serif' font-weight="bold" font-size="17.2">Glutarate&#160; [g L<tspan dx="-0.6" dy="-6.5" font-size="12">-1</tspan><tspan dx="0.8" dy="6.5">]</tspan></text>
<line x1="13.6" y1="756.7" x2="13.6" y2="714.9" stroke="#C00000" stroke-width="1.4"/>
<path d="M13.6 729.9L19.9 735.5L13.6 741.1L7.3 735.5Z" fill="#C00000"/>
<text transform="translate(20.2 710.8) rotate(-90)" font-family='"Liberation Sans", sans-serif' font-weight="bold" font-size="17.2">5AVA [g L<tspan dx="-0.6" dy="-6.5" font-size="12">-1</tspan><tspan dx="0.8" dy="6.5">]</tspan></text>
<line x1="671.4" y1="973.1" x2="671.4" y2="930.8" stroke="#EC008C" stroke-width="1.4"/>
<polygon points="671.4,946.95 667.37,949.27 667.37,953.93 671.4,956.25 675.43,953.93 675.43,949.27" fill="#fff" stroke="#EC008C" stroke-width="1.7"/>
<text transform="translate(677.6 926.8) rotate(-90)" font-family='"Liberation Sans", sans-serif' font-weight="bold" font-size="17.2">Glucose [g L<tspan dx="-0.6" dy="-6.5" font-size="12">-1</tspan><tspan dx="0.8" dy="6.5">]</tspan></text>
<line x1="671.4" y1="801.9" x2="671.4" y2="760.8" stroke="#5A6EFF" stroke-width="1.4"/>
<text transform="translate(677.6 756.1) rotate(-90)" font-family='"Liberation Sans", sans-serif' font-weight="bold" font-size="17.2">rDOS [%]</text>
</svg></body></html>
